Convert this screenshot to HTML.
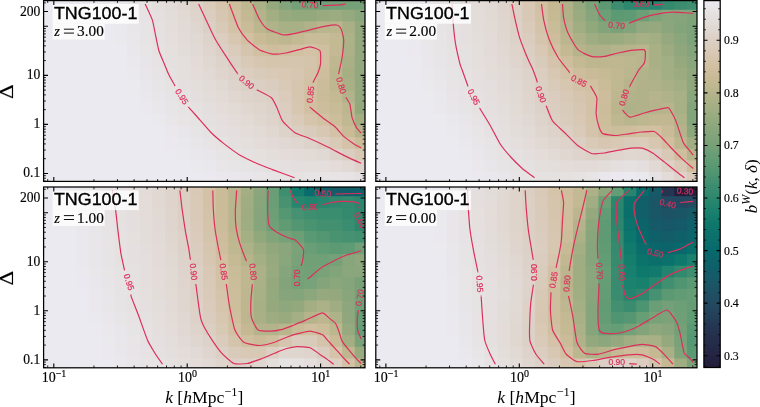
<!DOCTYPE html><html><head><meta charset="utf-8"><style>html,body{margin:0;padding:0;background:#fff;}svg{display:block;will-change:transform;}.t{font-family:"Liberation Serif",serif;fill:#000;stroke:#000;stroke-width:0.15px;}.u{font-family:"Liberation Serif",serif;fill:#000;}.s{font-family:"Liberation Sans",sans-serif;fill:#000;}</style></head><body>
<svg width="760" height="407" viewBox="0 0 760 407">
<rect width="760" height="407" fill="#fff"/>
<defs>
<clipPath id="cTL"><rect x="43.6" y="0.6" width="321.40" height="180.80"/></clipPath>
<clipPath id="cTR"><rect x="375.8" y="0.6" width="321.20" height="180.80"/></clipPath>
<clipPath id="cBL"><rect x="43.6" y="187.0" width="321.40" height="180.80"/></clipPath>
<clipPath id="cBR"><rect x="375.8" y="187.0" width="321.20" height="180.80"/></clipPath>
</defs>
<g clip-path="url(#cTL)">
<rect x="43.60" y="0.60" width="8.60" height="10.20" fill="#ebeaf0"/>
<rect x="51.20" y="0.60" width="13.65" height="10.20" fill="#ebeaf0"/>
<rect x="63.85" y="0.60" width="13.65" height="10.20" fill="#ebeaf0"/>
<rect x="76.50" y="0.60" width="13.65" height="10.20" fill="#ebeaf0"/>
<rect x="89.15" y="0.60" width="13.65" height="10.20" fill="#ebeaf0"/>
<rect x="101.80" y="0.60" width="13.65" height="10.20" fill="#ebeaef"/>
<rect x="114.45" y="0.60" width="13.65" height="10.20" fill="#e9e7eb"/>
<rect x="127.10" y="0.60" width="13.65" height="10.20" fill="#e8e4e6"/>
<rect x="139.75" y="0.60" width="13.65" height="10.20" fill="#e6e2e2"/>
<rect x="152.40" y="0.60" width="13.65" height="10.20" fill="#e4dfdd"/>
<rect x="165.05" y="0.60" width="13.65" height="10.20" fill="#e2dbd7"/>
<rect x="177.70" y="0.60" width="13.65" height="10.20" fill="#e0d7d0"/>
<rect x="190.35" y="0.60" width="13.65" height="10.20" fill="#ddd1c8"/>
<rect x="203.00" y="0.60" width="13.65" height="10.20" fill="#dacbbb"/>
<rect x="215.65" y="0.60" width="13.65" height="10.20" fill="#d5c5ac"/>
<rect x="228.30" y="0.60" width="13.65" height="10.20" fill="#cdbe9c"/>
<rect x="240.95" y="0.60" width="13.65" height="10.20" fill="#bfb790"/>
<rect x="253.60" y="0.60" width="13.65" height="10.20" fill="#abb187"/>
<rect x="266.25" y="0.60" width="13.65" height="10.20" fill="#96a97e"/>
<rect x="278.90" y="0.60" width="13.65" height="10.20" fill="#84a47b"/>
<rect x="291.55" y="0.60" width="13.65" height="10.20" fill="#76a178"/>
<rect x="304.20" y="0.60" width="13.65" height="10.20" fill="#73a077"/>
<rect x="316.85" y="0.60" width="13.65" height="10.20" fill="#70a077"/>
<rect x="329.50" y="0.60" width="13.65" height="10.20" fill="#72a077"/>
<rect x="342.15" y="0.60" width="13.65" height="10.20" fill="#76a178"/>
<rect x="354.80" y="0.60" width="11.20" height="10.20" fill="#76a178"/>
<rect x="43.60" y="9.80" width="8.60" height="12.59" fill="#ebeaf0"/>
<rect x="51.20" y="9.80" width="13.65" height="12.59" fill="#ebeaf0"/>
<rect x="63.85" y="9.80" width="13.65" height="12.59" fill="#ebeaf0"/>
<rect x="76.50" y="9.80" width="13.65" height="12.59" fill="#ebeaf0"/>
<rect x="89.15" y="9.80" width="13.65" height="12.59" fill="#ebeaf0"/>
<rect x="101.80" y="9.80" width="13.65" height="12.59" fill="#ebeaf0"/>
<rect x="114.45" y="9.80" width="13.65" height="12.59" fill="#eae8ec"/>
<rect x="127.10" y="9.80" width="13.65" height="12.59" fill="#e8e5e8"/>
<rect x="139.75" y="9.80" width="13.65" height="12.59" fill="#e7e3e4"/>
<rect x="152.40" y="9.80" width="13.65" height="12.59" fill="#e5e0df"/>
<rect x="165.05" y="9.80" width="13.65" height="12.59" fill="#e3ddda"/>
<rect x="177.70" y="9.80" width="13.65" height="12.59" fill="#e1d9d3"/>
<rect x="190.35" y="9.80" width="13.65" height="12.59" fill="#ded4cc"/>
<rect x="203.00" y="9.80" width="13.65" height="12.59" fill="#dbcec1"/>
<rect x="215.65" y="9.80" width="13.65" height="12.59" fill="#d7c7b2"/>
<rect x="228.30" y="9.80" width="13.65" height="12.59" fill="#d1c0a1"/>
<rect x="240.95" y="9.80" width="13.65" height="12.59" fill="#c4b993"/>
<rect x="253.60" y="9.80" width="13.65" height="12.59" fill="#b4b38b"/>
<rect x="266.25" y="9.80" width="13.65" height="12.59" fill="#a3ae83"/>
<rect x="278.90" y="9.80" width="13.65" height="12.59" fill="#97a97e"/>
<rect x="291.55" y="9.80" width="13.65" height="12.59" fill="#92a87d"/>
<rect x="304.20" y="9.80" width="13.65" height="12.59" fill="#94a87e"/>
<rect x="316.85" y="9.80" width="13.65" height="12.59" fill="#99aa7f"/>
<rect x="329.50" y="9.80" width="13.65" height="12.59" fill="#9cac81"/>
<rect x="342.15" y="9.80" width="13.65" height="12.59" fill="#95a97e"/>
<rect x="354.80" y="9.80" width="11.20" height="12.59" fill="#8aa67c"/>
<rect x="43.60" y="21.39" width="8.60" height="12.59" fill="#ebeaf0"/>
<rect x="51.20" y="21.39" width="13.65" height="12.59" fill="#ebeaf0"/>
<rect x="63.85" y="21.39" width="13.65" height="12.59" fill="#ebeaf0"/>
<rect x="76.50" y="21.39" width="13.65" height="12.59" fill="#ebeaf0"/>
<rect x="89.15" y="21.39" width="13.65" height="12.59" fill="#ebeaf0"/>
<rect x="101.80" y="21.39" width="13.65" height="12.59" fill="#ebeaf0"/>
<rect x="114.45" y="21.39" width="13.65" height="12.59" fill="#eae9ed"/>
<rect x="127.10" y="21.39" width="13.65" height="12.59" fill="#e9e6e9"/>
<rect x="139.75" y="21.39" width="13.65" height="12.59" fill="#e7e4e5"/>
<rect x="152.40" y="21.39" width="13.65" height="12.59" fill="#e5e1e0"/>
<rect x="165.05" y="21.39" width="13.65" height="12.59" fill="#e4dedb"/>
<rect x="177.70" y="21.39" width="13.65" height="12.59" fill="#e2dad6"/>
<rect x="190.35" y="21.39" width="13.65" height="12.59" fill="#dfd6cf"/>
<rect x="203.00" y="21.39" width="13.65" height="12.59" fill="#dcd0c6"/>
<rect x="215.65" y="21.39" width="13.65" height="12.59" fill="#d9cab8"/>
<rect x="228.30" y="21.39" width="13.65" height="12.59" fill="#d4c2a7"/>
<rect x="240.95" y="21.39" width="13.65" height="12.59" fill="#cabc98"/>
<rect x="253.60" y="21.39" width="13.65" height="12.59" fill="#bcb68f"/>
<rect x="266.25" y="21.39" width="13.65" height="12.59" fill="#b0b289"/>
<rect x="278.90" y="21.39" width="13.65" height="12.59" fill="#a8b085"/>
<rect x="291.55" y="21.39" width="13.65" height="12.59" fill="#a9b086"/>
<rect x="304.20" y="21.39" width="13.65" height="12.59" fill="#b1b289"/>
<rect x="316.85" y="21.39" width="13.65" height="12.59" fill="#b9b58d"/>
<rect x="329.50" y="21.39" width="13.65" height="12.59" fill="#bcb68f"/>
<rect x="342.15" y="21.39" width="13.65" height="12.59" fill="#aab086"/>
<rect x="354.80" y="21.39" width="11.20" height="12.59" fill="#93a87e"/>
<rect x="43.60" y="32.97" width="8.60" height="12.59" fill="#ebeaf0"/>
<rect x="51.20" y="32.97" width="13.65" height="12.59" fill="#ebeaf0"/>
<rect x="63.85" y="32.97" width="13.65" height="12.59" fill="#ebeaf0"/>
<rect x="76.50" y="32.97" width="13.65" height="12.59" fill="#ebeaf0"/>
<rect x="89.15" y="32.97" width="13.65" height="12.59" fill="#ebeaf0"/>
<rect x="101.80" y="32.97" width="13.65" height="12.59" fill="#ebeaf0"/>
<rect x="114.45" y="32.97" width="13.65" height="12.59" fill="#eae9ee"/>
<rect x="127.10" y="32.97" width="13.65" height="12.59" fill="#e9e7ea"/>
<rect x="139.75" y="32.97" width="13.65" height="12.59" fill="#e7e4e6"/>
<rect x="152.40" y="32.97" width="13.65" height="12.59" fill="#e6e1e1"/>
<rect x="165.05" y="32.97" width="13.65" height="12.59" fill="#e4dfdd"/>
<rect x="177.70" y="32.97" width="13.65" height="12.59" fill="#e2dbd8"/>
<rect x="190.35" y="32.97" width="13.65" height="12.59" fill="#e0d8d2"/>
<rect x="203.00" y="32.97" width="13.65" height="12.59" fill="#ded3ca"/>
<rect x="215.65" y="32.97" width="13.65" height="12.59" fill="#dbcdc0"/>
<rect x="228.30" y="32.97" width="13.65" height="12.59" fill="#d7c7b1"/>
<rect x="240.95" y="32.97" width="13.65" height="12.59" fill="#d1c0a1"/>
<rect x="253.60" y="32.97" width="13.65" height="12.59" fill="#c8bb96"/>
<rect x="266.25" y="32.97" width="13.65" height="12.59" fill="#c2b892"/>
<rect x="278.90" y="32.97" width="13.65" height="12.59" fill="#bdb78f"/>
<rect x="291.55" y="32.97" width="13.65" height="12.59" fill="#c3b992"/>
<rect x="304.20" y="32.97" width="13.65" height="12.59" fill="#c9bc98"/>
<rect x="316.85" y="32.97" width="13.65" height="12.59" fill="#c9bc98"/>
<rect x="329.50" y="32.97" width="13.65" height="12.59" fill="#c3b992"/>
<rect x="342.15" y="32.97" width="13.65" height="12.59" fill="#aeb288"/>
<rect x="354.80" y="32.97" width="11.20" height="12.59" fill="#93a87e"/>
<rect x="43.60" y="44.56" width="8.60" height="12.59" fill="#ebeaf0"/>
<rect x="51.20" y="44.56" width="13.65" height="12.59" fill="#ebeaf0"/>
<rect x="63.85" y="44.56" width="13.65" height="12.59" fill="#ebeaf0"/>
<rect x="76.50" y="44.56" width="13.65" height="12.59" fill="#ebeaf0"/>
<rect x="89.15" y="44.56" width="13.65" height="12.59" fill="#ebeaf0"/>
<rect x="101.80" y="44.56" width="13.65" height="12.59" fill="#ebeaf0"/>
<rect x="114.45" y="44.56" width="13.65" height="12.59" fill="#ebeaf0"/>
<rect x="127.10" y="44.56" width="13.65" height="12.59" fill="#e9e7eb"/>
<rect x="139.75" y="44.56" width="13.65" height="12.59" fill="#e8e5e7"/>
<rect x="152.40" y="44.56" width="13.65" height="12.59" fill="#e6e2e2"/>
<rect x="165.05" y="44.56" width="13.65" height="12.59" fill="#e5dfde"/>
<rect x="177.70" y="44.56" width="13.65" height="12.59" fill="#e3ddda"/>
<rect x="190.35" y="44.56" width="13.65" height="12.59" fill="#e1d9d5"/>
<rect x="203.00" y="44.56" width="13.65" height="12.59" fill="#dfd5ce"/>
<rect x="215.65" y="44.56" width="13.65" height="12.59" fill="#dcd0c6"/>
<rect x="228.30" y="44.56" width="13.65" height="12.59" fill="#dacbbb"/>
<rect x="240.95" y="44.56" width="13.65" height="12.59" fill="#d6c5ae"/>
<rect x="253.60" y="44.56" width="13.65" height="12.59" fill="#d2c0a2"/>
<rect x="266.25" y="44.56" width="13.65" height="12.59" fill="#cfbe9e"/>
<rect x="278.90" y="44.56" width="13.65" height="12.59" fill="#d0bf9f"/>
<rect x="291.55" y="44.56" width="13.65" height="12.59" fill="#d2c0a3"/>
<rect x="304.20" y="44.56" width="13.65" height="12.59" fill="#d4c2a7"/>
<rect x="316.85" y="44.56" width="13.65" height="12.59" fill="#d0bfa0"/>
<rect x="329.50" y="44.56" width="13.65" height="12.59" fill="#c3b992"/>
<rect x="342.15" y="44.56" width="13.65" height="12.59" fill="#acb187"/>
<rect x="354.80" y="44.56" width="11.20" height="12.59" fill="#93a87e"/>
<rect x="43.60" y="56.14" width="8.60" height="12.59" fill="#ebeaf0"/>
<rect x="51.20" y="56.14" width="13.65" height="12.59" fill="#ebeaf0"/>
<rect x="63.85" y="56.14" width="13.65" height="12.59" fill="#ebeaf0"/>
<rect x="76.50" y="56.14" width="13.65" height="12.59" fill="#ebeaf0"/>
<rect x="89.15" y="56.14" width="13.65" height="12.59" fill="#ebeaf0"/>
<rect x="101.80" y="56.14" width="13.65" height="12.59" fill="#ebeaf0"/>
<rect x="114.45" y="56.14" width="13.65" height="12.59" fill="#ebeaf0"/>
<rect x="127.10" y="56.14" width="13.65" height="12.59" fill="#eae8ec"/>
<rect x="139.75" y="56.14" width="13.65" height="12.59" fill="#e8e5e8"/>
<rect x="152.40" y="56.14" width="13.65" height="12.59" fill="#e7e3e4"/>
<rect x="165.05" y="56.14" width="13.65" height="12.59" fill="#e5e0e0"/>
<rect x="177.70" y="56.14" width="13.65" height="12.59" fill="#e4dedc"/>
<rect x="190.35" y="56.14" width="13.65" height="12.59" fill="#e2dbd7"/>
<rect x="203.00" y="56.14" width="13.65" height="12.59" fill="#e0d7d1"/>
<rect x="215.65" y="56.14" width="13.65" height="12.59" fill="#ded3cb"/>
<rect x="228.30" y="56.14" width="13.65" height="12.59" fill="#dbcec2"/>
<rect x="240.95" y="56.14" width="13.65" height="12.59" fill="#d9cab8"/>
<rect x="253.60" y="56.14" width="13.65" height="12.59" fill="#d7c6b0"/>
<rect x="266.25" y="56.14" width="13.65" height="12.59" fill="#d5c5ac"/>
<rect x="278.90" y="56.14" width="13.65" height="12.59" fill="#d6c5ad"/>
<rect x="291.55" y="56.14" width="13.65" height="12.59" fill="#d6c5ae"/>
<rect x="304.20" y="56.14" width="13.65" height="12.59" fill="#d5c4ac"/>
<rect x="316.85" y="56.14" width="13.65" height="12.59" fill="#d1bfa0"/>
<rect x="329.50" y="56.14" width="13.65" height="12.59" fill="#bfb790"/>
<rect x="342.15" y="56.14" width="13.65" height="12.59" fill="#a9b086"/>
<rect x="354.80" y="56.14" width="11.20" height="12.59" fill="#93a87e"/>
<rect x="43.60" y="67.73" width="8.60" height="12.59" fill="#ebeaf0"/>
<rect x="51.20" y="67.73" width="13.65" height="12.59" fill="#ebeaf0"/>
<rect x="63.85" y="67.73" width="13.65" height="12.59" fill="#ebeaf0"/>
<rect x="76.50" y="67.73" width="13.65" height="12.59" fill="#ebeaf0"/>
<rect x="89.15" y="67.73" width="13.65" height="12.59" fill="#ebeaf0"/>
<rect x="101.80" y="67.73" width="13.65" height="12.59" fill="#ebeaf0"/>
<rect x="114.45" y="67.73" width="13.65" height="12.59" fill="#ebeaf0"/>
<rect x="127.10" y="67.73" width="13.65" height="12.59" fill="#eae9ee"/>
<rect x="139.75" y="67.73" width="13.65" height="12.59" fill="#e9e6e9"/>
<rect x="152.40" y="67.73" width="13.65" height="12.59" fill="#e7e4e5"/>
<rect x="165.05" y="67.73" width="13.65" height="12.59" fill="#e6e1e1"/>
<rect x="177.70" y="67.73" width="13.65" height="12.59" fill="#e4dfdd"/>
<rect x="190.35" y="67.73" width="13.65" height="12.59" fill="#e3dcd9"/>
<rect x="203.00" y="67.73" width="13.65" height="12.59" fill="#e1d9d4"/>
<rect x="215.65" y="67.73" width="13.65" height="12.59" fill="#dfd5ce"/>
<rect x="228.30" y="67.73" width="13.65" height="12.59" fill="#ddd1c8"/>
<rect x="240.95" y="67.73" width="13.65" height="12.59" fill="#dbcdc0"/>
<rect x="253.60" y="67.73" width="13.65" height="12.59" fill="#d9cbba"/>
<rect x="266.25" y="67.73" width="13.65" height="12.59" fill="#d9c9b7"/>
<rect x="278.90" y="67.73" width="13.65" height="12.59" fill="#d8c8b4"/>
<rect x="291.55" y="67.73" width="13.65" height="12.59" fill="#d7c6b0"/>
<rect x="304.20" y="67.73" width="13.65" height="12.59" fill="#d4c3a9"/>
<rect x="316.85" y="67.73" width="13.65" height="12.59" fill="#cebe9e"/>
<rect x="329.50" y="67.73" width="13.65" height="12.59" fill="#bbb68e"/>
<rect x="342.15" y="67.73" width="13.65" height="12.59" fill="#a6af84"/>
<rect x="354.80" y="67.73" width="11.20" height="12.59" fill="#93a87e"/>
<rect x="43.60" y="79.32" width="8.60" height="12.59" fill="#ebeaf0"/>
<rect x="51.20" y="79.32" width="13.65" height="12.59" fill="#ebeaf0"/>
<rect x="63.85" y="79.32" width="13.65" height="12.59" fill="#ebeaf0"/>
<rect x="76.50" y="79.32" width="13.65" height="12.59" fill="#ebeaf0"/>
<rect x="89.15" y="79.32" width="13.65" height="12.59" fill="#ebeaf0"/>
<rect x="101.80" y="79.32" width="13.65" height="12.59" fill="#ebeaf0"/>
<rect x="114.45" y="79.32" width="13.65" height="12.59" fill="#ebeaf0"/>
<rect x="127.10" y="79.32" width="13.65" height="12.59" fill="#ebeaef"/>
<rect x="139.75" y="79.32" width="13.65" height="12.59" fill="#e9e7eb"/>
<rect x="152.40" y="79.32" width="13.65" height="12.59" fill="#e8e5e7"/>
<rect x="165.05" y="79.32" width="13.65" height="12.59" fill="#e6e3e3"/>
<rect x="177.70" y="79.32" width="13.65" height="12.59" fill="#e5e0df"/>
<rect x="190.35" y="79.32" width="13.65" height="12.59" fill="#e4dedb"/>
<rect x="203.00" y="79.32" width="13.65" height="12.59" fill="#e2dbd7"/>
<rect x="215.65" y="79.32" width="13.65" height="12.59" fill="#e0d8d2"/>
<rect x="228.30" y="79.32" width="13.65" height="12.59" fill="#ded4cc"/>
<rect x="240.95" y="79.32" width="13.65" height="12.59" fill="#dcd1c7"/>
<rect x="253.60" y="79.32" width="13.65" height="12.59" fill="#dbcec2"/>
<rect x="266.25" y="79.32" width="13.65" height="12.59" fill="#daccbe"/>
<rect x="278.90" y="79.32" width="13.65" height="12.59" fill="#d9cab8"/>
<rect x="291.55" y="79.32" width="13.65" height="12.59" fill="#d6c6af"/>
<rect x="304.20" y="79.32" width="13.65" height="12.59" fill="#d3c1a4"/>
<rect x="316.85" y="79.32" width="13.65" height="12.59" fill="#cbbc9a"/>
<rect x="329.50" y="79.32" width="13.65" height="12.59" fill="#beb790"/>
<rect x="342.15" y="79.32" width="13.65" height="12.59" fill="#aab086"/>
<rect x="354.80" y="79.32" width="11.20" height="12.59" fill="#93a87e"/>
<rect x="43.60" y="90.90" width="8.60" height="12.59" fill="#ebeaf0"/>
<rect x="51.20" y="90.90" width="13.65" height="12.59" fill="#ebeaf0"/>
<rect x="63.85" y="90.90" width="13.65" height="12.59" fill="#ebeaf0"/>
<rect x="76.50" y="90.90" width="13.65" height="12.59" fill="#ebeaf0"/>
<rect x="89.15" y="90.90" width="13.65" height="12.59" fill="#ebeaf0"/>
<rect x="101.80" y="90.90" width="13.65" height="12.59" fill="#ebeaf0"/>
<rect x="114.45" y="90.90" width="13.65" height="12.59" fill="#ebeaf0"/>
<rect x="127.10" y="90.90" width="13.65" height="12.59" fill="#ebeaf0"/>
<rect x="139.75" y="90.90" width="13.65" height="12.59" fill="#eae8ed"/>
<rect x="152.40" y="90.90" width="13.65" height="12.59" fill="#e9e6e9"/>
<rect x="165.05" y="90.90" width="13.65" height="12.59" fill="#e7e4e5"/>
<rect x="177.70" y="90.90" width="13.65" height="12.59" fill="#e6e2e1"/>
<rect x="190.35" y="90.90" width="13.65" height="12.59" fill="#e4dfde"/>
<rect x="203.00" y="90.90" width="13.65" height="12.59" fill="#e3ddda"/>
<rect x="215.65" y="90.90" width="13.65" height="12.59" fill="#e1dad5"/>
<rect x="228.30" y="90.90" width="13.65" height="12.59" fill="#e0d7d1"/>
<rect x="240.95" y="90.90" width="13.65" height="12.59" fill="#ded4cc"/>
<rect x="253.60" y="90.90" width="13.65" height="12.59" fill="#ddd2c9"/>
<rect x="266.25" y="90.90" width="13.65" height="12.59" fill="#dcd0c5"/>
<rect x="278.90" y="90.90" width="13.65" height="12.59" fill="#dacbbb"/>
<rect x="291.55" y="90.90" width="13.65" height="12.59" fill="#d6c6af"/>
<rect x="304.20" y="90.90" width="13.65" height="12.59" fill="#d1c0a1"/>
<rect x="316.85" y="90.90" width="13.65" height="12.59" fill="#cbbc99"/>
<rect x="329.50" y="90.90" width="13.65" height="12.59" fill="#c3b993"/>
<rect x="342.15" y="90.90" width="13.65" height="12.59" fill="#b2b38a"/>
<rect x="354.80" y="90.90" width="11.20" height="12.59" fill="#93a87e"/>
<rect x="43.60" y="102.49" width="8.60" height="12.59" fill="#ebeaf0"/>
<rect x="51.20" y="102.49" width="13.65" height="12.59" fill="#ebeaf0"/>
<rect x="63.85" y="102.49" width="13.65" height="12.59" fill="#ebeaf0"/>
<rect x="76.50" y="102.49" width="13.65" height="12.59" fill="#ebeaf0"/>
<rect x="89.15" y="102.49" width="13.65" height="12.59" fill="#ebeaf0"/>
<rect x="101.80" y="102.49" width="13.65" height="12.59" fill="#ebeaf0"/>
<rect x="114.45" y="102.49" width="13.65" height="12.59" fill="#ebeaf0"/>
<rect x="127.10" y="102.49" width="13.65" height="12.59" fill="#ebeaf0"/>
<rect x="139.75" y="102.49" width="13.65" height="12.59" fill="#ebe9ef"/>
<rect x="152.40" y="102.49" width="13.65" height="12.59" fill="#e9e7eb"/>
<rect x="165.05" y="102.49" width="13.65" height="12.59" fill="#e8e5e7"/>
<rect x="177.70" y="102.49" width="13.65" height="12.59" fill="#e7e3e4"/>
<rect x="190.35" y="102.49" width="13.65" height="12.59" fill="#e5e1e0"/>
<rect x="203.00" y="102.49" width="13.65" height="12.59" fill="#e4dfdd"/>
<rect x="215.65" y="102.49" width="13.65" height="12.59" fill="#e3dcd9"/>
<rect x="228.30" y="102.49" width="13.65" height="12.59" fill="#e1dad5"/>
<rect x="240.95" y="102.49" width="13.65" height="12.59" fill="#e0d7d1"/>
<rect x="253.60" y="102.49" width="13.65" height="12.59" fill="#dfd5cd"/>
<rect x="266.25" y="102.49" width="13.65" height="12.59" fill="#ddd2c9"/>
<rect x="278.90" y="102.49" width="13.65" height="12.59" fill="#dbcdc0"/>
<rect x="291.55" y="102.49" width="13.65" height="12.59" fill="#d7c7b1"/>
<rect x="304.20" y="102.49" width="13.65" height="12.59" fill="#d2c0a2"/>
<rect x="316.85" y="102.49" width="13.65" height="12.59" fill="#ccbd9c"/>
<rect x="329.50" y="102.49" width="13.65" height="12.59" fill="#c8bb97"/>
<rect x="342.15" y="102.49" width="13.65" height="12.59" fill="#bdb78f"/>
<rect x="354.80" y="102.49" width="11.20" height="12.59" fill="#94a87e"/>
<rect x="43.60" y="114.07" width="8.60" height="12.59" fill="#ebeaf0"/>
<rect x="51.20" y="114.07" width="13.65" height="12.59" fill="#ebeaf0"/>
<rect x="63.85" y="114.07" width="13.65" height="12.59" fill="#ebeaf0"/>
<rect x="76.50" y="114.07" width="13.65" height="12.59" fill="#ebeaf0"/>
<rect x="89.15" y="114.07" width="13.65" height="12.59" fill="#ebeaf0"/>
<rect x="101.80" y="114.07" width="13.65" height="12.59" fill="#ebeaf0"/>
<rect x="114.45" y="114.07" width="13.65" height="12.59" fill="#ebeaf0"/>
<rect x="127.10" y="114.07" width="13.65" height="12.59" fill="#ebeaf0"/>
<rect x="139.75" y="114.07" width="13.65" height="12.59" fill="#ebeaf0"/>
<rect x="152.40" y="114.07" width="13.65" height="12.59" fill="#eae9ed"/>
<rect x="165.05" y="114.07" width="13.65" height="12.59" fill="#e9e6ea"/>
<rect x="177.70" y="114.07" width="13.65" height="12.59" fill="#e8e4e6"/>
<rect x="190.35" y="114.07" width="13.65" height="12.59" fill="#e6e3e3"/>
<rect x="203.00" y="114.07" width="13.65" height="12.59" fill="#e5e0e0"/>
<rect x="215.65" y="114.07" width="13.65" height="12.59" fill="#e4dedc"/>
<rect x="228.30" y="114.07" width="13.65" height="12.59" fill="#e3dcd9"/>
<rect x="240.95" y="114.07" width="13.65" height="12.59" fill="#e1dad5"/>
<rect x="253.60" y="114.07" width="13.65" height="12.59" fill="#e0d7d1"/>
<rect x="266.25" y="114.07" width="13.65" height="12.59" fill="#ded4cc"/>
<rect x="278.90" y="114.07" width="13.65" height="12.59" fill="#dbcfc3"/>
<rect x="291.55" y="114.07" width="13.65" height="12.59" fill="#d9cab9"/>
<rect x="304.20" y="114.07" width="13.65" height="12.59" fill="#d6c5ad"/>
<rect x="316.85" y="114.07" width="13.65" height="12.59" fill="#d3c1a4"/>
<rect x="329.50" y="114.07" width="13.65" height="12.59" fill="#ccbd9b"/>
<rect x="342.15" y="114.07" width="13.65" height="12.59" fill="#c0b891"/>
<rect x="354.80" y="114.07" width="11.20" height="12.59" fill="#a3ae83"/>
<rect x="43.60" y="125.66" width="8.60" height="12.59" fill="#ebeaf0"/>
<rect x="51.20" y="125.66" width="13.65" height="12.59" fill="#ebeaf0"/>
<rect x="63.85" y="125.66" width="13.65" height="12.59" fill="#ebeaf0"/>
<rect x="76.50" y="125.66" width="13.65" height="12.59" fill="#ebeaf0"/>
<rect x="89.15" y="125.66" width="13.65" height="12.59" fill="#ebeaf0"/>
<rect x="101.80" y="125.66" width="13.65" height="12.59" fill="#ebeaf0"/>
<rect x="114.45" y="125.66" width="13.65" height="12.59" fill="#ebeaf0"/>
<rect x="127.10" y="125.66" width="13.65" height="12.59" fill="#ebeaf0"/>
<rect x="139.75" y="125.66" width="13.65" height="12.59" fill="#ebeaf0"/>
<rect x="152.40" y="125.66" width="13.65" height="12.59" fill="#ebeaf0"/>
<rect x="165.05" y="125.66" width="13.65" height="12.59" fill="#eae8ec"/>
<rect x="177.70" y="125.66" width="13.65" height="12.59" fill="#e8e6e9"/>
<rect x="190.35" y="125.66" width="13.65" height="12.59" fill="#e7e4e6"/>
<rect x="203.00" y="125.66" width="13.65" height="12.59" fill="#e6e2e2"/>
<rect x="215.65" y="125.66" width="13.65" height="12.59" fill="#e5e0df"/>
<rect x="228.30" y="125.66" width="13.65" height="12.59" fill="#e4dedc"/>
<rect x="240.95" y="125.66" width="13.65" height="12.59" fill="#e3dcd9"/>
<rect x="253.60" y="125.66" width="13.65" height="12.59" fill="#e1dad5"/>
<rect x="266.25" y="125.66" width="13.65" height="12.59" fill="#e0d7d0"/>
<rect x="278.90" y="125.66" width="13.65" height="12.59" fill="#ded3cb"/>
<rect x="291.55" y="125.66" width="13.65" height="12.59" fill="#dbcfc3"/>
<rect x="304.20" y="125.66" width="13.65" height="12.59" fill="#daccbc"/>
<rect x="316.85" y="125.66" width="13.65" height="12.59" fill="#d8c7b3"/>
<rect x="329.50" y="125.66" width="13.65" height="12.59" fill="#d4c2a7"/>
<rect x="342.15" y="125.66" width="13.65" height="12.59" fill="#c8bb96"/>
<rect x="354.80" y="125.66" width="11.20" height="12.59" fill="#b4b38b"/>
<rect x="43.60" y="137.25" width="8.60" height="12.59" fill="#ebeaf0"/>
<rect x="51.20" y="137.25" width="13.65" height="12.59" fill="#ebeaf0"/>
<rect x="63.85" y="137.25" width="13.65" height="12.59" fill="#ebeaf0"/>
<rect x="76.50" y="137.25" width="13.65" height="12.59" fill="#ebeaf0"/>
<rect x="89.15" y="137.25" width="13.65" height="12.59" fill="#ebeaf0"/>
<rect x="101.80" y="137.25" width="13.65" height="12.59" fill="#ebeaf0"/>
<rect x="114.45" y="137.25" width="13.65" height="12.59" fill="#ebeaf0"/>
<rect x="127.10" y="137.25" width="13.65" height="12.59" fill="#ebeaf0"/>
<rect x="139.75" y="137.25" width="13.65" height="12.59" fill="#ebeaf0"/>
<rect x="152.40" y="137.25" width="13.65" height="12.59" fill="#ebeaf0"/>
<rect x="165.05" y="137.25" width="13.65" height="12.59" fill="#ebe9ef"/>
<rect x="177.70" y="137.25" width="13.65" height="12.59" fill="#e9e8ec"/>
<rect x="190.35" y="137.25" width="13.65" height="12.59" fill="#e8e6e8"/>
<rect x="203.00" y="137.25" width="13.65" height="12.59" fill="#e7e4e5"/>
<rect x="215.65" y="137.25" width="13.65" height="12.59" fill="#e6e2e2"/>
<rect x="228.30" y="137.25" width="13.65" height="12.59" fill="#e5e0e0"/>
<rect x="240.95" y="137.25" width="13.65" height="12.59" fill="#e4dfdd"/>
<rect x="253.60" y="137.25" width="13.65" height="12.59" fill="#e3dcd9"/>
<rect x="266.25" y="137.25" width="13.65" height="12.59" fill="#e2dad6"/>
<rect x="278.90" y="137.25" width="13.65" height="12.59" fill="#e0d8d2"/>
<rect x="291.55" y="137.25" width="13.65" height="12.59" fill="#dfd6cf"/>
<rect x="304.20" y="137.25" width="13.65" height="12.59" fill="#ded3ca"/>
<rect x="316.85" y="137.25" width="13.65" height="12.59" fill="#dbcfc3"/>
<rect x="329.50" y="137.25" width="13.65" height="12.59" fill="#d9cab8"/>
<rect x="342.15" y="137.25" width="13.65" height="12.59" fill="#d4c3a8"/>
<rect x="354.80" y="137.25" width="11.20" height="12.59" fill="#cabc99"/>
<rect x="43.60" y="148.83" width="8.60" height="12.59" fill="#ebeaf0"/>
<rect x="51.20" y="148.83" width="13.65" height="12.59" fill="#ebeaf0"/>
<rect x="63.85" y="148.83" width="13.65" height="12.59" fill="#ebeaf0"/>
<rect x="76.50" y="148.83" width="13.65" height="12.59" fill="#ebeaf0"/>
<rect x="89.15" y="148.83" width="13.65" height="12.59" fill="#ebeaf0"/>
<rect x="101.80" y="148.83" width="13.65" height="12.59" fill="#ebeaf0"/>
<rect x="114.45" y="148.83" width="13.65" height="12.59" fill="#ebeaf0"/>
<rect x="127.10" y="148.83" width="13.65" height="12.59" fill="#ebeaf0"/>
<rect x="139.75" y="148.83" width="13.65" height="12.59" fill="#ebeaf0"/>
<rect x="152.40" y="148.83" width="13.65" height="12.59" fill="#ebeaf0"/>
<rect x="165.05" y="148.83" width="13.65" height="12.59" fill="#ebeaf0"/>
<rect x="177.70" y="148.83" width="13.65" height="12.59" fill="#eae9ee"/>
<rect x="190.35" y="148.83" width="13.65" height="12.59" fill="#e9e7eb"/>
<rect x="203.00" y="148.83" width="13.65" height="12.59" fill="#e8e6e8"/>
<rect x="215.65" y="148.83" width="13.65" height="12.59" fill="#e7e4e6"/>
<rect x="228.30" y="148.83" width="13.65" height="12.59" fill="#e6e3e3"/>
<rect x="240.95" y="148.83" width="13.65" height="12.59" fill="#e5e1e0"/>
<rect x="253.60" y="148.83" width="13.65" height="12.59" fill="#e5dfde"/>
<rect x="266.25" y="148.83" width="13.65" height="12.59" fill="#e4dedb"/>
<rect x="278.90" y="148.83" width="13.65" height="12.59" fill="#e3dcd9"/>
<rect x="291.55" y="148.83" width="13.65" height="12.59" fill="#e2dbd7"/>
<rect x="304.20" y="148.83" width="13.65" height="12.59" fill="#e1dad5"/>
<rect x="316.85" y="148.83" width="13.65" height="12.59" fill="#e0d8d2"/>
<rect x="329.50" y="148.83" width="13.65" height="12.59" fill="#ded3cb"/>
<rect x="342.15" y="148.83" width="13.65" height="12.59" fill="#dbcec0"/>
<rect x="354.80" y="148.83" width="11.20" height="12.59" fill="#d8c7b3"/>
<rect x="43.60" y="160.42" width="8.60" height="12.59" fill="#ebeaf0"/>
<rect x="51.20" y="160.42" width="13.65" height="12.59" fill="#ebeaf0"/>
<rect x="63.85" y="160.42" width="13.65" height="12.59" fill="#ebeaf0"/>
<rect x="76.50" y="160.42" width="13.65" height="12.59" fill="#ebeaf0"/>
<rect x="89.15" y="160.42" width="13.65" height="12.59" fill="#ebeaf0"/>
<rect x="101.80" y="160.42" width="13.65" height="12.59" fill="#ebeaf0"/>
<rect x="114.45" y="160.42" width="13.65" height="12.59" fill="#ebeaf0"/>
<rect x="127.10" y="160.42" width="13.65" height="12.59" fill="#ebeaf0"/>
<rect x="139.75" y="160.42" width="13.65" height="12.59" fill="#ebeaf0"/>
<rect x="152.40" y="160.42" width="13.65" height="12.59" fill="#ebeaf0"/>
<rect x="165.05" y="160.42" width="13.65" height="12.59" fill="#ebeaf0"/>
<rect x="177.70" y="160.42" width="13.65" height="12.59" fill="#ebeaf0"/>
<rect x="190.35" y="160.42" width="13.65" height="12.59" fill="#eae9ee"/>
<rect x="203.00" y="160.42" width="13.65" height="12.59" fill="#e9e8ec"/>
<rect x="215.65" y="160.42" width="13.65" height="12.59" fill="#e9e6e9"/>
<rect x="228.30" y="160.42" width="13.65" height="12.59" fill="#e8e5e7"/>
<rect x="240.95" y="160.42" width="13.65" height="12.59" fill="#e7e4e5"/>
<rect x="253.60" y="160.42" width="13.65" height="12.59" fill="#e6e2e3"/>
<rect x="266.25" y="160.42" width="13.65" height="12.59" fill="#e6e1e1"/>
<rect x="278.90" y="160.42" width="13.65" height="12.59" fill="#e5e0df"/>
<rect x="291.55" y="160.42" width="13.65" height="12.59" fill="#e4dfdd"/>
<rect x="304.20" y="160.42" width="13.65" height="12.59" fill="#e4dfdd"/>
<rect x="316.85" y="160.42" width="13.65" height="12.59" fill="#e4dedc"/>
<rect x="329.50" y="160.42" width="13.65" height="12.59" fill="#e3dcd9"/>
<rect x="342.15" y="160.42" width="13.65" height="12.59" fill="#e1d9d4"/>
<rect x="354.80" y="160.42" width="11.20" height="12.59" fill="#ded3cb"/>
<rect x="43.60" y="172.00" width="8.60" height="10.40" fill="#ebeaf0"/>
<rect x="51.20" y="172.00" width="13.65" height="10.40" fill="#ebeaf0"/>
<rect x="63.85" y="172.00" width="13.65" height="10.40" fill="#ebeaf0"/>
<rect x="76.50" y="172.00" width="13.65" height="10.40" fill="#ebeaf0"/>
<rect x="89.15" y="172.00" width="13.65" height="10.40" fill="#ebeaf0"/>
<rect x="101.80" y="172.00" width="13.65" height="10.40" fill="#ebeaf0"/>
<rect x="114.45" y="172.00" width="13.65" height="10.40" fill="#ebeaf0"/>
<rect x="127.10" y="172.00" width="13.65" height="10.40" fill="#ebeaf0"/>
<rect x="139.75" y="172.00" width="13.65" height="10.40" fill="#ebeaf0"/>
<rect x="152.40" y="172.00" width="13.65" height="10.40" fill="#ebeaf0"/>
<rect x="165.05" y="172.00" width="13.65" height="10.40" fill="#ebeaf0"/>
<rect x="177.70" y="172.00" width="13.65" height="10.40" fill="#ebeaf0"/>
<rect x="190.35" y="172.00" width="13.65" height="10.40" fill="#ebeaf0"/>
<rect x="203.00" y="172.00" width="13.65" height="10.40" fill="#ebe9ef"/>
<rect x="215.65" y="172.00" width="13.65" height="10.40" fill="#eae8ed"/>
<rect x="228.30" y="172.00" width="13.65" height="10.40" fill="#e9e7eb"/>
<rect x="240.95" y="172.00" width="13.65" height="10.40" fill="#e9e6e9"/>
<rect x="253.60" y="172.00" width="13.65" height="10.40" fill="#e8e5e7"/>
<rect x="266.25" y="172.00" width="13.65" height="10.40" fill="#e7e4e5"/>
<rect x="278.90" y="172.00" width="13.65" height="10.40" fill="#e6e3e3"/>
<rect x="291.55" y="172.00" width="13.65" height="10.40" fill="#e6e2e2"/>
<rect x="304.20" y="172.00" width="13.65" height="10.40" fill="#e7e3e4"/>
<rect x="316.85" y="172.00" width="13.65" height="10.40" fill="#e8e4e6"/>
<rect x="329.50" y="172.00" width="13.65" height="10.40" fill="#e8e4e6"/>
<rect x="342.15" y="172.00" width="13.65" height="10.40" fill="#e7e3e4"/>
<rect x="354.80" y="172.00" width="11.20" height="10.40" fill="#e5e0df"/>
</g>
<g clip-path="url(#cTL)"><g fill="none" stroke="#dd2f5c" stroke-width="1.2" stroke-linejoin="round" stroke-linecap="butt">
<path d="M145.2,4.0 C146.5,6.9 151.3,17.0 152.3,19.9 C153.3,22.8 155.0,32.6 155.6,35.4 C156.2,38.2 158.1,48.2 158.9,50.8 C159.7,53.4 163.5,61.9 164.4,64.1 C165.3,66.3 168.0,73.0 169.0,75.0 C170.0,77.0 174.0,84.0 175.1,86.1"/>
<path d="M188.7,107.1 C188.7,107.2 188.0,106.4 189.0,107.6 C190.0,108.8 197.7,117.4 199.7,119.7 C201.7,122.0 208.8,130.3 211.0,132.5 C213.2,134.7 221.2,141.5 223.9,143.6 C226.6,145.7 237.5,153.7 240.5,155.5 C243.5,157.3 254.1,162.2 257.0,163.5 C259.9,164.8 269.1,168.3 272.5,169.6 C275.9,170.9 290.5,176.3 294.6,177.8"/>
<path d="M198.7,4.0 C199.7,6.1 202.5,12.3 204.0,15.5 C205.5,18.7 213.0,35.0 215.0,38.7 C217.0,42.4 224.1,53.3 226.1,56.4 C228.1,59.5 236.0,71.3 237.1,72.9 C238.2,74.5 237.6,73.4 237.7,73.5"/>
<path d="M256.7,89.7 C259.4,91.2 269.5,96.1 271.4,97.7 C273.3,99.3 275.9,105.5 276.9,107.6 C277.9,109.7 280.9,118.6 282.5,120.9 C284.1,123.2 292.2,130.8 294.6,132.4 C297.0,134.0 306.0,137.0 309.0,138.3 C312.0,139.6 324.5,145.4 327.8,147.0 C331.1,148.6 342.3,154.6 345.4,156.1 C348.5,157.6 358.2,162.0 361.1,163.3"/>
<path d="M229.4,4.0 C231.0,8.3 236.7,24.3 238.3,27.6 C239.9,30.9 245.2,37.8 247.1,39.8 C249.0,41.8 256.9,48.4 259.2,49.7 C261.5,51.0 270.1,53.8 272.5,54.1 C274.9,54.4 283.4,53.4 285.8,53.0 C288.2,52.6 296.8,50.3 299.0,49.7 C301.2,49.1 308.2,46.8 310.1,46.9 C312.0,47.0 319.0,49.2 320.0,50.8 C321.0,52.4 320.7,62.1 320.5,64.1 C320.3,66.1 318.5,71.3 317.8,72.9 C317.1,74.5 313.8,80.9 313.4,81.8 C313.0,82.7 313.2,82.5 313.1,82.7"/>
<path d="M310.5,107.1 C310.5,107.2 309.3,106.6 310.5,107.6 C311.7,108.6 321.0,116.4 323.3,118.2 C325.6,120.0 333.7,125.6 335.5,127.2 C337.3,128.8 341.5,134.3 343.2,135.9 C344.9,137.5 352.7,143.1 354.3,144.2 C355.9,145.3 359.9,147.2 361.1,147.9"/>
<path d="M252.6,4.0 C253.8,6.7 257.9,16.5 259.2,18.8 C260.5,21.1 264.8,27.2 267.0,28.7 C269.2,30.2 280.9,34.5 283.6,34.9 C286.3,35.3 294.4,33.6 296.8,33.1 C299.2,32.6 307.5,30.4 310.1,29.8 C312.7,29.2 323.1,26.5 325.5,26.1 C327.9,25.7 335.2,24.8 336.6,25.0 C338.0,25.2 340.3,27.3 341.0,28.7 C341.7,30.1 343.6,37.2 343.7,39.8 C343.8,42.4 342.5,54.5 342.1,57.5 C341.7,60.5 339.1,71.4 338.8,72.9 C338.5,74.4 338.9,73.3 338.9,73.3"/>
<path d="M345.7,97.2 C346.5,98.5 349.3,102.4 349.9,104.3 C350.5,106.2 351.5,115.5 352.1,117.6 C352.7,119.7 355.7,126.2 356.5,127.6 C357.3,129.0 360.3,132.1 361.1,133.1"/>
<path d="M322.6,5.6 C325.8,5.5 337.9,5.0 340.0,4.9 C342.1,4.8 344.5,4.2 345.5,4.0"/>
</g>
<text class="s" x="182.0" y="99.6" font-size="8.6" style="fill:#dd2f5c;stroke:#dd2f5c;stroke-width:0.2px" text-anchor="middle" transform="rotate(57 182.0 96.5)">0.95</text>
<text class="s" x="246.7" y="85.3" font-size="8.6" style="fill:#dd2f5c;stroke:#dd2f5c;stroke-width:0.2px" text-anchor="middle" transform="rotate(40 246.7 82.2)">0.90</text>
<text class="s" x="310.2" y="97.7" font-size="8.6" style="fill:#dd2f5c;stroke:#dd2f5c;stroke-width:0.2px" text-anchor="middle" transform="rotate(-84 310.2 94.6)">0.85</text>
<text class="s" x="341.2" y="88.6" font-size="8.6" style="fill:#dd2f5c;stroke:#dd2f5c;stroke-width:0.2px" text-anchor="middle" transform="rotate(74 341.2 85.5)">0.80</text>
<text class="s" x="310.1" y="7.7" font-size="8.6" style="fill:#dd2f5c;stroke:#dd2f5c;stroke-width:0.2px" text-anchor="middle" transform="rotate(3 310.1 4.6)">0.70</text>
</g>
<rect x="52.6" y="4.0" width="86.1" height="19.7" fill="#fff" fill-opacity="0.8"/>
<rect x="52.6" y="23.7" width="52.1" height="15.8" fill="#fff" fill-opacity="0.8"/>
<text class="s" x="0" y="0" font-size="16.6" style="stroke:#000;stroke-width:0.35px" transform="translate(53.90,18.90) scale(1.077,1)">TNG100-1</text>
<text class="t" x="54.2" y="36.1" font-size="14.6" font-style="italic">z</text>
<path d="M63.9,29.2H74.0M63.9,33.1H74.0" stroke="#000" stroke-width="0.95" fill="none"/>
<text class="t" x="77.1" y="36.1" font-size="15.3">3.00</text>
<rect x="43.6" y="0.6" width="321.40" height="180.80" fill="none" stroke="#000" stroke-width="1.25"/>
<path d="M53.80,181.40v-4.4M53.80,0.60v4.4M187.20,181.40v-4.4M187.20,0.60v4.4M320.60,181.40v-4.4M320.60,0.60v4.4M43.60,173.45h4.4M365.00,173.45h-4.4M43.60,124.40h4.4M365.00,124.40h-4.4M43.60,75.35h4.4M365.00,75.35h-4.4M43.60,26.30h4.4M365.00,26.30h-4.4M43.60,11.53h4.4M365.00,11.53h-4.4" stroke="#000" stroke-width="1.1" fill="none"/>
<path d="M47.70,181.40v-2.3M47.70,0.60v2.3M93.96,181.40v-2.3M93.96,0.60v2.3M117.45,181.40v-2.3M117.45,0.60v2.3M134.11,181.40v-2.3M134.11,0.60v2.3M147.04,181.40v-2.3M147.04,0.60v2.3M157.61,181.40v-2.3M157.61,0.60v2.3M166.54,181.40v-2.3M166.54,0.60v2.3M174.27,181.40v-2.3M174.27,0.60v2.3M181.10,181.40v-2.3M181.10,0.60v2.3M227.36,181.40v-2.3M227.36,0.60v2.3M250.85,181.40v-2.3M250.85,0.60v2.3M267.51,181.40v-2.3M267.51,0.60v2.3M280.44,181.40v-2.3M280.44,0.60v2.3M291.01,181.40v-2.3M291.01,0.60v2.3M299.94,181.40v-2.3M299.94,0.60v2.3M307.67,181.40v-2.3M307.67,0.60v2.3M314.50,181.40v-2.3M314.50,0.60v2.3M360.76,181.40v-2.3M360.76,0.60v2.3M43.60,181.05h2.3M365.00,181.05h-2.3M43.60,178.20h2.3M365.00,178.20h-2.3M43.60,175.69h2.3M365.00,175.69h-2.3M43.60,158.68h2.3M365.00,158.68h-2.3M43.60,150.05h2.3M365.00,150.05h-2.3M43.60,143.92h2.3M365.00,143.92h-2.3M43.60,139.17h2.3M365.00,139.17h-2.3M43.60,135.28h2.3M365.00,135.28h-2.3M43.60,132.00h2.3M365.00,132.00h-2.3M43.60,129.15h2.3M365.00,129.15h-2.3M43.60,126.64h2.3M365.00,126.64h-2.3M43.60,109.63h2.3M365.00,109.63h-2.3M43.60,101.00h2.3M365.00,101.00h-2.3M43.60,94.87h2.3M365.00,94.87h-2.3M43.60,90.12h2.3M365.00,90.12h-2.3M43.60,86.23h2.3M365.00,86.23h-2.3M43.60,82.95h2.3M365.00,82.95h-2.3M43.60,80.10h2.3M365.00,80.10h-2.3M43.60,77.59h2.3M365.00,77.59h-2.3M43.60,60.58h2.3M365.00,60.58h-2.3M43.60,51.95h2.3M365.00,51.95h-2.3M43.60,45.82h2.3M365.00,45.82h-2.3M43.60,41.07h2.3M365.00,41.07h-2.3M43.60,37.18h2.3M365.00,37.18h-2.3M43.60,33.90h2.3M365.00,33.90h-2.3M43.60,31.05h2.3M365.00,31.05h-2.3M43.60,28.54h2.3M365.00,28.54h-2.3M43.60,2.90h2.3M365.00,2.90h-2.3" stroke="#000" stroke-width="0.85" fill="none"/>
<text class="t" x="40.3" y="15.5" font-size="13.6" text-anchor="end">200</text>
<text class="t" x="40.3" y="79.4" font-size="13.6" text-anchor="end">10</text>
<text class="t" x="40.3" y="128.4" font-size="13.6" text-anchor="end">1</text>
<text class="t" x="40.3" y="177.4" font-size="13.6" text-anchor="end">0.1</text>
<g clip-path="url(#cTR)">
<rect x="375.80" y="0.60" width="8.50" height="10.20" fill="#ebeaf0"/>
<rect x="383.30" y="0.60" width="13.65" height="10.20" fill="#ebeaf0"/>
<rect x="395.95" y="0.60" width="13.65" height="10.20" fill="#ebeaf0"/>
<rect x="408.60" y="0.60" width="13.65" height="10.20" fill="#eae8ed"/>
<rect x="421.25" y="0.60" width="13.65" height="10.20" fill="#e9e6e9"/>
<rect x="433.90" y="0.60" width="13.65" height="10.20" fill="#e7e4e6"/>
<rect x="446.55" y="0.60" width="13.65" height="10.20" fill="#e6e2e2"/>
<rect x="459.20" y="0.60" width="13.65" height="10.20" fill="#e4dfde"/>
<rect x="471.85" y="0.60" width="13.65" height="10.20" fill="#e3dcd9"/>
<rect x="484.50" y="0.60" width="13.65" height="10.20" fill="#e1d9d3"/>
<rect x="497.15" y="0.60" width="13.65" height="10.20" fill="#ded4cc"/>
<rect x="509.80" y="0.60" width="13.65" height="10.20" fill="#dbcec2"/>
<rect x="522.45" y="0.60" width="13.65" height="10.20" fill="#d8c8b4"/>
<rect x="535.10" y="0.60" width="13.65" height="10.20" fill="#d2c0a2"/>
<rect x="547.75" y="0.60" width="13.65" height="10.20" fill="#c4b993"/>
<rect x="560.40" y="0.60" width="13.65" height="10.20" fill="#afb288"/>
<rect x="573.05" y="0.60" width="13.65" height="10.20" fill="#96a97e"/>
<rect x="585.70" y="0.60" width="13.65" height="10.20" fill="#7ca37a"/>
<rect x="598.35" y="0.60" width="13.65" height="10.20" fill="#5d9a74"/>
<rect x="611.00" y="0.60" width="13.65" height="10.20" fill="#3d8e70"/>
<rect x="623.65" y="0.60" width="13.65" height="10.20" fill="#2d876e"/>
<rect x="636.30" y="0.60" width="13.65" height="10.20" fill="#2c876e"/>
<rect x="648.95" y="0.60" width="13.65" height="10.20" fill="#25856e"/>
<rect x="661.60" y="0.60" width="13.65" height="10.20" fill="#348a6f"/>
<rect x="674.25" y="0.60" width="13.65" height="10.20" fill="#3c8d70"/>
<rect x="686.90" y="0.60" width="11.10" height="10.20" fill="#408f70"/>
<rect x="375.80" y="9.80" width="8.50" height="12.59" fill="#ebeaf0"/>
<rect x="383.30" y="9.80" width="13.65" height="12.59" fill="#ebeaf0"/>
<rect x="395.95" y="9.80" width="13.65" height="12.59" fill="#ebeaf0"/>
<rect x="408.60" y="9.80" width="13.65" height="12.59" fill="#eae8ed"/>
<rect x="421.25" y="9.80" width="13.65" height="12.59" fill="#e9e6ea"/>
<rect x="433.90" y="9.80" width="13.65" height="12.59" fill="#e7e4e6"/>
<rect x="446.55" y="9.80" width="13.65" height="12.59" fill="#e6e2e2"/>
<rect x="459.20" y="9.80" width="13.65" height="12.59" fill="#e5e0de"/>
<rect x="471.85" y="9.80" width="13.65" height="12.59" fill="#e3ddda"/>
<rect x="484.50" y="9.80" width="13.65" height="12.59" fill="#e1d9d4"/>
<rect x="497.15" y="9.80" width="13.65" height="12.59" fill="#dfd5ce"/>
<rect x="509.80" y="9.80" width="13.65" height="12.59" fill="#dccfc4"/>
<rect x="522.45" y="9.80" width="13.65" height="12.59" fill="#d8c9b6"/>
<rect x="535.10" y="9.80" width="13.65" height="12.59" fill="#d3c1a5"/>
<rect x="547.75" y="9.80" width="13.65" height="12.59" fill="#c6ba94"/>
<rect x="560.40" y="9.80" width="13.65" height="12.59" fill="#b1b289"/>
<rect x="573.05" y="9.80" width="13.65" height="12.59" fill="#9bab80"/>
<rect x="585.70" y="9.80" width="13.65" height="12.59" fill="#86a57c"/>
<rect x="598.35" y="9.80" width="13.65" height="12.59" fill="#6d9f77"/>
<rect x="611.00" y="9.80" width="13.65" height="12.59" fill="#5c9a74"/>
<rect x="623.65" y="9.80" width="13.65" height="12.59" fill="#5e9b74"/>
<rect x="636.30" y="9.80" width="13.65" height="12.59" fill="#6d9f77"/>
<rect x="648.95" y="9.80" width="13.65" height="12.59" fill="#7da37a"/>
<rect x="661.60" y="9.80" width="13.65" height="12.59" fill="#88a57c"/>
<rect x="674.25" y="9.80" width="13.65" height="12.59" fill="#87a57c"/>
<rect x="686.90" y="9.80" width="11.10" height="12.59" fill="#80a37a"/>
<rect x="375.80" y="21.39" width="8.50" height="12.59" fill="#ebeaf0"/>
<rect x="383.30" y="21.39" width="13.65" height="12.59" fill="#ebeaf0"/>
<rect x="395.95" y="21.39" width="13.65" height="12.59" fill="#ebeaf0"/>
<rect x="408.60" y="21.39" width="13.65" height="12.59" fill="#eae9ee"/>
<rect x="421.25" y="21.39" width="13.65" height="12.59" fill="#e9e6ea"/>
<rect x="433.90" y="21.39" width="13.65" height="12.59" fill="#e7e4e6"/>
<rect x="446.55" y="21.39" width="13.65" height="12.59" fill="#e6e2e2"/>
<rect x="459.20" y="21.39" width="13.65" height="12.59" fill="#e5e0df"/>
<rect x="471.85" y="21.39" width="13.65" height="12.59" fill="#e3ddda"/>
<rect x="484.50" y="21.39" width="13.65" height="12.59" fill="#e2dad5"/>
<rect x="497.15" y="21.39" width="13.65" height="12.59" fill="#dfd6cf"/>
<rect x="509.80" y="21.39" width="13.65" height="12.59" fill="#dcd0c7"/>
<rect x="522.45" y="21.39" width="13.65" height="12.59" fill="#d9caba"/>
<rect x="535.10" y="21.39" width="13.65" height="12.59" fill="#d4c3a9"/>
<rect x="547.75" y="21.39" width="13.65" height="12.59" fill="#c9bc98"/>
<rect x="560.40" y="21.39" width="13.65" height="12.59" fill="#b6b48c"/>
<rect x="573.05" y="21.39" width="13.65" height="12.59" fill="#a1ad82"/>
<rect x="585.70" y="21.39" width="13.65" height="12.59" fill="#91a87d"/>
<rect x="598.35" y="21.39" width="13.65" height="12.59" fill="#82a47b"/>
<rect x="611.00" y="21.39" width="13.65" height="12.59" fill="#7aa279"/>
<rect x="623.65" y="21.39" width="13.65" height="12.59" fill="#83a47b"/>
<rect x="636.30" y="21.39" width="13.65" height="12.59" fill="#93a87e"/>
<rect x="648.95" y="21.39" width="13.65" height="12.59" fill="#96a97e"/>
<rect x="661.60" y="21.39" width="13.65" height="12.59" fill="#8ba67d"/>
<rect x="674.25" y="21.39" width="13.65" height="12.59" fill="#84a47b"/>
<rect x="686.90" y="21.39" width="11.10" height="12.59" fill="#7da37a"/>
<rect x="375.80" y="32.97" width="8.50" height="12.59" fill="#ebeaf0"/>
<rect x="383.30" y="32.97" width="13.65" height="12.59" fill="#ebeaf0"/>
<rect x="395.95" y="32.97" width="13.65" height="12.59" fill="#ebeaf0"/>
<rect x="408.60" y="32.97" width="13.65" height="12.59" fill="#eae9ee"/>
<rect x="421.25" y="32.97" width="13.65" height="12.59" fill="#e9e7ea"/>
<rect x="433.90" y="32.97" width="13.65" height="12.59" fill="#e8e5e6"/>
<rect x="446.55" y="32.97" width="13.65" height="12.59" fill="#e6e2e3"/>
<rect x="459.20" y="32.97" width="13.65" height="12.59" fill="#e5e0df"/>
<rect x="471.85" y="32.97" width="13.65" height="12.59" fill="#e4dedb"/>
<rect x="484.50" y="32.97" width="13.65" height="12.59" fill="#e2dbd7"/>
<rect x="497.15" y="32.97" width="13.65" height="12.59" fill="#e0d7d1"/>
<rect x="509.80" y="32.97" width="13.65" height="12.59" fill="#ddd2c9"/>
<rect x="522.45" y="32.97" width="13.65" height="12.59" fill="#daccbe"/>
<rect x="535.10" y="32.97" width="13.65" height="12.59" fill="#d6c5ae"/>
<rect x="547.75" y="32.97" width="13.65" height="12.59" fill="#cdbd9c"/>
<rect x="560.40" y="32.97" width="13.65" height="12.59" fill="#bcb68f"/>
<rect x="573.05" y="32.97" width="13.65" height="12.59" fill="#acb187"/>
<rect x="585.70" y="32.97" width="13.65" height="12.59" fill="#9fad82"/>
<rect x="598.35" y="32.97" width="13.65" height="12.59" fill="#9aaa7f"/>
<rect x="611.00" y="32.97" width="13.65" height="12.59" fill="#9aab80"/>
<rect x="623.65" y="32.97" width="13.65" height="12.59" fill="#a0ad82"/>
<rect x="636.30" y="32.97" width="13.65" height="12.59" fill="#a7b085"/>
<rect x="648.95" y="32.97" width="13.65" height="12.59" fill="#a2ae83"/>
<rect x="661.60" y="32.97" width="13.65" height="12.59" fill="#96a97e"/>
<rect x="674.25" y="32.97" width="13.65" height="12.59" fill="#8aa67c"/>
<rect x="686.90" y="32.97" width="11.10" height="12.59" fill="#7da37a"/>
<rect x="375.80" y="44.56" width="8.50" height="12.59" fill="#ebeaf0"/>
<rect x="383.30" y="44.56" width="13.65" height="12.59" fill="#ebeaf0"/>
<rect x="395.95" y="44.56" width="13.65" height="12.59" fill="#ebeaf0"/>
<rect x="408.60" y="44.56" width="13.65" height="12.59" fill="#ebe9ef"/>
<rect x="421.25" y="44.56" width="13.65" height="12.59" fill="#e9e7eb"/>
<rect x="433.90" y="44.56" width="13.65" height="12.59" fill="#e8e5e7"/>
<rect x="446.55" y="44.56" width="13.65" height="12.59" fill="#e6e3e3"/>
<rect x="459.20" y="44.56" width="13.65" height="12.59" fill="#e5e1e0"/>
<rect x="471.85" y="44.56" width="13.65" height="12.59" fill="#e4dedc"/>
<rect x="484.50" y="44.56" width="13.65" height="12.59" fill="#e2dbd8"/>
<rect x="497.15" y="44.56" width="13.65" height="12.59" fill="#e0d8d3"/>
<rect x="509.80" y="44.56" width="13.65" height="12.59" fill="#ded4cc"/>
<rect x="522.45" y="44.56" width="13.65" height="12.59" fill="#dbcec2"/>
<rect x="535.10" y="44.56" width="13.65" height="12.59" fill="#d8c8b4"/>
<rect x="547.75" y="44.56" width="13.65" height="12.59" fill="#d2c0a3"/>
<rect x="560.40" y="44.56" width="13.65" height="12.59" fill="#c4b993"/>
<rect x="573.05" y="44.56" width="13.65" height="12.59" fill="#b7b48c"/>
<rect x="585.70" y="44.56" width="13.65" height="12.59" fill="#afb288"/>
<rect x="598.35" y="44.56" width="13.65" height="12.59" fill="#afb289"/>
<rect x="611.00" y="44.56" width="13.65" height="12.59" fill="#b4b38b"/>
<rect x="623.65" y="44.56" width="13.65" height="12.59" fill="#b7b48c"/>
<rect x="636.30" y="44.56" width="13.65" height="12.59" fill="#b9b58d"/>
<rect x="648.95" y="44.56" width="13.65" height="12.59" fill="#a9b086"/>
<rect x="661.60" y="44.56" width="13.65" height="12.59" fill="#9cab80"/>
<rect x="674.25" y="44.56" width="13.65" height="12.59" fill="#90a77d"/>
<rect x="686.90" y="44.56" width="11.10" height="12.59" fill="#84a47b"/>
<rect x="375.80" y="56.14" width="8.50" height="12.59" fill="#ebeaf0"/>
<rect x="383.30" y="56.14" width="13.65" height="12.59" fill="#ebeaf0"/>
<rect x="395.95" y="56.14" width="13.65" height="12.59" fill="#ebeaf0"/>
<rect x="408.60" y="56.14" width="13.65" height="12.59" fill="#ebeaef"/>
<rect x="421.25" y="56.14" width="13.65" height="12.59" fill="#e9e7ec"/>
<rect x="433.90" y="56.14" width="13.65" height="12.59" fill="#e8e5e8"/>
<rect x="446.55" y="56.14" width="13.65" height="12.59" fill="#e7e3e4"/>
<rect x="459.20" y="56.14" width="13.65" height="12.59" fill="#e5e1e0"/>
<rect x="471.85" y="56.14" width="13.65" height="12.59" fill="#e4dfdd"/>
<rect x="484.50" y="56.14" width="13.65" height="12.59" fill="#e3dcd9"/>
<rect x="497.15" y="56.14" width="13.65" height="12.59" fill="#e1d9d4"/>
<rect x="509.80" y="56.14" width="13.65" height="12.59" fill="#dfd5ce"/>
<rect x="522.45" y="56.14" width="13.65" height="12.59" fill="#dcd0c6"/>
<rect x="535.10" y="56.14" width="13.65" height="12.59" fill="#d9cbba"/>
<rect x="547.75" y="56.14" width="13.65" height="12.59" fill="#d5c4ab"/>
<rect x="560.40" y="56.14" width="13.65" height="12.59" fill="#cebe9d"/>
<rect x="573.05" y="56.14" width="13.65" height="12.59" fill="#c3b993"/>
<rect x="585.70" y="56.14" width="13.65" height="12.59" fill="#bdb68f"/>
<rect x="598.35" y="56.14" width="13.65" height="12.59" fill="#bdb68f"/>
<rect x="611.00" y="56.14" width="13.65" height="12.59" fill="#bfb790"/>
<rect x="623.65" y="56.14" width="13.65" height="12.59" fill="#bdb78f"/>
<rect x="636.30" y="56.14" width="13.65" height="12.59" fill="#b9b58d"/>
<rect x="648.95" y="56.14" width="13.65" height="12.59" fill="#a9b086"/>
<rect x="661.60" y="56.14" width="13.65" height="12.59" fill="#a2ae83"/>
<rect x="674.25" y="56.14" width="13.65" height="12.59" fill="#96a97e"/>
<rect x="686.90" y="56.14" width="11.10" height="12.59" fill="#8aa67c"/>
<rect x="375.80" y="67.73" width="8.50" height="12.59" fill="#ebeaf0"/>
<rect x="383.30" y="67.73" width="13.65" height="12.59" fill="#ebeaf0"/>
<rect x="395.95" y="67.73" width="13.65" height="12.59" fill="#ebeaf0"/>
<rect x="408.60" y="67.73" width="13.65" height="12.59" fill="#ebeaf0"/>
<rect x="421.25" y="67.73" width="13.65" height="12.59" fill="#eae8ed"/>
<rect x="433.90" y="67.73" width="13.65" height="12.59" fill="#e8e6e9"/>
<rect x="446.55" y="67.73" width="13.65" height="12.59" fill="#e7e4e5"/>
<rect x="459.20" y="67.73" width="13.65" height="12.59" fill="#e6e2e1"/>
<rect x="471.85" y="67.73" width="13.65" height="12.59" fill="#e5dfde"/>
<rect x="484.50" y="67.73" width="13.65" height="12.59" fill="#e3ddda"/>
<rect x="497.15" y="67.73" width="13.65" height="12.59" fill="#e2dad6"/>
<rect x="509.80" y="67.73" width="13.65" height="12.59" fill="#e0d7d1"/>
<rect x="522.45" y="67.73" width="13.65" height="12.59" fill="#ddd3ca"/>
<rect x="535.10" y="67.73" width="13.65" height="12.59" fill="#dbcdc0"/>
<rect x="547.75" y="67.73" width="13.65" height="12.59" fill="#d8c8b3"/>
<rect x="560.40" y="67.73" width="13.65" height="12.59" fill="#d3c2a6"/>
<rect x="573.05" y="67.73" width="13.65" height="12.59" fill="#cdbd9c"/>
<rect x="585.70" y="67.73" width="13.65" height="12.59" fill="#c9bb97"/>
<rect x="598.35" y="67.73" width="13.65" height="12.59" fill="#c6ba94"/>
<rect x="611.00" y="67.73" width="13.65" height="12.59" fill="#c1b891"/>
<rect x="623.65" y="67.73" width="13.65" height="12.59" fill="#bbb68e"/>
<rect x="636.30" y="67.73" width="13.65" height="12.59" fill="#b3b38a"/>
<rect x="648.95" y="67.73" width="13.65" height="12.59" fill="#acb187"/>
<rect x="661.60" y="67.73" width="13.65" height="12.59" fill="#a2ae83"/>
<rect x="674.25" y="67.73" width="13.65" height="12.59" fill="#9cab80"/>
<rect x="686.90" y="67.73" width="11.10" height="12.59" fill="#90a77d"/>
<rect x="375.80" y="79.32" width="8.50" height="12.59" fill="#ebeaf0"/>
<rect x="383.30" y="79.32" width="13.65" height="12.59" fill="#ebeaf0"/>
<rect x="395.95" y="79.32" width="13.65" height="12.59" fill="#ebeaf0"/>
<rect x="408.60" y="79.32" width="13.65" height="12.59" fill="#ebeaf0"/>
<rect x="421.25" y="79.32" width="13.65" height="12.59" fill="#eae9ee"/>
<rect x="433.90" y="79.32" width="13.65" height="12.59" fill="#e9e7ea"/>
<rect x="446.55" y="79.32" width="13.65" height="12.59" fill="#e8e4e6"/>
<rect x="459.20" y="79.32" width="13.65" height="12.59" fill="#e6e2e3"/>
<rect x="471.85" y="79.32" width="13.65" height="12.59" fill="#e5e0df"/>
<rect x="484.50" y="79.32" width="13.65" height="12.59" fill="#e4dedc"/>
<rect x="497.15" y="79.32" width="13.65" height="12.59" fill="#e2dbd7"/>
<rect x="509.80" y="79.32" width="13.65" height="12.59" fill="#e0d8d2"/>
<rect x="522.45" y="79.32" width="13.65" height="12.59" fill="#ded4cc"/>
<rect x="535.10" y="79.32" width="13.65" height="12.59" fill="#dbcfc3"/>
<rect x="547.75" y="79.32" width="13.65" height="12.59" fill="#d9cab9"/>
<rect x="560.40" y="79.32" width="13.65" height="12.59" fill="#d7c6b0"/>
<rect x="573.05" y="79.32" width="13.65" height="12.59" fill="#d4c2a7"/>
<rect x="585.70" y="79.32" width="13.65" height="12.59" fill="#d1c0a1"/>
<rect x="598.35" y="79.32" width="13.65" height="12.59" fill="#cabc99"/>
<rect x="611.00" y="79.32" width="13.65" height="12.59" fill="#c0b891"/>
<rect x="623.65" y="79.32" width="13.65" height="12.59" fill="#b7b48c"/>
<rect x="636.30" y="79.32" width="13.65" height="12.59" fill="#b1b289"/>
<rect x="648.95" y="79.32" width="13.65" height="12.59" fill="#b0b289"/>
<rect x="661.60" y="79.32" width="13.65" height="12.59" fill="#a9b086"/>
<rect x="674.25" y="79.32" width="13.65" height="12.59" fill="#a2ae83"/>
<rect x="686.90" y="79.32" width="11.10" height="12.59" fill="#90a77d"/>
<rect x="375.80" y="90.90" width="8.50" height="12.59" fill="#ebeaf0"/>
<rect x="383.30" y="90.90" width="13.65" height="12.59" fill="#ebeaf0"/>
<rect x="395.95" y="90.90" width="13.65" height="12.59" fill="#ebeaf0"/>
<rect x="408.60" y="90.90" width="13.65" height="12.59" fill="#ebeaf0"/>
<rect x="421.25" y="90.90" width="13.65" height="12.59" fill="#ebeaef"/>
<rect x="433.90" y="90.90" width="13.65" height="12.59" fill="#e9e8ec"/>
<rect x="446.55" y="90.90" width="13.65" height="12.59" fill="#e8e5e8"/>
<rect x="459.20" y="90.90" width="13.65" height="12.59" fill="#e7e3e4"/>
<rect x="471.85" y="90.90" width="13.65" height="12.59" fill="#e6e1e1"/>
<rect x="484.50" y="90.90" width="13.65" height="12.59" fill="#e4dfdd"/>
<rect x="497.15" y="90.90" width="13.65" height="12.59" fill="#e3dcd9"/>
<rect x="509.80" y="90.90" width="13.65" height="12.59" fill="#e1d9d4"/>
<rect x="522.45" y="90.90" width="13.65" height="12.59" fill="#dfd5cd"/>
<rect x="535.10" y="90.90" width="13.65" height="12.59" fill="#dcd0c6"/>
<rect x="547.75" y="90.90" width="13.65" height="12.59" fill="#daccbe"/>
<rect x="560.40" y="90.90" width="13.65" height="12.59" fill="#d8c9b6"/>
<rect x="573.05" y="90.90" width="13.65" height="12.59" fill="#d6c5ae"/>
<rect x="585.70" y="90.90" width="13.65" height="12.59" fill="#d3c2a6"/>
<rect x="598.35" y="90.90" width="13.65" height="12.59" fill="#cdbd9c"/>
<rect x="611.00" y="90.90" width="13.65" height="12.59" fill="#bdb68f"/>
<rect x="623.65" y="90.90" width="13.65" height="12.59" fill="#b2b38a"/>
<rect x="636.30" y="90.90" width="13.65" height="12.59" fill="#b1b289"/>
<rect x="648.95" y="90.90" width="13.65" height="12.59" fill="#b6b48c"/>
<rect x="661.60" y="90.90" width="13.65" height="12.59" fill="#b0b289"/>
<rect x="674.25" y="90.90" width="13.65" height="12.59" fill="#a8b085"/>
<rect x="686.90" y="90.90" width="11.10" height="12.59" fill="#8aa67c"/>
<rect x="375.80" y="102.49" width="8.50" height="12.59" fill="#ebeaf0"/>
<rect x="383.30" y="102.49" width="13.65" height="12.59" fill="#ebeaf0"/>
<rect x="395.95" y="102.49" width="13.65" height="12.59" fill="#ebeaf0"/>
<rect x="408.60" y="102.49" width="13.65" height="12.59" fill="#ebeaf0"/>
<rect x="421.25" y="102.49" width="13.65" height="12.59" fill="#ebeaf0"/>
<rect x="433.90" y="102.49" width="13.65" height="12.59" fill="#eae8ed"/>
<rect x="446.55" y="102.49" width="13.65" height="12.59" fill="#e9e6ea"/>
<rect x="459.20" y="102.49" width="13.65" height="12.59" fill="#e7e4e6"/>
<rect x="471.85" y="102.49" width="13.65" height="12.59" fill="#e6e2e2"/>
<rect x="484.50" y="102.49" width="13.65" height="12.59" fill="#e5e0df"/>
<rect x="497.15" y="102.49" width="13.65" height="12.59" fill="#e3dddb"/>
<rect x="509.80" y="102.49" width="13.65" height="12.59" fill="#e2dad5"/>
<rect x="522.45" y="102.49" width="13.65" height="12.59" fill="#dfd6cf"/>
<rect x="535.10" y="102.49" width="13.65" height="12.59" fill="#ddd2c9"/>
<rect x="547.75" y="102.49" width="13.65" height="12.59" fill="#dbcec1"/>
<rect x="560.40" y="102.49" width="13.65" height="12.59" fill="#d9cbba"/>
<rect x="573.05" y="102.49" width="13.65" height="12.59" fill="#d7c7b2"/>
<rect x="585.70" y="102.49" width="13.65" height="12.59" fill="#d4c2a7"/>
<rect x="598.35" y="102.49" width="13.65" height="12.59" fill="#cbbd9a"/>
<rect x="611.00" y="102.49" width="13.65" height="12.59" fill="#bbb58e"/>
<rect x="623.65" y="102.49" width="13.65" height="12.59" fill="#afb289"/>
<rect x="636.30" y="102.49" width="13.65" height="12.59" fill="#b1b289"/>
<rect x="648.95" y="102.49" width="13.65" height="12.59" fill="#b5b38b"/>
<rect x="661.60" y="102.49" width="13.65" height="12.59" fill="#b8b48c"/>
<rect x="674.25" y="102.49" width="13.65" height="12.59" fill="#a8b085"/>
<rect x="686.90" y="102.49" width="11.10" height="12.59" fill="#84a47b"/>
<rect x="375.80" y="114.07" width="8.50" height="12.59" fill="#ebeaf0"/>
<rect x="383.30" y="114.07" width="13.65" height="12.59" fill="#ebeaf0"/>
<rect x="395.95" y="114.07" width="13.65" height="12.59" fill="#ebeaf0"/>
<rect x="408.60" y="114.07" width="13.65" height="12.59" fill="#ebeaf0"/>
<rect x="421.25" y="114.07" width="13.65" height="12.59" fill="#ebeaf0"/>
<rect x="433.90" y="114.07" width="13.65" height="12.59" fill="#ebeaef"/>
<rect x="446.55" y="114.07" width="13.65" height="12.59" fill="#e9e8ec"/>
<rect x="459.20" y="114.07" width="13.65" height="12.59" fill="#e8e6e8"/>
<rect x="471.85" y="114.07" width="13.65" height="12.59" fill="#e7e3e5"/>
<rect x="484.50" y="114.07" width="13.65" height="12.59" fill="#e6e1e1"/>
<rect x="497.15" y="114.07" width="13.65" height="12.59" fill="#e4dfdd"/>
<rect x="509.80" y="114.07" width="13.65" height="12.59" fill="#e2dbd8"/>
<rect x="522.45" y="114.07" width="13.65" height="12.59" fill="#e0d8d2"/>
<rect x="535.10" y="114.07" width="13.65" height="12.59" fill="#ded4cc"/>
<rect x="547.75" y="114.07" width="13.65" height="12.59" fill="#dccfc4"/>
<rect x="560.40" y="114.07" width="13.65" height="12.59" fill="#daccbd"/>
<rect x="573.05" y="114.07" width="13.65" height="12.59" fill="#d8c8b4"/>
<rect x="585.70" y="114.07" width="13.65" height="12.59" fill="#d4c3a8"/>
<rect x="598.35" y="114.07" width="13.65" height="12.59" fill="#ccbd9b"/>
<rect x="611.00" y="114.07" width="13.65" height="12.59" fill="#bfb790"/>
<rect x="623.65" y="114.07" width="13.65" height="12.59" fill="#b9b58d"/>
<rect x="636.30" y="114.07" width="13.65" height="12.59" fill="#bdb68f"/>
<rect x="648.95" y="114.07" width="13.65" height="12.59" fill="#c1b892"/>
<rect x="661.60" y="114.07" width="13.65" height="12.59" fill="#c1b891"/>
<rect x="674.25" y="114.07" width="13.65" height="12.59" fill="#aeb288"/>
<rect x="686.90" y="114.07" width="11.10" height="12.59" fill="#84a47b"/>
<rect x="375.80" y="125.66" width="8.50" height="12.59" fill="#ebeaf0"/>
<rect x="383.30" y="125.66" width="13.65" height="12.59" fill="#ebeaf0"/>
<rect x="395.95" y="125.66" width="13.65" height="12.59" fill="#ebeaf0"/>
<rect x="408.60" y="125.66" width="13.65" height="12.59" fill="#ebeaf0"/>
<rect x="421.25" y="125.66" width="13.65" height="12.59" fill="#ebeaf0"/>
<rect x="433.90" y="125.66" width="13.65" height="12.59" fill="#ebeaf0"/>
<rect x="446.55" y="125.66" width="13.65" height="12.59" fill="#eae9ee"/>
<rect x="459.20" y="125.66" width="13.65" height="12.59" fill="#e9e7ea"/>
<rect x="471.85" y="125.66" width="13.65" height="12.59" fill="#e8e5e7"/>
<rect x="484.50" y="125.66" width="13.65" height="12.59" fill="#e6e2e3"/>
<rect x="497.15" y="125.66" width="13.65" height="12.59" fill="#e5e0df"/>
<rect x="509.80" y="125.66" width="13.65" height="12.59" fill="#e3ddda"/>
<rect x="522.45" y="125.66" width="13.65" height="12.59" fill="#e1dad5"/>
<rect x="535.10" y="125.66" width="13.65" height="12.59" fill="#e0d6d0"/>
<rect x="547.75" y="125.66" width="13.65" height="12.59" fill="#ded3ca"/>
<rect x="560.40" y="125.66" width="13.65" height="12.59" fill="#dccfc4"/>
<rect x="573.05" y="125.66" width="13.65" height="12.59" fill="#d9caba"/>
<rect x="585.70" y="125.66" width="13.65" height="12.59" fill="#d5c4ac"/>
<rect x="598.35" y="125.66" width="13.65" height="12.59" fill="#cfbf9f"/>
<rect x="611.00" y="125.66" width="13.65" height="12.59" fill="#ccbd9b"/>
<rect x="623.65" y="125.66" width="13.65" height="12.59" fill="#cebe9e"/>
<rect x="636.30" y="125.66" width="13.65" height="12.59" fill="#d1c0a1"/>
<rect x="648.95" y="125.66" width="13.65" height="12.59" fill="#d2c0a1"/>
<rect x="661.60" y="125.66" width="13.65" height="12.59" fill="#c9bb97"/>
<rect x="674.25" y="125.66" width="13.65" height="12.59" fill="#b5b38b"/>
<rect x="686.90" y="125.66" width="11.10" height="12.59" fill="#8da77d"/>
<rect x="375.80" y="137.25" width="8.50" height="12.59" fill="#ebeaf0"/>
<rect x="383.30" y="137.25" width="13.65" height="12.59" fill="#ebeaf0"/>
<rect x="395.95" y="137.25" width="13.65" height="12.59" fill="#ebeaf0"/>
<rect x="408.60" y="137.25" width="13.65" height="12.59" fill="#ebeaf0"/>
<rect x="421.25" y="137.25" width="13.65" height="12.59" fill="#ebeaf0"/>
<rect x="433.90" y="137.25" width="13.65" height="12.59" fill="#ebeaf0"/>
<rect x="446.55" y="137.25" width="13.65" height="12.59" fill="#ebeaf0"/>
<rect x="459.20" y="137.25" width="13.65" height="12.59" fill="#eae8ec"/>
<rect x="471.85" y="137.25" width="13.65" height="12.59" fill="#e8e6e9"/>
<rect x="484.50" y="137.25" width="13.65" height="12.59" fill="#e7e4e5"/>
<rect x="497.15" y="137.25" width="13.65" height="12.59" fill="#e6e1e1"/>
<rect x="509.80" y="137.25" width="13.65" height="12.59" fill="#e4dfdd"/>
<rect x="522.45" y="137.25" width="13.65" height="12.59" fill="#e3dcd9"/>
<rect x="535.10" y="137.25" width="13.65" height="12.59" fill="#e1d9d4"/>
<rect x="547.75" y="137.25" width="13.65" height="12.59" fill="#e0d6d0"/>
<rect x="560.40" y="137.25" width="13.65" height="12.59" fill="#ded3cb"/>
<rect x="573.05" y="137.25" width="13.65" height="12.59" fill="#dbcec3"/>
<rect x="585.70" y="137.25" width="13.65" height="12.59" fill="#d9cab8"/>
<rect x="598.35" y="137.25" width="13.65" height="12.59" fill="#d7c6b1"/>
<rect x="611.00" y="137.25" width="13.65" height="12.59" fill="#d8c8b4"/>
<rect x="623.65" y="137.25" width="13.65" height="12.59" fill="#d9cbba"/>
<rect x="636.30" y="137.25" width="13.65" height="12.59" fill="#dacbbb"/>
<rect x="648.95" y="137.25" width="13.65" height="12.59" fill="#d7c7b1"/>
<rect x="661.60" y="137.25" width="13.65" height="12.59" fill="#d1bfa0"/>
<rect x="674.25" y="137.25" width="13.65" height="12.59" fill="#bdb68f"/>
<rect x="686.90" y="137.25" width="11.10" height="12.59" fill="#a1ae83"/>
<rect x="375.80" y="148.83" width="8.50" height="12.59" fill="#ebeaf0"/>
<rect x="383.30" y="148.83" width="13.65" height="12.59" fill="#ebeaf0"/>
<rect x="395.95" y="148.83" width="13.65" height="12.59" fill="#ebeaf0"/>
<rect x="408.60" y="148.83" width="13.65" height="12.59" fill="#ebeaf0"/>
<rect x="421.25" y="148.83" width="13.65" height="12.59" fill="#ebeaf0"/>
<rect x="433.90" y="148.83" width="13.65" height="12.59" fill="#ebeaf0"/>
<rect x="446.55" y="148.83" width="13.65" height="12.59" fill="#ebeaf0"/>
<rect x="459.20" y="148.83" width="13.65" height="12.59" fill="#eae9ee"/>
<rect x="471.85" y="148.83" width="13.65" height="12.59" fill="#e9e7eb"/>
<rect x="484.50" y="148.83" width="13.65" height="12.59" fill="#e8e5e7"/>
<rect x="497.15" y="148.83" width="13.65" height="12.59" fill="#e7e3e4"/>
<rect x="509.80" y="148.83" width="13.65" height="12.59" fill="#e5e1e0"/>
<rect x="522.45" y="148.83" width="13.65" height="12.59" fill="#e4dedc"/>
<rect x="535.10" y="148.83" width="13.65" height="12.59" fill="#e3dcd9"/>
<rect x="547.75" y="148.83" width="13.65" height="12.59" fill="#e1dad5"/>
<rect x="560.40" y="148.83" width="13.65" height="12.59" fill="#e0d7d1"/>
<rect x="573.05" y="148.83" width="13.65" height="12.59" fill="#ded4cd"/>
<rect x="585.70" y="148.83" width="13.65" height="12.59" fill="#dcd1c7"/>
<rect x="598.35" y="148.83" width="13.65" height="12.59" fill="#ddd2c9"/>
<rect x="611.00" y="148.83" width="13.65" height="12.59" fill="#dfd5ce"/>
<rect x="623.65" y="148.83" width="13.65" height="12.59" fill="#e0d7d1"/>
<rect x="636.30" y="148.83" width="13.65" height="12.59" fill="#e0d6d0"/>
<rect x="648.95" y="148.83" width="13.65" height="12.59" fill="#dcd0c6"/>
<rect x="661.60" y="148.83" width="13.65" height="12.59" fill="#d8c8b5"/>
<rect x="674.25" y="148.83" width="13.65" height="12.59" fill="#cebe9e"/>
<rect x="686.90" y="148.83" width="11.10" height="12.59" fill="#b6b48b"/>
<rect x="375.80" y="160.42" width="8.50" height="12.59" fill="#ebeaf0"/>
<rect x="383.30" y="160.42" width="13.65" height="12.59" fill="#ebeaf0"/>
<rect x="395.95" y="160.42" width="13.65" height="12.59" fill="#ebeaf0"/>
<rect x="408.60" y="160.42" width="13.65" height="12.59" fill="#ebeaf0"/>
<rect x="421.25" y="160.42" width="13.65" height="12.59" fill="#ebeaf0"/>
<rect x="433.90" y="160.42" width="13.65" height="12.59" fill="#ebeaf0"/>
<rect x="446.55" y="160.42" width="13.65" height="12.59" fill="#ebeaf0"/>
<rect x="459.20" y="160.42" width="13.65" height="12.59" fill="#ebeaf0"/>
<rect x="471.85" y="160.42" width="13.65" height="12.59" fill="#eae8ed"/>
<rect x="484.50" y="160.42" width="13.65" height="12.59" fill="#e9e6e9"/>
<rect x="497.15" y="160.42" width="13.65" height="12.59" fill="#e7e4e6"/>
<rect x="509.80" y="160.42" width="13.65" height="12.59" fill="#e6e3e3"/>
<rect x="522.45" y="160.42" width="13.65" height="12.59" fill="#e5e1e0"/>
<rect x="535.10" y="160.42" width="13.65" height="12.59" fill="#e4dfdd"/>
<rect x="547.75" y="160.42" width="13.65" height="12.59" fill="#e3dddb"/>
<rect x="560.40" y="160.42" width="13.65" height="12.59" fill="#e3dcd9"/>
<rect x="573.05" y="160.42" width="13.65" height="12.59" fill="#e2dbd7"/>
<rect x="585.70" y="160.42" width="13.65" height="12.59" fill="#e2dbd7"/>
<rect x="598.35" y="160.42" width="13.65" height="12.59" fill="#e3ddda"/>
<rect x="611.00" y="160.42" width="13.65" height="12.59" fill="#e5e0df"/>
<rect x="623.65" y="160.42" width="13.65" height="12.59" fill="#e6e1e1"/>
<rect x="636.30" y="160.42" width="13.65" height="12.59" fill="#e4dfde"/>
<rect x="648.95" y="160.42" width="13.65" height="12.59" fill="#e1d9d4"/>
<rect x="661.60" y="160.42" width="13.65" height="12.59" fill="#ddd1c8"/>
<rect x="674.25" y="160.42" width="13.65" height="12.59" fill="#d9c9b7"/>
<rect x="686.90" y="160.42" width="11.10" height="12.59" fill="#cfbe9e"/>
<rect x="375.80" y="172.00" width="8.50" height="10.40" fill="#ebeaf0"/>
<rect x="383.30" y="172.00" width="13.65" height="10.40" fill="#ebeaf0"/>
<rect x="395.95" y="172.00" width="13.65" height="10.40" fill="#ebeaf0"/>
<rect x="408.60" y="172.00" width="13.65" height="10.40" fill="#ebeaf0"/>
<rect x="421.25" y="172.00" width="13.65" height="10.40" fill="#ebeaf0"/>
<rect x="433.90" y="172.00" width="13.65" height="10.40" fill="#ebeaf0"/>
<rect x="446.55" y="172.00" width="13.65" height="10.40" fill="#ebeaf0"/>
<rect x="459.20" y="172.00" width="13.65" height="10.40" fill="#ebeaf0"/>
<rect x="471.85" y="172.00" width="13.65" height="10.40" fill="#ebe9ef"/>
<rect x="484.50" y="172.00" width="13.65" height="10.40" fill="#e9e8ec"/>
<rect x="497.15" y="172.00" width="13.65" height="10.40" fill="#e8e6e9"/>
<rect x="509.80" y="172.00" width="13.65" height="10.40" fill="#e7e4e6"/>
<rect x="522.45" y="172.00" width="13.65" height="10.40" fill="#e6e3e3"/>
<rect x="535.10" y="172.00" width="13.65" height="10.40" fill="#e6e1e1"/>
<rect x="547.75" y="172.00" width="13.65" height="10.40" fill="#e5e1e0"/>
<rect x="560.40" y="172.00" width="13.65" height="10.40" fill="#e5e1e1"/>
<rect x="573.05" y="172.00" width="13.65" height="10.40" fill="#e6e2e2"/>
<rect x="585.70" y="172.00" width="13.65" height="10.40" fill="#e7e4e6"/>
<rect x="598.35" y="172.00" width="13.65" height="10.40" fill="#e9e7eb"/>
<rect x="611.00" y="172.00" width="13.65" height="10.40" fill="#ebe9ef"/>
<rect x="623.65" y="172.00" width="13.65" height="10.40" fill="#ebeaf0"/>
<rect x="636.30" y="172.00" width="13.65" height="10.40" fill="#e9e8ec"/>
<rect x="648.95" y="172.00" width="13.65" height="10.40" fill="#e6e2e3"/>
<rect x="661.60" y="172.00" width="13.65" height="10.40" fill="#e2dbd7"/>
<rect x="674.25" y="172.00" width="13.65" height="10.40" fill="#ded3ca"/>
<rect x="686.90" y="172.00" width="11.10" height="10.40" fill="#d9cab9"/>
</g>
<g clip-path="url(#cTR)"><g fill="none" stroke="#dd2f5c" stroke-width="1.2" stroke-linejoin="round" stroke-linecap="butt">
<path d="M452.2,4.0 C452.4,7.7 453.0,20.6 453.3,24.3 C453.6,28.0 455.0,40.6 455.6,44.2 C456.2,47.8 459.4,61.7 460.0,64.1 C460.6,66.5 461.5,68.0 462.2,70.0 C462.9,72.0 467.2,84.0 467.7,85.5 C468.2,87.0 467.9,85.9 468.0,86.0"/>
<path d="M479.6,108.1 C479.7,108.2 479.1,107.3 480.0,108.8 C480.9,110.3 487.6,121.0 489.5,124.2 C491.4,127.4 498.2,140.9 500.2,144.0 C502.2,147.1 509.2,155.3 511.2,157.5 C513.2,159.7 520.2,166.6 522.3,168.5 C524.4,170.4 532.3,176.1 534.5,177.8"/>
<path d="M511.9,4.0 C512.5,6.9 514.5,16.8 515.2,19.9 C515.9,23.0 518.6,34.4 519.6,37.6 C520.6,40.8 525.1,52.2 526.3,55.2 C527.5,58.2 532.1,67.9 533.0,70.0 C533.9,72.1 535.6,76.9 536.0,78.0 C536.4,79.1 537.1,81.5 537.3,82.3"/>
<path d="M546.1,105.7 C547.3,108.5 550.9,118.5 552.6,121.0 C554.3,123.5 562.2,130.2 564.5,132.5 C566.8,134.8 575.5,143.9 578.0,145.8 C580.5,147.7 589.1,152.8 591.5,153.5 C593.9,154.2 602.1,153.3 604.5,153.0 C606.9,152.7 615.4,150.8 617.8,150.4 C620.2,150.0 628.8,148.4 631.0,148.2 C633.2,148.0 640.1,147.7 642.1,148.2 C644.1,148.7 651.1,151.9 653.1,153.2 C655.1,154.5 662.2,160.3 664.2,161.9 C666.2,163.5 673.3,169.2 675.2,170.7 C677.1,172.2 682.8,176.5 684.5,177.8"/>
<path d="M541.5,4.0 C541.9,6.9 543.0,16.6 543.7,19.9 C544.4,23.2 548.0,36.4 549.3,39.8 C550.6,43.2 556.3,54.6 558.1,57.5 C559.9,60.4 568.0,70.4 569.1,71.8 C570.2,73.2 569.7,72.4 569.9,72.5"/>
<path d="M590.4,85.9 C591.6,88.0 596.3,95.1 596.8,97.6 C597.3,100.1 595.9,110.8 596.1,113.5 C596.3,116.2 598.4,125.2 599.0,127.0 C599.6,128.8 601.3,132.8 602.8,133.6 C604.3,134.4 613.2,135.5 615.6,135.5 C618.0,135.5 626.4,134.1 628.8,133.8 C631.2,133.5 639.8,132.2 642.1,132.0 C644.4,131.8 652.4,130.9 654.2,131.5 C656.0,132.1 660.5,136.5 662.0,138.0 C663.5,139.5 669.0,145.6 670.8,147.5 C672.6,149.4 679.8,156.7 681.9,158.6 C684.0,160.5 691.1,166.7 693.2,168.5"/>
<path d="M562.5,4.0 C562.7,6.5 563.1,15.0 563.6,17.7 C564.1,20.4 566.7,30.2 568.0,33.1 C569.3,36.0 575.9,47.6 578.0,49.7 C580.1,51.8 588.8,55.8 591.2,56.4 C593.6,57.0 602.1,56.7 604.5,56.4 C606.9,56.1 615.4,53.5 617.8,53.0 C620.2,52.5 628.6,50.7 631.0,50.4 C633.4,50.1 642.5,49.5 643.8,49.7 C645.1,49.9 645.4,51.8 645.4,53.0 C645.4,54.2 644.9,61.4 644.3,63.0 C643.7,64.6 640.1,67.9 638.8,70.0 C637.5,72.1 630.7,84.5 629.9,86.0 C629.1,87.5 629.7,86.4 629.7,86.5"/>
<path d="M622.3,109.9 C623.7,111.3 627.9,116.8 629.9,117.1 C631.9,117.4 641.9,113.7 644.3,113.0 C646.7,112.3 654.2,110.4 656.4,109.9 C658.6,109.4 666.7,107.5 668.0,107.6 C669.3,107.7 670.0,109.7 670.8,111.0 C671.6,112.3 675.2,119.2 676.3,122.0 C677.4,124.8 681.8,139.3 683.0,141.9 C684.2,144.5 688.7,149.5 689.6,150.7 C690.5,151.9 692.5,154.3 693.2,155.1"/>
<path d="M594.6,4.0 C595.6,6.1 599.1,14.0 600.1,15.5 C601.1,17.0 604.2,19.6 605.2,20.6"/>
<path d="M628.9,23.2 C632.1,22.0 643.7,17.5 646.5,16.6 C649.3,15.7 657.4,14.1 659.8,13.7 C662.2,13.3 669.9,12.2 673.0,12.2 C676.1,12.2 689.5,13.1 693.2,13.3"/>
<path d="M653.5,4.9 C653.6,4.9 653.4,4.9 654.2,4.9 C655.0,4.9 661.1,4.5 662.0,4.4 C662.9,4.3 663.6,4.1 664.0,4.0"/>
</g>
<text class="s" x="473.9" y="100.1" font-size="8.6" style="fill:#dd2f5c;stroke:#dd2f5c;stroke-width:0.2px" text-anchor="middle" transform="rotate(62 473.9 97.0)">0.95</text>
<text class="s" x="540.9" y="97.4" font-size="8.6" style="fill:#dd2f5c;stroke:#dd2f5c;stroke-width:0.2px" text-anchor="middle" transform="rotate(70 540.9 94.3)">0.90</text>
<text class="s" x="579.1" y="84.0" font-size="8.6" style="fill:#dd2f5c;stroke:#dd2f5c;stroke-width:0.2px" text-anchor="middle" transform="rotate(27 579.1 80.9)">0.85</text>
<text class="s" x="624.0" y="100.7" font-size="8.6" style="fill:#dd2f5c;stroke:#dd2f5c;stroke-width:0.2px" text-anchor="middle" transform="rotate(-73 624.0 97.6)">0.80</text>
<text class="s" x="616.7" y="28.3" font-size="8.6" style="fill:#dd2f5c;stroke:#dd2f5c;stroke-width:0.2px" text-anchor="middle" transform="rotate(5 616.7 25.2)">0.70</text>
<text class="s" x="641.0" y="7.4" font-size="8.6" style="fill:#dd2f5c;stroke:#dd2f5c;stroke-width:0.2px" text-anchor="middle" transform="rotate(0 641.0 4.3)">0.60</text>
</g>
<rect x="384.8" y="4.0" width="86.1" height="19.7" fill="#fff" fill-opacity="0.8"/>
<rect x="384.8" y="23.7" width="52.1" height="15.8" fill="#fff" fill-opacity="0.8"/>
<text class="s" x="0" y="0" font-size="16.6" style="stroke:#000;stroke-width:0.35px" transform="translate(386.10,18.90) scale(1.077,1)">TNG100-1</text>
<text class="t" x="386.4" y="36.1" font-size="14.6" font-style="italic">z</text>
<path d="M396.1,29.2H406.2M396.1,33.1H406.2" stroke="#000" stroke-width="0.95" fill="none"/>
<text class="t" x="409.3" y="36.1" font-size="15.3">2.00</text>
<rect x="375.8" y="0.6" width="321.20" height="180.80" fill="none" stroke="#000" stroke-width="1.25"/>
<path d="M385.90,181.40v-4.4M385.90,0.60v4.4M519.30,181.40v-4.4M519.30,0.60v4.4M652.70,181.40v-4.4M652.70,0.60v4.4M375.80,173.45h4.4M697.00,173.45h-4.4M375.80,124.40h4.4M697.00,124.40h-4.4M375.80,75.35h4.4M697.00,75.35h-4.4M375.80,26.30h4.4M697.00,26.30h-4.4M375.80,11.53h4.4M697.00,11.53h-4.4" stroke="#000" stroke-width="1.1" fill="none"/>
<path d="M379.80,181.40v-2.3M379.80,0.60v2.3M426.06,181.40v-2.3M426.06,0.60v2.3M449.55,181.40v-2.3M449.55,0.60v2.3M466.21,181.40v-2.3M466.21,0.60v2.3M479.14,181.40v-2.3M479.14,0.60v2.3M489.71,181.40v-2.3M489.71,0.60v2.3M498.64,181.40v-2.3M498.64,0.60v2.3M506.37,181.40v-2.3M506.37,0.60v2.3M513.20,181.40v-2.3M513.20,0.60v2.3M559.46,181.40v-2.3M559.46,0.60v2.3M582.95,181.40v-2.3M582.95,0.60v2.3M599.61,181.40v-2.3M599.61,0.60v2.3M612.54,181.40v-2.3M612.54,0.60v2.3M623.11,181.40v-2.3M623.11,0.60v2.3M632.04,181.40v-2.3M632.04,0.60v2.3M639.77,181.40v-2.3M639.77,0.60v2.3M646.60,181.40v-2.3M646.60,0.60v2.3M692.86,181.40v-2.3M692.86,0.60v2.3M375.80,181.05h2.3M697.00,181.05h-2.3M375.80,178.20h2.3M697.00,178.20h-2.3M375.80,175.69h2.3M697.00,175.69h-2.3M375.80,158.68h2.3M697.00,158.68h-2.3M375.80,150.05h2.3M697.00,150.05h-2.3M375.80,143.92h2.3M697.00,143.92h-2.3M375.80,139.17h2.3M697.00,139.17h-2.3M375.80,135.28h2.3M697.00,135.28h-2.3M375.80,132.00h2.3M697.00,132.00h-2.3M375.80,129.15h2.3M697.00,129.15h-2.3M375.80,126.64h2.3M697.00,126.64h-2.3M375.80,109.63h2.3M697.00,109.63h-2.3M375.80,101.00h2.3M697.00,101.00h-2.3M375.80,94.87h2.3M697.00,94.87h-2.3M375.80,90.12h2.3M697.00,90.12h-2.3M375.80,86.23h2.3M697.00,86.23h-2.3M375.80,82.95h2.3M697.00,82.95h-2.3M375.80,80.10h2.3M697.00,80.10h-2.3M375.80,77.59h2.3M697.00,77.59h-2.3M375.80,60.58h2.3M697.00,60.58h-2.3M375.80,51.95h2.3M697.00,51.95h-2.3M375.80,45.82h2.3M697.00,45.82h-2.3M375.80,41.07h2.3M697.00,41.07h-2.3M375.80,37.18h2.3M697.00,37.18h-2.3M375.80,33.90h2.3M697.00,33.90h-2.3M375.80,31.05h2.3M697.00,31.05h-2.3M375.80,28.54h2.3M697.00,28.54h-2.3M375.80,2.90h2.3M697.00,2.90h-2.3" stroke="#000" stroke-width="0.85" fill="none"/>
<g clip-path="url(#cBL)">
<rect x="43.60" y="187.00" width="8.60" height="10.20" fill="#ebeaf0"/>
<rect x="51.20" y="187.00" width="13.65" height="10.20" fill="#ebeaf0"/>
<rect x="63.85" y="187.00" width="13.65" height="10.20" fill="#eae9ee"/>
<rect x="76.50" y="187.00" width="13.65" height="10.20" fill="#e9e7ea"/>
<rect x="89.15" y="187.00" width="13.65" height="10.20" fill="#e8e5e7"/>
<rect x="101.80" y="187.00" width="13.65" height="10.20" fill="#e6e3e3"/>
<rect x="114.45" y="187.00" width="13.65" height="10.20" fill="#e5e1e0"/>
<rect x="127.10" y="187.00" width="13.65" height="10.20" fill="#e4dedc"/>
<rect x="139.75" y="187.00" width="13.65" height="10.20" fill="#e2dbd8"/>
<rect x="152.40" y="187.00" width="13.65" height="10.20" fill="#e0d8d2"/>
<rect x="165.05" y="187.00" width="13.65" height="10.20" fill="#ded4cc"/>
<rect x="177.70" y="187.00" width="13.65" height="10.20" fill="#dbcec3"/>
<rect x="190.35" y="187.00" width="13.65" height="10.20" fill="#d8c9b6"/>
<rect x="203.00" y="187.00" width="13.65" height="10.20" fill="#d4c2a7"/>
<rect x="215.65" y="187.00" width="13.65" height="10.20" fill="#cabc99"/>
<rect x="228.30" y="187.00" width="13.65" height="10.20" fill="#bab58e"/>
<rect x="240.95" y="187.00" width="13.65" height="10.20" fill="#a3ae83"/>
<rect x="253.60" y="187.00" width="13.65" height="10.20" fill="#8ba67d"/>
<rect x="266.25" y="187.00" width="13.65" height="10.20" fill="#6a9e76"/>
<rect x="278.90" y="187.00" width="13.65" height="10.20" fill="#3e8e70"/>
<rect x="291.55" y="187.00" width="13.65" height="10.20" fill="#147d6d"/>
<rect x="304.20" y="187.00" width="13.65" height="10.20" fill="#096b6b"/>
<rect x="316.85" y="187.00" width="13.65" height="10.20" fill="#0e616a"/>
<rect x="329.50" y="187.00" width="13.65" height="10.20" fill="#155b68"/>
<rect x="342.15" y="187.00" width="13.65" height="10.20" fill="#135d69"/>
<rect x="354.80" y="187.00" width="11.20" height="10.20" fill="#105f69"/>
<rect x="43.60" y="196.20" width="8.60" height="12.59" fill="#ebeaf0"/>
<rect x="51.20" y="196.20" width="13.65" height="12.59" fill="#ebeaf0"/>
<rect x="63.85" y="196.20" width="13.65" height="12.59" fill="#eae9ee"/>
<rect x="76.50" y="196.20" width="13.65" height="12.59" fill="#e9e7eb"/>
<rect x="89.15" y="196.20" width="13.65" height="12.59" fill="#e8e5e7"/>
<rect x="101.80" y="196.20" width="13.65" height="12.59" fill="#e7e3e4"/>
<rect x="114.45" y="196.20" width="13.65" height="12.59" fill="#e5e1e0"/>
<rect x="127.10" y="196.20" width="13.65" height="12.59" fill="#e4dedd"/>
<rect x="139.75" y="196.20" width="13.65" height="12.59" fill="#e3dcd8"/>
<rect x="152.40" y="196.20" width="13.65" height="12.59" fill="#e1d8d3"/>
<rect x="165.05" y="196.20" width="13.65" height="12.59" fill="#ded4cc"/>
<rect x="177.70" y="196.20" width="13.65" height="12.59" fill="#dbcfc4"/>
<rect x="190.35" y="196.20" width="13.65" height="12.59" fill="#d9c9b7"/>
<rect x="203.00" y="196.20" width="13.65" height="12.59" fill="#d4c2a7"/>
<rect x="215.65" y="196.20" width="13.65" height="12.59" fill="#cabc98"/>
<rect x="228.30" y="196.20" width="13.65" height="12.59" fill="#b9b58d"/>
<rect x="240.95" y="196.20" width="13.65" height="12.59" fill="#a0ad82"/>
<rect x="253.60" y="196.20" width="13.65" height="12.59" fill="#88a57c"/>
<rect x="266.25" y="196.20" width="13.65" height="12.59" fill="#6a9e76"/>
<rect x="278.90" y="196.20" width="13.65" height="12.59" fill="#489271"/>
<rect x="291.55" y="196.20" width="13.65" height="12.59" fill="#29866e"/>
<rect x="304.20" y="196.20" width="13.65" height="12.59" fill="#20846e"/>
<rect x="316.85" y="196.20" width="13.65" height="12.59" fill="#28866e"/>
<rect x="329.50" y="196.20" width="13.65" height="12.59" fill="#2f886e"/>
<rect x="342.15" y="196.20" width="13.65" height="12.59" fill="#31896e"/>
<rect x="354.80" y="196.20" width="11.20" height="12.59" fill="#2a866e"/>
<rect x="43.60" y="207.79" width="8.60" height="12.59" fill="#ebeaf0"/>
<rect x="51.20" y="207.79" width="13.65" height="12.59" fill="#ebeaf0"/>
<rect x="63.85" y="207.79" width="13.65" height="12.59" fill="#ebe9ef"/>
<rect x="76.50" y="207.79" width="13.65" height="12.59" fill="#e9e7eb"/>
<rect x="89.15" y="207.79" width="13.65" height="12.59" fill="#e8e5e8"/>
<rect x="101.80" y="207.79" width="13.65" height="12.59" fill="#e7e3e4"/>
<rect x="114.45" y="207.79" width="13.65" height="12.59" fill="#e6e1e1"/>
<rect x="127.10" y="207.79" width="13.65" height="12.59" fill="#e4dfdd"/>
<rect x="139.75" y="207.79" width="13.65" height="12.59" fill="#e3dcd9"/>
<rect x="152.40" y="207.79" width="13.65" height="12.59" fill="#e1d9d4"/>
<rect x="165.05" y="207.79" width="13.65" height="12.59" fill="#dfd5cd"/>
<rect x="177.70" y="207.79" width="13.65" height="12.59" fill="#dcd0c5"/>
<rect x="190.35" y="207.79" width="13.65" height="12.59" fill="#d9cab8"/>
<rect x="203.00" y="207.79" width="13.65" height="12.59" fill="#d4c3a8"/>
<rect x="215.65" y="207.79" width="13.65" height="12.59" fill="#cabc99"/>
<rect x="228.30" y="207.79" width="13.65" height="12.59" fill="#b9b58d"/>
<rect x="240.95" y="207.79" width="13.65" height="12.59" fill="#9fac81"/>
<rect x="253.60" y="207.79" width="13.65" height="12.59" fill="#86a57c"/>
<rect x="266.25" y="207.79" width="13.65" height="12.59" fill="#6c9f76"/>
<rect x="278.90" y="207.79" width="13.65" height="12.59" fill="#559773"/>
<rect x="291.55" y="207.79" width="13.65" height="12.59" fill="#459171"/>
<rect x="304.20" y="207.79" width="13.65" height="12.59" fill="#3e8e70"/>
<rect x="316.85" y="207.79" width="13.65" height="12.59" fill="#3b8d70"/>
<rect x="329.50" y="207.79" width="13.65" height="12.59" fill="#3b8d70"/>
<rect x="342.15" y="207.79" width="13.65" height="12.59" fill="#348a6f"/>
<rect x="354.80" y="207.79" width="11.20" height="12.59" fill="#2c876e"/>
<rect x="43.60" y="219.37" width="8.60" height="12.59" fill="#ebeaf0"/>
<rect x="51.20" y="219.37" width="13.65" height="12.59" fill="#ebeaf0"/>
<rect x="63.85" y="219.37" width="13.65" height="12.59" fill="#ebeaef"/>
<rect x="76.50" y="219.37" width="13.65" height="12.59" fill="#e9e8ec"/>
<rect x="89.15" y="219.37" width="13.65" height="12.59" fill="#e8e6e8"/>
<rect x="101.80" y="219.37" width="13.65" height="12.59" fill="#e7e3e5"/>
<rect x="114.45" y="219.37" width="13.65" height="12.59" fill="#e6e1e1"/>
<rect x="127.10" y="219.37" width="13.65" height="12.59" fill="#e4dfde"/>
<rect x="139.75" y="219.37" width="13.65" height="12.59" fill="#e3ddda"/>
<rect x="152.40" y="219.37" width="13.65" height="12.59" fill="#e1d9d5"/>
<rect x="165.05" y="219.37" width="13.65" height="12.59" fill="#dfd5ce"/>
<rect x="177.70" y="219.37" width="13.65" height="12.59" fill="#dcd0c6"/>
<rect x="190.35" y="219.37" width="13.65" height="12.59" fill="#d9cab9"/>
<rect x="203.00" y="219.37" width="13.65" height="12.59" fill="#d5c3aa"/>
<rect x="215.65" y="219.37" width="13.65" height="12.59" fill="#cbbc9a"/>
<rect x="228.30" y="219.37" width="13.65" height="12.59" fill="#b9b58d"/>
<rect x="240.95" y="219.37" width="13.65" height="12.59" fill="#9fad82"/>
<rect x="253.60" y="219.37" width="13.65" height="12.59" fill="#86a57c"/>
<rect x="266.25" y="219.37" width="13.65" height="12.59" fill="#70a077"/>
<rect x="278.90" y="219.37" width="13.65" height="12.59" fill="#609b74"/>
<rect x="291.55" y="219.37" width="13.65" height="12.59" fill="#529672"/>
<rect x="304.20" y="219.37" width="13.65" height="12.59" fill="#4a9371"/>
<rect x="316.85" y="219.37" width="13.65" height="12.59" fill="#429070"/>
<rect x="329.50" y="219.37" width="13.65" height="12.59" fill="#429070"/>
<rect x="342.15" y="219.37" width="13.65" height="12.59" fill="#3a8d70"/>
<rect x="354.80" y="219.37" width="11.20" height="12.59" fill="#2c876e"/>
<rect x="43.60" y="230.96" width="8.60" height="12.59" fill="#ebeaf0"/>
<rect x="51.20" y="230.96" width="13.65" height="12.59" fill="#ebeaf0"/>
<rect x="63.85" y="230.96" width="13.65" height="12.59" fill="#ebeaf0"/>
<rect x="76.50" y="230.96" width="13.65" height="12.59" fill="#eae8ec"/>
<rect x="89.15" y="230.96" width="13.65" height="12.59" fill="#e8e6e9"/>
<rect x="101.80" y="230.96" width="13.65" height="12.59" fill="#e7e4e5"/>
<rect x="114.45" y="230.96" width="13.65" height="12.59" fill="#e6e2e1"/>
<rect x="127.10" y="230.96" width="13.65" height="12.59" fill="#e5dfde"/>
<rect x="139.75" y="230.96" width="13.65" height="12.59" fill="#e3ddda"/>
<rect x="152.40" y="230.96" width="13.65" height="12.59" fill="#e2dad6"/>
<rect x="165.05" y="230.96" width="13.65" height="12.59" fill="#dfd6d0"/>
<rect x="177.70" y="230.96" width="13.65" height="12.59" fill="#ddd1c8"/>
<rect x="190.35" y="230.96" width="13.65" height="12.59" fill="#dacbbc"/>
<rect x="203.00" y="230.96" width="13.65" height="12.59" fill="#d5c4ac"/>
<rect x="215.65" y="230.96" width="13.65" height="12.59" fill="#cdbd9c"/>
<rect x="228.30" y="230.96" width="13.65" height="12.59" fill="#bdb68f"/>
<rect x="240.95" y="230.96" width="13.65" height="12.59" fill="#a5af84"/>
<rect x="253.60" y="230.96" width="13.65" height="12.59" fill="#91a87d"/>
<rect x="266.25" y="230.96" width="13.65" height="12.59" fill="#81a47b"/>
<rect x="278.90" y="230.96" width="13.65" height="12.59" fill="#77a178"/>
<rect x="291.55" y="230.96" width="13.65" height="12.59" fill="#6d9f76"/>
<rect x="304.20" y="230.96" width="13.65" height="12.59" fill="#599973"/>
<rect x="316.85" y="230.96" width="13.65" height="12.59" fill="#529672"/>
<rect x="329.50" y="230.96" width="13.65" height="12.59" fill="#4a9371"/>
<rect x="342.15" y="230.96" width="13.65" height="12.59" fill="#469171"/>
<rect x="354.80" y="230.96" width="11.20" height="12.59" fill="#439070"/>
<rect x="43.60" y="242.54" width="8.60" height="12.59" fill="#ebeaf0"/>
<rect x="51.20" y="242.54" width="13.65" height="12.59" fill="#ebeaf0"/>
<rect x="63.85" y="242.54" width="13.65" height="12.59" fill="#ebeaf0"/>
<rect x="76.50" y="242.54" width="13.65" height="12.59" fill="#eae8ed"/>
<rect x="89.15" y="242.54" width="13.65" height="12.59" fill="#e9e6e9"/>
<rect x="101.80" y="242.54" width="13.65" height="12.59" fill="#e7e4e5"/>
<rect x="114.45" y="242.54" width="13.65" height="12.59" fill="#e6e2e2"/>
<rect x="127.10" y="242.54" width="13.65" height="12.59" fill="#e5e0df"/>
<rect x="139.75" y="242.54" width="13.65" height="12.59" fill="#e3dddb"/>
<rect x="152.40" y="242.54" width="13.65" height="12.59" fill="#e2dbd7"/>
<rect x="165.05" y="242.54" width="13.65" height="12.59" fill="#e0d7d1"/>
<rect x="177.70" y="242.54" width="13.65" height="12.59" fill="#ddd2ca"/>
<rect x="190.35" y="242.54" width="13.65" height="12.59" fill="#daccbe"/>
<rect x="203.00" y="242.54" width="13.65" height="12.59" fill="#d6c6af"/>
<rect x="215.65" y="242.54" width="13.65" height="12.59" fill="#cfbe9e"/>
<rect x="228.30" y="242.54" width="13.65" height="12.59" fill="#c0b891"/>
<rect x="240.95" y="242.54" width="13.65" height="12.59" fill="#aeb288"/>
<rect x="253.60" y="242.54" width="13.65" height="12.59" fill="#9dac81"/>
<rect x="266.25" y="242.54" width="13.65" height="12.59" fill="#91a87d"/>
<rect x="278.90" y="242.54" width="13.65" height="12.59" fill="#8ba67d"/>
<rect x="291.55" y="242.54" width="13.65" height="12.59" fill="#7ca279"/>
<rect x="304.20" y="242.54" width="13.65" height="12.59" fill="#6a9e76"/>
<rect x="316.85" y="242.54" width="13.65" height="12.59" fill="#609c74"/>
<rect x="329.50" y="242.54" width="13.65" height="12.59" fill="#5c9a74"/>
<rect x="342.15" y="242.54" width="13.65" height="12.59" fill="#5f9b74"/>
<rect x="354.80" y="242.54" width="11.20" height="12.59" fill="#70a077"/>
<rect x="43.60" y="254.13" width="8.60" height="12.59" fill="#ebeaf0"/>
<rect x="51.20" y="254.13" width="13.65" height="12.59" fill="#ebeaf0"/>
<rect x="63.85" y="254.13" width="13.65" height="12.59" fill="#ebeaf0"/>
<rect x="76.50" y="254.13" width="13.65" height="12.59" fill="#eae8ed"/>
<rect x="89.15" y="254.13" width="13.65" height="12.59" fill="#e9e6ea"/>
<rect x="101.80" y="254.13" width="13.65" height="12.59" fill="#e7e4e6"/>
<rect x="114.45" y="254.13" width="13.65" height="12.59" fill="#e6e2e2"/>
<rect x="127.10" y="254.13" width="13.65" height="12.59" fill="#e5e0df"/>
<rect x="139.75" y="254.13" width="13.65" height="12.59" fill="#e4dedc"/>
<rect x="152.40" y="254.13" width="13.65" height="12.59" fill="#e2dbd8"/>
<rect x="165.05" y="254.13" width="13.65" height="12.59" fill="#e0d8d2"/>
<rect x="177.70" y="254.13" width="13.65" height="12.59" fill="#ded3cb"/>
<rect x="190.35" y="254.13" width="13.65" height="12.59" fill="#dbcec0"/>
<rect x="203.00" y="254.13" width="13.65" height="12.59" fill="#d7c7b2"/>
<rect x="215.65" y="254.13" width="13.65" height="12.59" fill="#d1c0a1"/>
<rect x="228.30" y="254.13" width="13.65" height="12.59" fill="#c5ba93"/>
<rect x="240.95" y="254.13" width="13.65" height="12.59" fill="#b5b48b"/>
<rect x="253.60" y="254.13" width="13.65" height="12.59" fill="#a5af84"/>
<rect x="266.25" y="254.13" width="13.65" height="12.59" fill="#97aa7f"/>
<rect x="278.90" y="254.13" width="13.65" height="12.59" fill="#8aa67c"/>
<rect x="291.55" y="254.13" width="13.65" height="12.59" fill="#79a279"/>
<rect x="304.20" y="254.13" width="13.65" height="12.59" fill="#71a077"/>
<rect x="316.85" y="254.13" width="13.65" height="12.59" fill="#70a077"/>
<rect x="329.50" y="254.13" width="13.65" height="12.59" fill="#75a178"/>
<rect x="342.15" y="254.13" width="13.65" height="12.59" fill="#88a57c"/>
<rect x="354.80" y="254.13" width="11.20" height="12.59" fill="#8fa77d"/>
<rect x="43.60" y="265.72" width="8.60" height="12.59" fill="#ebeaf0"/>
<rect x="51.20" y="265.72" width="13.65" height="12.59" fill="#ebeaf0"/>
<rect x="63.85" y="265.72" width="13.65" height="12.59" fill="#ebeaf0"/>
<rect x="76.50" y="265.72" width="13.65" height="12.59" fill="#eae9ee"/>
<rect x="89.15" y="265.72" width="13.65" height="12.59" fill="#e9e7ea"/>
<rect x="101.80" y="265.72" width="13.65" height="12.59" fill="#e8e5e7"/>
<rect x="114.45" y="265.72" width="13.65" height="12.59" fill="#e6e3e3"/>
<rect x="127.10" y="265.72" width="13.65" height="12.59" fill="#e5e1e0"/>
<rect x="139.75" y="265.72" width="13.65" height="12.59" fill="#e4dfdd"/>
<rect x="152.40" y="265.72" width="13.65" height="12.59" fill="#e3dcd9"/>
<rect x="165.05" y="265.72" width="13.65" height="12.59" fill="#e1d9d3"/>
<rect x="177.70" y="265.72" width="13.65" height="12.59" fill="#ded4cd"/>
<rect x="190.35" y="265.72" width="13.65" height="12.59" fill="#dccfc4"/>
<rect x="203.00" y="265.72" width="13.65" height="12.59" fill="#d8c8b5"/>
<rect x="215.65" y="265.72" width="13.65" height="12.59" fill="#d3c1a5"/>
<rect x="228.30" y="265.72" width="13.65" height="12.59" fill="#c9bc98"/>
<rect x="240.95" y="265.72" width="13.65" height="12.59" fill="#beb790"/>
<rect x="253.60" y="265.72" width="13.65" height="12.59" fill="#adb188"/>
<rect x="266.25" y="265.72" width="13.65" height="12.59" fill="#98aa7f"/>
<rect x="278.90" y="265.72" width="13.65" height="12.59" fill="#85a57c"/>
<rect x="291.55" y="265.72" width="13.65" height="12.59" fill="#76a178"/>
<rect x="304.20" y="265.72" width="13.65" height="12.59" fill="#73a077"/>
<rect x="316.85" y="265.72" width="13.65" height="12.59" fill="#79a279"/>
<rect x="329.50" y="265.72" width="13.65" height="12.59" fill="#82a47b"/>
<rect x="342.15" y="265.72" width="13.65" height="12.59" fill="#8aa67c"/>
<rect x="354.80" y="265.72" width="11.20" height="12.59" fill="#8aa67c"/>
<rect x="43.60" y="277.30" width="8.60" height="12.59" fill="#ebeaf0"/>
<rect x="51.20" y="277.30" width="13.65" height="12.59" fill="#ebeaf0"/>
<rect x="63.85" y="277.30" width="13.65" height="12.59" fill="#ebeaf0"/>
<rect x="76.50" y="277.30" width="13.65" height="12.59" fill="#ebe9ef"/>
<rect x="89.15" y="277.30" width="13.65" height="12.59" fill="#e9e7eb"/>
<rect x="101.80" y="277.30" width="13.65" height="12.59" fill="#e8e5e8"/>
<rect x="114.45" y="277.30" width="13.65" height="12.59" fill="#e7e3e4"/>
<rect x="127.10" y="277.30" width="13.65" height="12.59" fill="#e6e1e1"/>
<rect x="139.75" y="277.30" width="13.65" height="12.59" fill="#e4dfdd"/>
<rect x="152.40" y="277.30" width="13.65" height="12.59" fill="#e3dcd9"/>
<rect x="165.05" y="277.30" width="13.65" height="12.59" fill="#e1d9d4"/>
<rect x="177.70" y="277.30" width="13.65" height="12.59" fill="#dfd5ce"/>
<rect x="190.35" y="277.30" width="13.65" height="12.59" fill="#dcd0c5"/>
<rect x="203.00" y="277.30" width="13.65" height="12.59" fill="#d9c9b7"/>
<rect x="215.65" y="277.30" width="13.65" height="12.59" fill="#d4c2a7"/>
<rect x="228.30" y="277.30" width="13.65" height="12.59" fill="#cbbc9a"/>
<rect x="240.95" y="277.30" width="13.65" height="12.59" fill="#beb790"/>
<rect x="253.60" y="277.30" width="13.65" height="12.59" fill="#abb187"/>
<rect x="266.25" y="277.30" width="13.65" height="12.59" fill="#96a97e"/>
<rect x="278.90" y="277.30" width="13.65" height="12.59" fill="#83a47b"/>
<rect x="291.55" y="277.30" width="13.65" height="12.59" fill="#75a178"/>
<rect x="304.20" y="277.30" width="13.65" height="12.59" fill="#78a279"/>
<rect x="316.85" y="277.30" width="13.65" height="12.59" fill="#84a47b"/>
<rect x="329.50" y="277.30" width="13.65" height="12.59" fill="#89a67c"/>
<rect x="342.15" y="277.30" width="13.65" height="12.59" fill="#86a57c"/>
<rect x="354.80" y="277.30" width="11.20" height="12.59" fill="#78a178"/>
<rect x="43.60" y="288.89" width="8.60" height="12.59" fill="#ebeaf0"/>
<rect x="51.20" y="288.89" width="13.65" height="12.59" fill="#ebeaf0"/>
<rect x="63.85" y="288.89" width="13.65" height="12.59" fill="#ebeaf0"/>
<rect x="76.50" y="288.89" width="13.65" height="12.59" fill="#ebeaf0"/>
<rect x="89.15" y="288.89" width="13.65" height="12.59" fill="#eae8ec"/>
<rect x="101.80" y="288.89" width="13.65" height="12.59" fill="#e8e6e9"/>
<rect x="114.45" y="288.89" width="13.65" height="12.59" fill="#e7e4e5"/>
<rect x="127.10" y="288.89" width="13.65" height="12.59" fill="#e6e2e1"/>
<rect x="139.75" y="288.89" width="13.65" height="12.59" fill="#e5dfde"/>
<rect x="152.40" y="288.89" width="13.65" height="12.59" fill="#e3ddda"/>
<rect x="165.05" y="288.89" width="13.65" height="12.59" fill="#e1dad5"/>
<rect x="177.70" y="288.89" width="13.65" height="12.59" fill="#dfd6cf"/>
<rect x="190.35" y="288.89" width="13.65" height="12.59" fill="#dcd0c6"/>
<rect x="203.00" y="288.89" width="13.65" height="12.59" fill="#d9cab9"/>
<rect x="215.65" y="288.89" width="13.65" height="12.59" fill="#d5c4aa"/>
<rect x="228.30" y="288.89" width="13.65" height="12.59" fill="#ccbd9b"/>
<rect x="240.95" y="288.89" width="13.65" height="12.59" fill="#bdb68f"/>
<rect x="253.60" y="288.89" width="13.65" height="12.59" fill="#a8b085"/>
<rect x="266.25" y="288.89" width="13.65" height="12.59" fill="#95a97e"/>
<rect x="278.90" y="288.89" width="13.65" height="12.59" fill="#87a57c"/>
<rect x="291.55" y="288.89" width="13.65" height="12.59" fill="#84a47b"/>
<rect x="304.20" y="288.89" width="13.65" height="12.59" fill="#8da77d"/>
<rect x="316.85" y="288.89" width="13.65" height="12.59" fill="#96a97e"/>
<rect x="329.50" y="288.89" width="13.65" height="12.59" fill="#94a87e"/>
<rect x="342.15" y="288.89" width="13.65" height="12.59" fill="#88a57c"/>
<rect x="354.80" y="288.89" width="11.20" height="12.59" fill="#74a178"/>
<rect x="43.60" y="300.47" width="8.60" height="12.59" fill="#ebeaf0"/>
<rect x="51.20" y="300.47" width="13.65" height="12.59" fill="#ebeaf0"/>
<rect x="63.85" y="300.47" width="13.65" height="12.59" fill="#ebeaf0"/>
<rect x="76.50" y="300.47" width="13.65" height="12.59" fill="#ebeaf0"/>
<rect x="89.15" y="300.47" width="13.65" height="12.59" fill="#eae8ed"/>
<rect x="101.80" y="300.47" width="13.65" height="12.59" fill="#e9e6ea"/>
<rect x="114.45" y="300.47" width="13.65" height="12.59" fill="#e7e4e6"/>
<rect x="127.10" y="300.47" width="13.65" height="12.59" fill="#e6e2e2"/>
<rect x="139.75" y="300.47" width="13.65" height="12.59" fill="#e5e0df"/>
<rect x="152.40" y="300.47" width="13.65" height="12.59" fill="#e3dddb"/>
<rect x="165.05" y="300.47" width="13.65" height="12.59" fill="#e2dad6"/>
<rect x="177.70" y="300.47" width="13.65" height="12.59" fill="#dfd6d0"/>
<rect x="190.35" y="300.47" width="13.65" height="12.59" fill="#ddd1c8"/>
<rect x="203.00" y="300.47" width="13.65" height="12.59" fill="#dacbbc"/>
<rect x="215.65" y="300.47" width="13.65" height="12.59" fill="#d6c5ad"/>
<rect x="228.30" y="300.47" width="13.65" height="12.59" fill="#cdbe9c"/>
<rect x="240.95" y="300.47" width="13.65" height="12.59" fill="#bdb68f"/>
<rect x="253.60" y="300.47" width="13.65" height="12.59" fill="#a7af85"/>
<rect x="266.25" y="300.47" width="13.65" height="12.59" fill="#96a97e"/>
<rect x="278.90" y="300.47" width="13.65" height="12.59" fill="#8ea77d"/>
<rect x="291.55" y="300.47" width="13.65" height="12.59" fill="#94a87e"/>
<rect x="304.20" y="300.47" width="13.65" height="12.59" fill="#a4ae83"/>
<rect x="316.85" y="300.47" width="13.65" height="12.59" fill="#adb188"/>
<rect x="329.50" y="300.47" width="13.65" height="12.59" fill="#a0ad82"/>
<rect x="342.15" y="300.47" width="13.65" height="12.59" fill="#8da67d"/>
<rect x="354.80" y="300.47" width="11.20" height="12.59" fill="#71a077"/>
<rect x="43.60" y="312.06" width="8.60" height="12.59" fill="#ebeaf0"/>
<rect x="51.20" y="312.06" width="13.65" height="12.59" fill="#ebeaf0"/>
<rect x="63.85" y="312.06" width="13.65" height="12.59" fill="#ebeaf0"/>
<rect x="76.50" y="312.06" width="13.65" height="12.59" fill="#ebeaf0"/>
<rect x="89.15" y="312.06" width="13.65" height="12.59" fill="#eae9ef"/>
<rect x="101.80" y="312.06" width="13.65" height="12.59" fill="#e9e7eb"/>
<rect x="114.45" y="312.06" width="13.65" height="12.59" fill="#e8e5e7"/>
<rect x="127.10" y="312.06" width="13.65" height="12.59" fill="#e7e3e4"/>
<rect x="139.75" y="312.06" width="13.65" height="12.59" fill="#e5e1e0"/>
<rect x="152.40" y="312.06" width="13.65" height="12.59" fill="#e4dedc"/>
<rect x="165.05" y="312.06" width="13.65" height="12.59" fill="#e2dbd7"/>
<rect x="177.70" y="312.06" width="13.65" height="12.59" fill="#e0d7d1"/>
<rect x="190.35" y="312.06" width="13.65" height="12.59" fill="#ddd2c9"/>
<rect x="203.00" y="312.06" width="13.65" height="12.59" fill="#daccbe"/>
<rect x="215.65" y="312.06" width="13.65" height="12.59" fill="#d7c7b1"/>
<rect x="228.30" y="312.06" width="13.65" height="12.59" fill="#d0bf9f"/>
<rect x="240.95" y="312.06" width="13.65" height="12.59" fill="#bdb68f"/>
<rect x="253.60" y="312.06" width="13.65" height="12.59" fill="#a9b086"/>
<rect x="266.25" y="312.06" width="13.65" height="12.59" fill="#9dac81"/>
<rect x="278.90" y="312.06" width="13.65" height="12.59" fill="#9aaa7f"/>
<rect x="291.55" y="312.06" width="13.65" height="12.59" fill="#a4af84"/>
<rect x="304.20" y="312.06" width="13.65" height="12.59" fill="#b7b48c"/>
<rect x="316.85" y="312.06" width="13.65" height="12.59" fill="#bdb68f"/>
<rect x="329.50" y="312.06" width="13.65" height="12.59" fill="#aeb288"/>
<rect x="342.15" y="312.06" width="13.65" height="12.59" fill="#90a77d"/>
<rect x="354.80" y="312.06" width="11.20" height="12.59" fill="#6a9e76"/>
<rect x="43.60" y="323.65" width="8.60" height="12.59" fill="#ebeaf0"/>
<rect x="51.20" y="323.65" width="13.65" height="12.59" fill="#ebeaf0"/>
<rect x="63.85" y="323.65" width="13.65" height="12.59" fill="#ebeaf0"/>
<rect x="76.50" y="323.65" width="13.65" height="12.59" fill="#ebeaf0"/>
<rect x="89.15" y="323.65" width="13.65" height="12.59" fill="#ebeaf0"/>
<rect x="101.80" y="323.65" width="13.65" height="12.59" fill="#eae8ec"/>
<rect x="114.45" y="323.65" width="13.65" height="12.59" fill="#e8e6e9"/>
<rect x="127.10" y="323.65" width="13.65" height="12.59" fill="#e7e4e5"/>
<rect x="139.75" y="323.65" width="13.65" height="12.59" fill="#e6e2e1"/>
<rect x="152.40" y="323.65" width="13.65" height="12.59" fill="#e4dfdd"/>
<rect x="165.05" y="323.65" width="13.65" height="12.59" fill="#e3dcd9"/>
<rect x="177.70" y="323.65" width="13.65" height="12.59" fill="#e1d8d3"/>
<rect x="190.35" y="323.65" width="13.65" height="12.59" fill="#ded4cc"/>
<rect x="203.00" y="323.65" width="13.65" height="12.59" fill="#dbcfc3"/>
<rect x="215.65" y="323.65" width="13.65" height="12.59" fill="#d8c9b5"/>
<rect x="228.30" y="323.65" width="13.65" height="12.59" fill="#d2c0a2"/>
<rect x="240.95" y="323.65" width="13.65" height="12.59" fill="#c4b993"/>
<rect x="253.60" y="323.65" width="13.65" height="12.59" fill="#b5b38b"/>
<rect x="266.25" y="323.65" width="13.65" height="12.59" fill="#b2b38a"/>
<rect x="278.90" y="323.65" width="13.65" height="12.59" fill="#b9b58d"/>
<rect x="291.55" y="323.65" width="13.65" height="12.59" fill="#c8bb97"/>
<rect x="304.20" y="323.65" width="13.65" height="12.59" fill="#cfbf9f"/>
<rect x="316.85" y="323.65" width="13.65" height="12.59" fill="#cbbd9a"/>
<rect x="329.50" y="323.65" width="13.65" height="12.59" fill="#bdb78f"/>
<rect x="342.15" y="323.65" width="13.65" height="12.59" fill="#97aa7f"/>
<rect x="354.80" y="323.65" width="11.20" height="12.59" fill="#679e76"/>
<rect x="43.60" y="335.23" width="8.60" height="12.59" fill="#ebeaf0"/>
<rect x="51.20" y="335.23" width="13.65" height="12.59" fill="#ebeaf0"/>
<rect x="63.85" y="335.23" width="13.65" height="12.59" fill="#ebeaf0"/>
<rect x="76.50" y="335.23" width="13.65" height="12.59" fill="#ebeaf0"/>
<rect x="89.15" y="335.23" width="13.65" height="12.59" fill="#ebeaf0"/>
<rect x="101.80" y="335.23" width="13.65" height="12.59" fill="#eae9ee"/>
<rect x="114.45" y="335.23" width="13.65" height="12.59" fill="#e9e7ea"/>
<rect x="127.10" y="335.23" width="13.65" height="12.59" fill="#e8e5e6"/>
<rect x="139.75" y="335.23" width="13.65" height="12.59" fill="#e6e2e3"/>
<rect x="152.40" y="335.23" width="13.65" height="12.59" fill="#e5e0df"/>
<rect x="165.05" y="335.23" width="13.65" height="12.59" fill="#e3dddb"/>
<rect x="177.70" y="335.23" width="13.65" height="12.59" fill="#e2dad6"/>
<rect x="190.35" y="335.23" width="13.65" height="12.59" fill="#e0d6d0"/>
<rect x="203.00" y="335.23" width="13.65" height="12.59" fill="#ddd2c9"/>
<rect x="215.65" y="335.23" width="13.65" height="12.59" fill="#daccbd"/>
<rect x="228.30" y="335.23" width="13.65" height="12.59" fill="#d5c4ac"/>
<rect x="240.95" y="335.23" width="13.65" height="12.59" fill="#cfbf9f"/>
<rect x="253.60" y="335.23" width="13.65" height="12.59" fill="#cabc99"/>
<rect x="266.25" y="335.23" width="13.65" height="12.59" fill="#cebe9d"/>
<rect x="278.90" y="335.23" width="13.65" height="12.59" fill="#d6c5ae"/>
<rect x="291.55" y="335.23" width="13.65" height="12.59" fill="#daccbc"/>
<rect x="304.20" y="335.23" width="13.65" height="12.59" fill="#d9cbba"/>
<rect x="316.85" y="335.23" width="13.65" height="12.59" fill="#d5c4ac"/>
<rect x="329.50" y="335.23" width="13.65" height="12.59" fill="#c8bb96"/>
<rect x="342.15" y="335.23" width="13.65" height="12.59" fill="#a3ae83"/>
<rect x="354.80" y="335.23" width="11.20" height="12.59" fill="#79a279"/>
<rect x="43.60" y="346.82" width="8.60" height="12.59" fill="#ebeaf0"/>
<rect x="51.20" y="346.82" width="13.65" height="12.59" fill="#ebeaf0"/>
<rect x="63.85" y="346.82" width="13.65" height="12.59" fill="#ebeaf0"/>
<rect x="76.50" y="346.82" width="13.65" height="12.59" fill="#ebeaf0"/>
<rect x="89.15" y="346.82" width="13.65" height="12.59" fill="#ebeaf0"/>
<rect x="101.80" y="346.82" width="13.65" height="12.59" fill="#ebe9ef"/>
<rect x="114.45" y="346.82" width="13.65" height="12.59" fill="#e9e7eb"/>
<rect x="127.10" y="346.82" width="13.65" height="12.59" fill="#e8e5e8"/>
<rect x="139.75" y="346.82" width="13.65" height="12.59" fill="#e7e3e4"/>
<rect x="152.40" y="346.82" width="13.65" height="12.59" fill="#e6e1e1"/>
<rect x="165.05" y="346.82" width="13.65" height="12.59" fill="#e4dfdd"/>
<rect x="177.70" y="346.82" width="13.65" height="12.59" fill="#e3dcd9"/>
<rect x="190.35" y="346.82" width="13.65" height="12.59" fill="#e1d9d5"/>
<rect x="203.00" y="346.82" width="13.65" height="12.59" fill="#dfd5ce"/>
<rect x="215.65" y="346.82" width="13.65" height="12.59" fill="#dcd0c5"/>
<rect x="228.30" y="346.82" width="13.65" height="12.59" fill="#d9cbba"/>
<rect x="240.95" y="346.82" width="13.65" height="12.59" fill="#d8c8b4"/>
<rect x="253.60" y="346.82" width="13.65" height="12.59" fill="#d8c9b5"/>
<rect x="266.25" y="346.82" width="13.65" height="12.59" fill="#dbcec2"/>
<rect x="278.90" y="346.82" width="13.65" height="12.59" fill="#dfd6cf"/>
<rect x="291.55" y="346.82" width="13.65" height="12.59" fill="#dfd6cf"/>
<rect x="304.20" y="346.82" width="13.65" height="12.59" fill="#ded4cc"/>
<rect x="316.85" y="346.82" width="13.65" height="12.59" fill="#dacdbf"/>
<rect x="329.50" y="346.82" width="13.65" height="12.59" fill="#d5c3aa"/>
<rect x="342.15" y="346.82" width="13.65" height="12.59" fill="#beb790"/>
<rect x="354.80" y="346.82" width="11.20" height="12.59" fill="#98aa7f"/>
<rect x="43.60" y="358.40" width="8.60" height="10.40" fill="#ebeaf0"/>
<rect x="51.20" y="358.40" width="13.65" height="10.40" fill="#ebeaf0"/>
<rect x="63.85" y="358.40" width="13.65" height="10.40" fill="#ebeaf0"/>
<rect x="76.50" y="358.40" width="13.65" height="10.40" fill="#ebeaf0"/>
<rect x="89.15" y="358.40" width="13.65" height="10.40" fill="#ebeaf0"/>
<rect x="101.80" y="358.40" width="13.65" height="10.40" fill="#ebeaf0"/>
<rect x="114.45" y="358.40" width="13.65" height="10.40" fill="#eae8ed"/>
<rect x="127.10" y="358.40" width="13.65" height="10.40" fill="#e9e6ea"/>
<rect x="139.75" y="358.40" width="13.65" height="10.40" fill="#e8e4e6"/>
<rect x="152.40" y="358.40" width="13.65" height="10.40" fill="#e6e3e3"/>
<rect x="165.05" y="358.40" width="13.65" height="10.40" fill="#e5e1e0"/>
<rect x="177.70" y="358.40" width="13.65" height="10.40" fill="#e4dfdd"/>
<rect x="190.35" y="358.40" width="13.65" height="10.40" fill="#e3dcd9"/>
<rect x="203.00" y="358.40" width="13.65" height="10.40" fill="#e1d9d4"/>
<rect x="215.65" y="358.40" width="13.65" height="10.40" fill="#dfd5cd"/>
<rect x="228.30" y="358.40" width="13.65" height="10.40" fill="#dcd0c7"/>
<rect x="240.95" y="358.40" width="13.65" height="10.40" fill="#dcd1c7"/>
<rect x="253.60" y="358.40" width="13.65" height="10.40" fill="#dfd6cf"/>
<rect x="266.25" y="358.40" width="13.65" height="10.40" fill="#e3dddb"/>
<rect x="278.90" y="358.40" width="13.65" height="10.40" fill="#e6e3e3"/>
<rect x="291.55" y="358.40" width="13.65" height="10.40" fill="#e6e2e2"/>
<rect x="304.20" y="358.40" width="13.65" height="10.40" fill="#e4dedd"/>
<rect x="316.85" y="358.40" width="13.65" height="10.40" fill="#e0d8d2"/>
<rect x="329.50" y="358.40" width="13.65" height="10.40" fill="#dccfc4"/>
<rect x="342.15" y="358.40" width="13.65" height="10.40" fill="#d3c2a6"/>
<rect x="354.80" y="358.40" width="11.20" height="10.40" fill="#b9b58d"/>
</g>
<g clip-path="url(#cBL)"><g fill="none" stroke="#dd2f5c" stroke-width="1.2" stroke-linejoin="round" stroke-linecap="butt">
<path d="M112.3,190.4 C112.9,194.2 115.3,207.6 115.8,211.3 C116.3,215.0 117.5,227.3 118.0,231.2 C118.5,235.0 120.3,249.7 120.9,253.3 C121.5,256.9 123.9,267.3 124.6,270.4"/>
<path d="M130.9,294.5 C131.0,294.9 130.6,294.9 131.3,296.9 C132.0,298.9 137.5,312.7 139.0,316.8 C140.5,320.9 146.4,337.7 147.9,341.1 C149.4,344.5 154.3,352.2 155.6,354.3 C156.9,356.4 161.2,362.4 162.5,364.2"/>
<path d="M179.9,190.4 C180.3,193.8 181.6,205.4 182.1,209.1 C182.6,212.8 184.8,227.6 185.4,231.2 C186.0,234.8 188.4,246.4 188.8,248.9 C189.2,251.4 190.1,257.8 190.3,258.8 C190.5,259.8 190.5,259.5 190.6,259.7"/>
<path d="M195.8,284.0 C195.9,284.3 195.7,283.4 196.0,285.4 C196.3,287.4 198.3,302.6 198.7,305.7 C199.1,308.8 200.4,317.1 200.9,319.0 C201.4,320.9 202.9,324.7 204.0,326.7 C205.1,328.7 211.2,338.7 212.8,341.1 C214.4,343.5 219.8,351.1 221.7,353.2 C223.6,355.3 231.5,362.6 233.8,363.5 C236.1,364.4 244.6,363.9 247.1,363.5 C249.6,363.1 259.0,359.7 261.5,358.8 C264.0,357.9 272.5,354.1 274.7,353.2 C276.9,352.3 283.8,349.4 285.8,348.8 C287.8,348.2 294.6,346.7 296.8,346.6 C299.0,346.5 308.0,347.0 310.1,347.7 C312.2,348.4 318.1,353.2 319.6,354.2 C321.1,355.2 325.3,358.0 326.6,358.9 C327.9,359.8 332.4,363.2 333.7,364.2"/>
<path d="M212.8,190.4 C212.9,193.8 213.1,205.6 213.3,209.1 C213.5,212.6 214.6,225.8 215.0,229.0 C215.4,232.2 217.2,241.8 217.7,244.5 C218.2,247.2 220.3,257.4 220.6,258.8 C220.9,260.2 220.8,259.5 220.8,259.7"/>
<path d="M226.3,284.0 C226.3,284.3 226.2,283.4 226.5,285.4 C226.8,287.4 228.6,301.6 229.4,305.7 C230.2,309.8 233.6,326.7 234.9,330.0 C236.2,333.3 241.6,340.8 243.8,342.2 C246.0,343.6 256.4,345.5 259.2,345.5 C262.0,345.5 272.1,343.0 274.7,342.2 C277.3,341.4 285.8,337.5 288.0,336.7 C290.2,335.9 297.0,333.9 299.0,333.4 C301.0,332.9 307.9,331.0 310.1,331.1 C312.3,331.2 320.8,333.8 322.5,334.7 C324.2,335.6 327.3,340.0 328.4,341.2 C329.5,342.4 333.8,347.1 334.9,348.3 C336.0,349.5 339.2,353.1 340.2,354.2 C341.2,355.3 344.6,359.1 345.5,360.0 C346.4,360.9 348.8,363.4 349.6,364.2"/>
<path d="M236.7,190.4 C236.5,193.8 235.5,205.8 235.4,209.1 C235.3,212.4 235.6,223.8 236.0,226.8 C236.4,229.8 238.5,239.2 239.4,242.2 C240.3,245.2 245.3,258.2 246.0,259.9 C246.7,261.6 246.6,260.9 246.7,261.1"/>
<path d="M252.3,284.3 C252.3,284.5 252.3,284.2 252.2,285.8 C252.1,287.4 251.0,298.4 250.9,301.3 C250.8,304.2 250.8,315.3 251.5,317.9 C252.2,320.5 256.4,328.8 258.1,330.0 C259.8,331.2 268.2,331.1 270.3,331.1 C272.4,331.1 279.3,330.1 281.3,329.6 C283.3,329.1 290.2,326.5 292.4,325.6 C294.6,324.7 303.0,321.3 305.7,320.1 C308.4,318.9 320.1,313.0 322.2,312.8 C324.3,312.6 327.7,316.9 328.9,317.9 C330.1,318.9 334.6,322.2 335.5,323.4 C336.4,324.6 338.2,329.5 338.8,331.1 C339.4,332.7 341.2,339.4 342.1,341.1 C343.0,342.8 347.5,348.3 348.8,349.9 C350.1,351.5 355.4,357.6 356.5,358.8 C357.6,360.0 360.3,362.6 361.1,363.5"/>
<path d="M268.1,190.4 C268.0,193.8 267.5,205.9 267.6,209.1 C267.7,212.3 268.3,223.6 269.2,225.7 C270.1,227.8 275.2,231.2 276.9,232.3 C278.6,233.4 286.3,237.1 288.0,237.8 C289.7,238.5 293.9,238.9 295.3,240.0 C296.7,241.1 302.7,247.6 303.4,249.5 C304.1,251.4 302.9,258.9 302.7,260.3 C302.5,261.7 301.6,264.5 301.4,265.0 C301.2,265.5 301.1,265.8 301.1,266.0"/>
<path d="M307.3,279.0 C307.8,278.6 309.4,277.8 310.1,277.2 C310.8,276.6 314.4,273.3 315.5,272.4 C316.6,271.5 320.5,268.1 322.3,267.0 C324.1,265.9 332.9,261.4 335.0,260.3 C337.1,259.2 343.0,256.4 345.4,255.5 C347.8,254.6 358.2,251.7 361.1,250.8"/>
<path d="M358.4,310.1 C358.2,311.6 357.4,316.5 357.3,318.3 C357.2,320.1 357.4,328.2 357.7,330.1 C358.0,332.0 360.5,337.4 361.1,339.0"/>
<path d="M290.2,190.4 C290.8,191.8 292.8,196.8 293.5,198.0 C294.2,199.2 297.1,202.6 297.9,203.6"/>
<path d="M322.4,204.8 C324.0,204.4 329.4,202.8 331.0,202.5 C332.6,202.2 338.4,201.5 340.3,201.4 C342.2,201.3 349.5,201.5 351.2,201.7 C352.9,201.9 358.1,202.9 358.9,203.3 C359.7,203.7 359.7,205.2 359.7,205.6 C359.7,206.0 358.9,207.7 358.7,208.1"/>
<path d="M335.4,194.0 C340.0,193.9 358.1,193.6 360.5,193.5 C362.9,193.4 361.0,193.4 361.1,193.4"/>
</g>
<text class="s" x="129.0" y="285.2" font-size="8.6" style="fill:#dd2f5c;stroke:#dd2f5c;stroke-width:0.2px" text-anchor="middle" transform="rotate(72 129.0 282.1)">0.95</text>
<text class="s" x="193.8" y="274.9" font-size="8.6" style="fill:#dd2f5c;stroke:#dd2f5c;stroke-width:0.2px" text-anchor="middle" transform="rotate(84 193.8 271.8)">0.90</text>
<text class="s" x="223.7" y="274.9" font-size="8.6" style="fill:#dd2f5c;stroke:#dd2f5c;stroke-width:0.2px" text-anchor="middle" transform="rotate(82 223.7 271.8)">0.85</text>
<text class="s" x="253.2" y="274.9" font-size="8.6" style="fill:#dd2f5c;stroke:#dd2f5c;stroke-width:0.2px" text-anchor="middle" transform="rotate(84 253.2 271.8)">0.80</text>
<text class="s" x="297.0" y="280.9" font-size="8.6" style="fill:#dd2f5c;stroke:#dd2f5c;stroke-width:0.2px" text-anchor="middle" transform="rotate(-90 297.0 277.8)">0.70</text>
<text class="s" x="359.6" y="300.8" font-size="8.6" style="fill:#dd2f5c;stroke:#dd2f5c;stroke-width:0.2px" text-anchor="middle" transform="rotate(-80 359.6 297.7)">0.70</text>
<text class="s" x="310.1" y="209.9" font-size="8.6" style="fill:#dd2f5c;stroke:#dd2f5c;stroke-width:0.2px" text-anchor="middle" transform="rotate(-3 310.1 206.8)">0.60</text>
<text class="s" x="360.3" y="223.4" font-size="8.6" style="fill:#dd2f5c;stroke:#dd2f5c;stroke-width:0.2px" text-anchor="middle" transform="rotate(63 360.3 220.3)">0.60</text>
<text class="s" x="322.9" y="196.3" font-size="8.6" style="fill:#dd2f5c;stroke:#dd2f5c;stroke-width:0.2px" text-anchor="middle" transform="rotate(5 322.9 193.2)">0.50</text>
</g>
<rect x="52.6" y="190.4" width="86.1" height="19.7" fill="#fff" fill-opacity="0.8"/>
<rect x="52.6" y="210.1" width="52.1" height="15.8" fill="#fff" fill-opacity="0.8"/>
<text class="s" x="0" y="0" font-size="16.6" style="stroke:#000;stroke-width:0.35px" transform="translate(53.90,205.30) scale(1.077,1)">TNG100-1</text>
<text class="t" x="54.2" y="222.5" font-size="14.6" font-style="italic">z</text>
<path d="M63.9,215.6H74.0M63.9,219.5H74.0" stroke="#000" stroke-width="0.95" fill="none"/>
<text class="t" x="77.1" y="222.5" font-size="15.3">1.00</text>
<rect x="43.6" y="187.0" width="321.40" height="180.80" fill="none" stroke="#000" stroke-width="1.25"/>
<path d="M53.80,367.80v-4.4M53.80,187.00v4.4M187.20,367.80v-4.4M187.20,187.00v4.4M320.60,367.80v-4.4M320.60,187.00v4.4M43.60,359.85h4.4M365.00,359.85h-4.4M43.60,310.80h4.4M365.00,310.80h-4.4M43.60,261.75h4.4M365.00,261.75h-4.4M43.60,212.70h4.4M365.00,212.70h-4.4M43.60,197.93h4.4M365.00,197.93h-4.4" stroke="#000" stroke-width="1.1" fill="none"/>
<path d="M47.70,367.80v-2.3M47.70,187.00v2.3M93.96,367.80v-2.3M93.96,187.00v2.3M117.45,367.80v-2.3M117.45,187.00v2.3M134.11,367.80v-2.3M134.11,187.00v2.3M147.04,367.80v-2.3M147.04,187.00v2.3M157.61,367.80v-2.3M157.61,187.00v2.3M166.54,367.80v-2.3M166.54,187.00v2.3M174.27,367.80v-2.3M174.27,187.00v2.3M181.10,367.80v-2.3M181.10,187.00v2.3M227.36,367.80v-2.3M227.36,187.00v2.3M250.85,367.80v-2.3M250.85,187.00v2.3M267.51,367.80v-2.3M267.51,187.00v2.3M280.44,367.80v-2.3M280.44,187.00v2.3M291.01,367.80v-2.3M291.01,187.00v2.3M299.94,367.80v-2.3M299.94,187.00v2.3M307.67,367.80v-2.3M307.67,187.00v2.3M314.50,367.80v-2.3M314.50,187.00v2.3M360.76,367.80v-2.3M360.76,187.00v2.3M43.60,367.45h2.3M365.00,367.45h-2.3M43.60,364.60h2.3M365.00,364.60h-2.3M43.60,362.09h2.3M365.00,362.09h-2.3M43.60,345.08h2.3M365.00,345.08h-2.3M43.60,336.45h2.3M365.00,336.45h-2.3M43.60,330.32h2.3M365.00,330.32h-2.3M43.60,325.57h2.3M365.00,325.57h-2.3M43.60,321.68h2.3M365.00,321.68h-2.3M43.60,318.40h2.3M365.00,318.40h-2.3M43.60,315.55h2.3M365.00,315.55h-2.3M43.60,313.04h2.3M365.00,313.04h-2.3M43.60,296.03h2.3M365.00,296.03h-2.3M43.60,287.40h2.3M365.00,287.40h-2.3M43.60,281.27h2.3M365.00,281.27h-2.3M43.60,276.52h2.3M365.00,276.52h-2.3M43.60,272.63h2.3M365.00,272.63h-2.3M43.60,269.35h2.3M365.00,269.35h-2.3M43.60,266.50h2.3M365.00,266.50h-2.3M43.60,263.99h2.3M365.00,263.99h-2.3M43.60,246.98h2.3M365.00,246.98h-2.3M43.60,238.35h2.3M365.00,238.35h-2.3M43.60,232.22h2.3M365.00,232.22h-2.3M43.60,227.47h2.3M365.00,227.47h-2.3M43.60,223.58h2.3M365.00,223.58h-2.3M43.60,220.30h2.3M365.00,220.30h-2.3M43.60,217.45h2.3M365.00,217.45h-2.3M43.60,214.94h2.3M365.00,214.94h-2.3M43.60,189.30h2.3M365.00,189.30h-2.3" stroke="#000" stroke-width="0.85" fill="none"/>
<text class="t" x="40.3" y="201.9" font-size="13.6" text-anchor="end">200</text>
<text class="t" x="40.3" y="265.8" font-size="13.6" text-anchor="end">10</text>
<text class="t" x="40.3" y="314.8" font-size="13.6" text-anchor="end">1</text>
<text class="t" x="40.3" y="363.9" font-size="13.6" text-anchor="end">0.1</text>
<text class="t" x="54.0" y="382.0" font-size="14" text-anchor="middle">10<tspan font-size="10" dy="-5.2">−1</tspan></text>
<text class="t" x="187.4" y="382.0" font-size="14" text-anchor="middle">10<tspan font-size="10" dy="-5.2">0</tspan></text>
<text class="t" x="320.8" y="382.0" font-size="14" text-anchor="middle">10<tspan font-size="10" dy="-5.2">1</tspan></text>
<text class="u" x="204.3" y="402.7" font-size="17.6" text-anchor="middle"><tspan font-style="italic">k</tspan> [<tspan font-style="italic">h</tspan>Mpc<tspan font-size="12.5" dy="-6.5">−1</tspan><tspan dy="6.5">]</tspan></text>
<g clip-path="url(#cBR)">
<rect x="375.80" y="187.00" width="8.50" height="10.20" fill="#ebeaf0"/>
<rect x="383.30" y="187.00" width="13.65" height="10.20" fill="#ebeaf0"/>
<rect x="395.95" y="187.00" width="13.65" height="10.20" fill="#ebeaf0"/>
<rect x="408.60" y="187.00" width="13.65" height="10.20" fill="#ebeaf0"/>
<rect x="421.25" y="187.00" width="13.65" height="10.20" fill="#ebeaf0"/>
<rect x="433.90" y="187.00" width="13.65" height="10.20" fill="#eae9ee"/>
<rect x="446.55" y="187.00" width="13.65" height="10.20" fill="#e8e6e8"/>
<rect x="459.20" y="187.00" width="13.65" height="10.20" fill="#e6e2e3"/>
<rect x="471.85" y="187.00" width="13.65" height="10.20" fill="#e4dfde"/>
<rect x="484.50" y="187.00" width="13.65" height="10.20" fill="#e2dcd8"/>
<rect x="497.15" y="187.00" width="13.65" height="10.20" fill="#e0d8d2"/>
<rect x="509.80" y="187.00" width="13.65" height="10.20" fill="#ded4cc"/>
<rect x="522.45" y="187.00" width="13.65" height="10.20" fill="#dbcfc3"/>
<rect x="535.10" y="187.00" width="13.65" height="10.20" fill="#d9c9b7"/>
<rect x="547.75" y="187.00" width="13.65" height="10.20" fill="#d5c3aa"/>
<rect x="560.40" y="187.00" width="13.65" height="10.20" fill="#cebe9e"/>
<rect x="573.05" y="187.00" width="13.65" height="10.20" fill="#c4b993"/>
<rect x="585.70" y="187.00" width="13.65" height="10.20" fill="#adb188"/>
<rect x="598.35" y="187.00" width="13.65" height="10.20" fill="#90a77d"/>
<rect x="611.00" y="187.00" width="13.65" height="10.20" fill="#639d75"/>
<rect x="623.65" y="187.00" width="13.65" height="10.20" fill="#27856e"/>
<rect x="636.30" y="187.00" width="13.65" height="10.20" fill="#096b6b"/>
<rect x="648.95" y="187.00" width="13.65" height="10.20" fill="#165a68"/>
<rect x="661.60" y="187.00" width="13.65" height="10.20" fill="#253550"/>
<rect x="674.25" y="187.00" width="13.65" height="10.20" fill="#23203f"/>
<rect x="686.90" y="187.00" width="11.10" height="10.20" fill="#242140"/>
<rect x="375.80" y="196.20" width="8.50" height="12.59" fill="#ebeaf0"/>
<rect x="383.30" y="196.20" width="13.65" height="12.59" fill="#ebeaf0"/>
<rect x="395.95" y="196.20" width="13.65" height="12.59" fill="#ebeaf0"/>
<rect x="408.60" y="196.20" width="13.65" height="12.59" fill="#ebeaf0"/>
<rect x="421.25" y="196.20" width="13.65" height="12.59" fill="#ebeaf0"/>
<rect x="433.90" y="196.20" width="13.65" height="12.59" fill="#eae9ee"/>
<rect x="446.55" y="196.20" width="13.65" height="12.59" fill="#e8e6e9"/>
<rect x="459.20" y="196.20" width="13.65" height="12.59" fill="#e6e3e3"/>
<rect x="471.85" y="196.20" width="13.65" height="12.59" fill="#e4dfde"/>
<rect x="484.50" y="196.20" width="13.65" height="12.59" fill="#e3dcd8"/>
<rect x="497.15" y="196.20" width="13.65" height="12.59" fill="#e0d8d2"/>
<rect x="509.80" y="196.20" width="13.65" height="12.59" fill="#ded4cc"/>
<rect x="522.45" y="196.20" width="13.65" height="12.59" fill="#dccfc4"/>
<rect x="535.10" y="196.20" width="13.65" height="12.59" fill="#d9cab9"/>
<rect x="547.75" y="196.20" width="13.65" height="12.59" fill="#d5c5ac"/>
<rect x="560.40" y="196.20" width="13.65" height="12.59" fill="#d0bf9f"/>
<rect x="573.05" y="196.20" width="13.65" height="12.59" fill="#c3b992"/>
<rect x="585.70" y="196.20" width="13.65" height="12.59" fill="#a1ad82"/>
<rect x="598.35" y="196.20" width="13.65" height="12.59" fill="#6d9f77"/>
<rect x="611.00" y="196.20" width="13.65" height="12.59" fill="#2b876e"/>
<rect x="623.65" y="196.20" width="13.65" height="12.59" fill="#0b706b"/>
<rect x="636.30" y="196.20" width="13.65" height="12.59" fill="#115f69"/>
<rect x="648.95" y="196.20" width="13.65" height="12.59" fill="#195666"/>
<rect x="661.60" y="196.20" width="13.65" height="12.59" fill="#234960"/>
<rect x="674.25" y="196.20" width="13.65" height="12.59" fill="#234960"/>
<rect x="686.90" y="196.20" width="11.10" height="12.59" fill="#224b62"/>
<rect x="375.80" y="207.79" width="8.50" height="12.59" fill="#ebeaf0"/>
<rect x="383.30" y="207.79" width="13.65" height="12.59" fill="#ebeaf0"/>
<rect x="395.95" y="207.79" width="13.65" height="12.59" fill="#ebeaf0"/>
<rect x="408.60" y="207.79" width="13.65" height="12.59" fill="#ebeaf0"/>
<rect x="421.25" y="207.79" width="13.65" height="12.59" fill="#ebeaf0"/>
<rect x="433.90" y="207.79" width="13.65" height="12.59" fill="#eae9ee"/>
<rect x="446.55" y="207.79" width="13.65" height="12.59" fill="#e8e6e9"/>
<rect x="459.20" y="207.79" width="13.65" height="12.59" fill="#e6e3e3"/>
<rect x="471.85" y="207.79" width="13.65" height="12.59" fill="#e5dfde"/>
<rect x="484.50" y="207.79" width="13.65" height="12.59" fill="#e3dcd8"/>
<rect x="497.15" y="207.79" width="13.65" height="12.59" fill="#e0d8d2"/>
<rect x="509.80" y="207.79" width="13.65" height="12.59" fill="#ded4cc"/>
<rect x="522.45" y="207.79" width="13.65" height="12.59" fill="#dccfc5"/>
<rect x="535.10" y="207.79" width="13.65" height="12.59" fill="#d9cbba"/>
<rect x="547.75" y="207.79" width="13.65" height="12.59" fill="#d6c5ae"/>
<rect x="560.40" y="207.79" width="13.65" height="12.59" fill="#cfbe9e"/>
<rect x="573.05" y="207.79" width="13.65" height="12.59" fill="#bcb68f"/>
<rect x="585.70" y="207.79" width="13.65" height="12.59" fill="#96a97e"/>
<rect x="598.35" y="207.79" width="13.65" height="12.59" fill="#629c75"/>
<rect x="611.00" y="207.79" width="13.65" height="12.59" fill="#29866e"/>
<rect x="623.65" y="207.79" width="13.65" height="12.59" fill="#0a6f6b"/>
<rect x="636.30" y="207.79" width="13.65" height="12.59" fill="#105f69"/>
<rect x="648.95" y="207.79" width="13.65" height="12.59" fill="#195666"/>
<rect x="661.60" y="207.79" width="13.65" height="12.59" fill="#1d5164"/>
<rect x="674.25" y="207.79" width="13.65" height="12.59" fill="#1a5566"/>
<rect x="686.90" y="207.79" width="11.10" height="12.59" fill="#165a68"/>
<rect x="375.80" y="219.37" width="8.50" height="12.59" fill="#ebeaf0"/>
<rect x="383.30" y="219.37" width="13.65" height="12.59" fill="#ebeaf0"/>
<rect x="395.95" y="219.37" width="13.65" height="12.59" fill="#ebeaf0"/>
<rect x="408.60" y="219.37" width="13.65" height="12.59" fill="#ebeaf0"/>
<rect x="421.25" y="219.37" width="13.65" height="12.59" fill="#ebeaf0"/>
<rect x="433.90" y="219.37" width="13.65" height="12.59" fill="#eae9ee"/>
<rect x="446.55" y="219.37" width="13.65" height="12.59" fill="#e9e6e9"/>
<rect x="459.20" y="219.37" width="13.65" height="12.59" fill="#e7e3e4"/>
<rect x="471.85" y="219.37" width="13.65" height="12.59" fill="#e5e0de"/>
<rect x="484.50" y="219.37" width="13.65" height="12.59" fill="#e3dcd9"/>
<rect x="497.15" y="219.37" width="13.65" height="12.59" fill="#e1d8d3"/>
<rect x="509.80" y="219.37" width="13.65" height="12.59" fill="#ded4cc"/>
<rect x="522.45" y="219.37" width="13.65" height="12.59" fill="#dcd0c5"/>
<rect x="535.10" y="219.37" width="13.65" height="12.59" fill="#daccbc"/>
<rect x="547.75" y="219.37" width="13.65" height="12.59" fill="#d6c6af"/>
<rect x="560.40" y="219.37" width="13.65" height="12.59" fill="#cdbe9c"/>
<rect x="573.05" y="219.37" width="13.65" height="12.59" fill="#b4b38b"/>
<rect x="585.70" y="219.37" width="13.65" height="12.59" fill="#8da77d"/>
<rect x="598.35" y="219.37" width="13.65" height="12.59" fill="#5e9b74"/>
<rect x="611.00" y="219.37" width="13.65" height="12.59" fill="#2c876e"/>
<rect x="623.65" y="219.37" width="13.65" height="12.59" fill="#0c726c"/>
<rect x="636.30" y="219.37" width="13.65" height="12.59" fill="#0c646a"/>
<rect x="648.95" y="219.37" width="13.65" height="12.59" fill="#165a68"/>
<rect x="661.60" y="219.37" width="13.65" height="12.59" fill="#185767"/>
<rect x="674.25" y="219.37" width="13.65" height="12.59" fill="#155a68"/>
<rect x="686.90" y="219.37" width="11.10" height="12.59" fill="#106069"/>
<rect x="375.80" y="230.96" width="8.50" height="12.59" fill="#ebeaf0"/>
<rect x="383.30" y="230.96" width="13.65" height="12.59" fill="#ebeaf0"/>
<rect x="395.95" y="230.96" width="13.65" height="12.59" fill="#ebeaf0"/>
<rect x="408.60" y="230.96" width="13.65" height="12.59" fill="#ebeaf0"/>
<rect x="421.25" y="230.96" width="13.65" height="12.59" fill="#ebeaf0"/>
<rect x="433.90" y="230.96" width="13.65" height="12.59" fill="#ebe9ef"/>
<rect x="446.55" y="230.96" width="13.65" height="12.59" fill="#e9e6ea"/>
<rect x="459.20" y="230.96" width="13.65" height="12.59" fill="#e7e3e4"/>
<rect x="471.85" y="230.96" width="13.65" height="12.59" fill="#e5e0df"/>
<rect x="484.50" y="230.96" width="13.65" height="12.59" fill="#e3ddda"/>
<rect x="497.15" y="230.96" width="13.65" height="12.59" fill="#e1d9d4"/>
<rect x="509.80" y="230.96" width="13.65" height="12.59" fill="#dfd5cd"/>
<rect x="522.45" y="230.96" width="13.65" height="12.59" fill="#dcd0c6"/>
<rect x="535.10" y="230.96" width="13.65" height="12.59" fill="#dacdbf"/>
<rect x="547.75" y="230.96" width="13.65" height="12.59" fill="#d7c7b2"/>
<rect x="560.40" y="230.96" width="13.65" height="12.59" fill="#cbbd9a"/>
<rect x="573.05" y="230.96" width="13.65" height="12.59" fill="#adb187"/>
<rect x="585.70" y="230.96" width="13.65" height="12.59" fill="#88a57c"/>
<rect x="598.35" y="230.96" width="13.65" height="12.59" fill="#5e9a74"/>
<rect x="611.00" y="230.96" width="13.65" height="12.59" fill="#31896e"/>
<rect x="623.65" y="230.96" width="13.65" height="12.59" fill="#0d766c"/>
<rect x="636.30" y="230.96" width="13.65" height="12.59" fill="#08696b"/>
<rect x="648.95" y="230.96" width="13.65" height="12.59" fill="#106069"/>
<rect x="661.60" y="230.96" width="13.65" height="12.59" fill="#135d69"/>
<rect x="674.25" y="230.96" width="13.65" height="12.59" fill="#106069"/>
<rect x="686.90" y="230.96" width="11.10" height="12.59" fill="#0b656a"/>
<rect x="375.80" y="242.54" width="8.50" height="12.59" fill="#ebeaf0"/>
<rect x="383.30" y="242.54" width="13.65" height="12.59" fill="#ebeaf0"/>
<rect x="395.95" y="242.54" width="13.65" height="12.59" fill="#ebeaf0"/>
<rect x="408.60" y="242.54" width="13.65" height="12.59" fill="#ebeaf0"/>
<rect x="421.25" y="242.54" width="13.65" height="12.59" fill="#ebeaf0"/>
<rect x="433.90" y="242.54" width="13.65" height="12.59" fill="#ebeaef"/>
<rect x="446.55" y="242.54" width="13.65" height="12.59" fill="#e9e7ea"/>
<rect x="459.20" y="242.54" width="13.65" height="12.59" fill="#e7e4e5"/>
<rect x="471.85" y="242.54" width="13.65" height="12.59" fill="#e5e1e0"/>
<rect x="484.50" y="242.54" width="13.65" height="12.59" fill="#e3dddb"/>
<rect x="497.15" y="242.54" width="13.65" height="12.59" fill="#e1dad5"/>
<rect x="509.80" y="242.54" width="13.65" height="12.59" fill="#dfd5ce"/>
<rect x="522.45" y="242.54" width="13.65" height="12.59" fill="#dcd1c7"/>
<rect x="535.10" y="242.54" width="13.65" height="12.59" fill="#dbcdbf"/>
<rect x="547.75" y="242.54" width="13.65" height="12.59" fill="#d7c7b1"/>
<rect x="560.40" y="242.54" width="13.65" height="12.59" fill="#c7ba95"/>
<rect x="573.05" y="242.54" width="13.65" height="12.59" fill="#a4af84"/>
<rect x="585.70" y="242.54" width="13.65" height="12.59" fill="#86a57c"/>
<rect x="598.35" y="242.54" width="13.65" height="12.59" fill="#609b74"/>
<rect x="611.00" y="242.54" width="13.65" height="12.59" fill="#358a6f"/>
<rect x="623.65" y="242.54" width="13.65" height="12.59" fill="#117a6c"/>
<rect x="636.30" y="242.54" width="13.65" height="12.59" fill="#0a6d6b"/>
<rect x="648.95" y="242.54" width="13.65" height="12.59" fill="#0a666b"/>
<rect x="661.60" y="242.54" width="13.65" height="12.59" fill="#0b646a"/>
<rect x="674.25" y="242.54" width="13.65" height="12.59" fill="#08686b"/>
<rect x="686.90" y="242.54" width="11.10" height="12.59" fill="#0a6f6b"/>
<rect x="375.80" y="254.13" width="8.50" height="12.59" fill="#ebeaf0"/>
<rect x="383.30" y="254.13" width="13.65" height="12.59" fill="#ebeaf0"/>
<rect x="395.95" y="254.13" width="13.65" height="12.59" fill="#ebeaf0"/>
<rect x="408.60" y="254.13" width="13.65" height="12.59" fill="#ebeaf0"/>
<rect x="421.25" y="254.13" width="13.65" height="12.59" fill="#ebeaf0"/>
<rect x="433.90" y="254.13" width="13.65" height="12.59" fill="#ebeaf0"/>
<rect x="446.55" y="254.13" width="13.65" height="12.59" fill="#e9e7eb"/>
<rect x="459.20" y="254.13" width="13.65" height="12.59" fill="#e7e4e6"/>
<rect x="471.85" y="254.13" width="13.65" height="12.59" fill="#e6e1e1"/>
<rect x="484.50" y="254.13" width="13.65" height="12.59" fill="#e4dedc"/>
<rect x="497.15" y="254.13" width="13.65" height="12.59" fill="#e2dbd7"/>
<rect x="509.80" y="254.13" width="13.65" height="12.59" fill="#e0d7d1"/>
<rect x="522.45" y="254.13" width="13.65" height="12.59" fill="#ddd2c9"/>
<rect x="535.10" y="254.13" width="13.65" height="12.59" fill="#dacdbf"/>
<rect x="547.75" y="254.13" width="13.65" height="12.59" fill="#d5c5ac"/>
<rect x="560.40" y="254.13" width="13.65" height="12.59" fill="#c1b891"/>
<rect x="573.05" y="254.13" width="13.65" height="12.59" fill="#a0ad82"/>
<rect x="585.70" y="254.13" width="13.65" height="12.59" fill="#86a57c"/>
<rect x="598.35" y="254.13" width="13.65" height="12.59" fill="#639d75"/>
<rect x="611.00" y="254.13" width="13.65" height="12.59" fill="#388b6f"/>
<rect x="623.65" y="254.13" width="13.65" height="12.59" fill="#157e6d"/>
<rect x="636.30" y="254.13" width="13.65" height="12.59" fill="#0c726c"/>
<rect x="648.95" y="254.13" width="13.65" height="12.59" fill="#0a6e6b"/>
<rect x="661.60" y="254.13" width="13.65" height="12.59" fill="#0b716c"/>
<rect x="674.25" y="254.13" width="13.65" height="12.59" fill="#0e786c"/>
<rect x="686.90" y="254.13" width="11.10" height="12.59" fill="#19816e"/>
<rect x="375.80" y="265.72" width="8.50" height="12.59" fill="#ebeaf0"/>
<rect x="383.30" y="265.72" width="13.65" height="12.59" fill="#ebeaf0"/>
<rect x="395.95" y="265.72" width="13.65" height="12.59" fill="#ebeaf0"/>
<rect x="408.60" y="265.72" width="13.65" height="12.59" fill="#ebeaf0"/>
<rect x="421.25" y="265.72" width="13.65" height="12.59" fill="#ebeaf0"/>
<rect x="433.90" y="265.72" width="13.65" height="12.59" fill="#ebeaf0"/>
<rect x="446.55" y="265.72" width="13.65" height="12.59" fill="#e9e7eb"/>
<rect x="459.20" y="265.72" width="13.65" height="12.59" fill="#e8e5e6"/>
<rect x="471.85" y="265.72" width="13.65" height="12.59" fill="#e6e2e2"/>
<rect x="484.50" y="265.72" width="13.65" height="12.59" fill="#e4dfde"/>
<rect x="497.15" y="265.72" width="13.65" height="12.59" fill="#e3dcd9"/>
<rect x="509.80" y="265.72" width="13.65" height="12.59" fill="#e1d8d3"/>
<rect x="522.45" y="265.72" width="13.65" height="12.59" fill="#ded3cb"/>
<rect x="535.10" y="265.72" width="13.65" height="12.59" fill="#daccbc"/>
<rect x="547.75" y="265.72" width="13.65" height="12.59" fill="#d3c1a5"/>
<rect x="560.40" y="265.72" width="13.65" height="12.59" fill="#bbb68e"/>
<rect x="573.05" y="265.72" width="13.65" height="12.59" fill="#a0ad82"/>
<rect x="585.70" y="265.72" width="13.65" height="12.59" fill="#8aa67c"/>
<rect x="598.35" y="265.72" width="13.65" height="12.59" fill="#679e76"/>
<rect x="611.00" y="265.72" width="13.65" height="12.59" fill="#388c6f"/>
<rect x="623.65" y="265.72" width="13.65" height="12.59" fill="#18806e"/>
<rect x="636.30" y="265.72" width="13.65" height="12.59" fill="#0e786c"/>
<rect x="648.95" y="265.72" width="13.65" height="12.59" fill="#117a6c"/>
<rect x="661.60" y="265.72" width="13.65" height="12.59" fill="#21846e"/>
<rect x="674.25" y="265.72" width="13.65" height="12.59" fill="#31896e"/>
<rect x="686.90" y="265.72" width="11.10" height="12.59" fill="#3f8e70"/>
<rect x="375.80" y="277.30" width="8.50" height="12.59" fill="#ebeaf0"/>
<rect x="383.30" y="277.30" width="13.65" height="12.59" fill="#ebeaf0"/>
<rect x="395.95" y="277.30" width="13.65" height="12.59" fill="#ebeaf0"/>
<rect x="408.60" y="277.30" width="13.65" height="12.59" fill="#ebeaf0"/>
<rect x="421.25" y="277.30" width="13.65" height="12.59" fill="#ebeaf0"/>
<rect x="433.90" y="277.30" width="13.65" height="12.59" fill="#ebeaf0"/>
<rect x="446.55" y="277.30" width="13.65" height="12.59" fill="#eae8ec"/>
<rect x="459.20" y="277.30" width="13.65" height="12.59" fill="#e8e5e7"/>
<rect x="471.85" y="277.30" width="13.65" height="12.59" fill="#e6e2e2"/>
<rect x="484.50" y="277.30" width="13.65" height="12.59" fill="#e5e0df"/>
<rect x="497.15" y="277.30" width="13.65" height="12.59" fill="#e3ddda"/>
<rect x="509.80" y="277.30" width="13.65" height="12.59" fill="#e1d9d5"/>
<rect x="522.45" y="277.30" width="13.65" height="12.59" fill="#ded4cc"/>
<rect x="535.10" y="277.30" width="13.65" height="12.59" fill="#d9cbba"/>
<rect x="547.75" y="277.30" width="13.65" height="12.59" fill="#d0bfa0"/>
<rect x="560.40" y="277.30" width="13.65" height="12.59" fill="#b7b48c"/>
<rect x="573.05" y="277.30" width="13.65" height="12.59" fill="#a0ad82"/>
<rect x="585.70" y="277.30" width="13.65" height="12.59" fill="#8aa67c"/>
<rect x="598.35" y="277.30" width="13.65" height="12.59" fill="#659d75"/>
<rect x="611.00" y="277.30" width="13.65" height="12.59" fill="#388b6f"/>
<rect x="623.65" y="277.30" width="13.65" height="12.59" fill="#1b826e"/>
<rect x="636.30" y="277.30" width="13.65" height="12.59" fill="#18816e"/>
<rect x="648.95" y="277.30" width="13.65" height="12.59" fill="#29866e"/>
<rect x="661.60" y="277.30" width="13.65" height="12.59" fill="#3f8f70"/>
<rect x="674.25" y="277.30" width="13.65" height="12.59" fill="#4f9572"/>
<rect x="686.90" y="277.30" width="11.10" height="12.59" fill="#599973"/>
<rect x="375.80" y="288.89" width="8.50" height="12.59" fill="#ebeaf0"/>
<rect x="383.30" y="288.89" width="13.65" height="12.59" fill="#ebeaf0"/>
<rect x="395.95" y="288.89" width="13.65" height="12.59" fill="#ebeaf0"/>
<rect x="408.60" y="288.89" width="13.65" height="12.59" fill="#ebeaf0"/>
<rect x="421.25" y="288.89" width="13.65" height="12.59" fill="#ebeaf0"/>
<rect x="433.90" y="288.89" width="13.65" height="12.59" fill="#ebeaf0"/>
<rect x="446.55" y="288.89" width="13.65" height="12.59" fill="#eae8ec"/>
<rect x="459.20" y="288.89" width="13.65" height="12.59" fill="#e8e5e7"/>
<rect x="471.85" y="288.89" width="13.65" height="12.59" fill="#e6e3e3"/>
<rect x="484.50" y="288.89" width="13.65" height="12.59" fill="#e5e0df"/>
<rect x="497.15" y="288.89" width="13.65" height="12.59" fill="#e3dddb"/>
<rect x="509.80" y="288.89" width="13.65" height="12.59" fill="#e1d9d4"/>
<rect x="522.45" y="288.89" width="13.65" height="12.59" fill="#ded3ca"/>
<rect x="535.10" y="288.89" width="13.65" height="12.59" fill="#d8c9b6"/>
<rect x="547.75" y="288.89" width="13.65" height="12.59" fill="#cdbe9d"/>
<rect x="560.40" y="288.89" width="13.65" height="12.59" fill="#bab58d"/>
<rect x="573.05" y="288.89" width="13.65" height="12.59" fill="#a1ae83"/>
<rect x="585.70" y="288.89" width="13.65" height="12.59" fill="#89a57c"/>
<rect x="598.35" y="288.89" width="13.65" height="12.59" fill="#639d75"/>
<rect x="611.00" y="288.89" width="13.65" height="12.59" fill="#398c6f"/>
<rect x="623.65" y="288.89" width="13.65" height="12.59" fill="#24856e"/>
<rect x="636.30" y="288.89" width="13.65" height="12.59" fill="#2f886e"/>
<rect x="648.95" y="288.89" width="13.65" height="12.59" fill="#459171"/>
<rect x="661.60" y="288.89" width="13.65" height="12.59" fill="#5b9973"/>
<rect x="674.25" y="288.89" width="13.65" height="12.59" fill="#629c75"/>
<rect x="686.90" y="288.89" width="11.10" height="12.59" fill="#659d75"/>
<rect x="375.80" y="300.47" width="8.50" height="12.59" fill="#ebeaf0"/>
<rect x="383.30" y="300.47" width="13.65" height="12.59" fill="#ebeaf0"/>
<rect x="395.95" y="300.47" width="13.65" height="12.59" fill="#ebeaf0"/>
<rect x="408.60" y="300.47" width="13.65" height="12.59" fill="#ebeaf0"/>
<rect x="421.25" y="300.47" width="13.65" height="12.59" fill="#ebeaf0"/>
<rect x="433.90" y="300.47" width="13.65" height="12.59" fill="#ebeaf0"/>
<rect x="446.55" y="300.47" width="13.65" height="12.59" fill="#eae8ed"/>
<rect x="459.20" y="300.47" width="13.65" height="12.59" fill="#e8e5e8"/>
<rect x="471.85" y="300.47" width="13.65" height="12.59" fill="#e6e3e3"/>
<rect x="484.50" y="300.47" width="13.65" height="12.59" fill="#e5e0df"/>
<rect x="497.15" y="300.47" width="13.65" height="12.59" fill="#e3ddda"/>
<rect x="509.80" y="300.47" width="13.65" height="12.59" fill="#e1d9d3"/>
<rect x="522.45" y="300.47" width="13.65" height="12.59" fill="#ddd1c8"/>
<rect x="535.10" y="300.47" width="13.65" height="12.59" fill="#d8c7b3"/>
<rect x="547.75" y="300.47" width="13.65" height="12.59" fill="#cdbe9d"/>
<rect x="560.40" y="300.47" width="13.65" height="12.59" fill="#beb790"/>
<rect x="573.05" y="300.47" width="13.65" height="12.59" fill="#a5af84"/>
<rect x="585.70" y="300.47" width="13.65" height="12.59" fill="#87a57c"/>
<rect x="598.35" y="300.47" width="13.65" height="12.59" fill="#629c75"/>
<rect x="611.00" y="300.47" width="13.65" height="12.59" fill="#429070"/>
<rect x="623.65" y="300.47" width="13.65" height="12.59" fill="#3a8c70"/>
<rect x="636.30" y="300.47" width="13.65" height="12.59" fill="#4d9472"/>
<rect x="648.95" y="300.47" width="13.65" height="12.59" fill="#699e76"/>
<rect x="661.60" y="300.47" width="13.65" height="12.59" fill="#73a078"/>
<rect x="674.25" y="300.47" width="13.65" height="12.59" fill="#6c9f76"/>
<rect x="686.90" y="300.47" width="11.10" height="12.59" fill="#669d75"/>
<rect x="375.80" y="312.06" width="8.50" height="12.59" fill="#ebeaf0"/>
<rect x="383.30" y="312.06" width="13.65" height="12.59" fill="#ebeaf0"/>
<rect x="395.95" y="312.06" width="13.65" height="12.59" fill="#ebeaf0"/>
<rect x="408.60" y="312.06" width="13.65" height="12.59" fill="#ebeaf0"/>
<rect x="421.25" y="312.06" width="13.65" height="12.59" fill="#ebeaf0"/>
<rect x="433.90" y="312.06" width="13.65" height="12.59" fill="#ebeaf0"/>
<rect x="446.55" y="312.06" width="13.65" height="12.59" fill="#eae9ee"/>
<rect x="459.20" y="312.06" width="13.65" height="12.59" fill="#e8e6e9"/>
<rect x="471.85" y="312.06" width="13.65" height="12.59" fill="#e7e3e4"/>
<rect x="484.50" y="312.06" width="13.65" height="12.59" fill="#e5e0df"/>
<rect x="497.15" y="312.06" width="13.65" height="12.59" fill="#e3ddda"/>
<rect x="509.80" y="312.06" width="13.65" height="12.59" fill="#e0d8d2"/>
<rect x="522.45" y="312.06" width="13.65" height="12.59" fill="#ddd1c8"/>
<rect x="535.10" y="312.06" width="13.65" height="12.59" fill="#d7c7b2"/>
<rect x="547.75" y="312.06" width="13.65" height="12.59" fill="#cfbe9e"/>
<rect x="560.40" y="312.06" width="13.65" height="12.59" fill="#c3b992"/>
<rect x="573.05" y="312.06" width="13.65" height="12.59" fill="#a9b086"/>
<rect x="585.70" y="312.06" width="13.65" height="12.59" fill="#87a57c"/>
<rect x="598.35" y="312.06" width="13.65" height="12.59" fill="#649d75"/>
<rect x="611.00" y="312.06" width="13.65" height="12.59" fill="#509572"/>
<rect x="623.65" y="312.06" width="13.65" height="12.59" fill="#559772"/>
<rect x="636.30" y="312.06" width="13.65" height="12.59" fill="#689e76"/>
<rect x="648.95" y="312.06" width="13.65" height="12.59" fill="#7aa279"/>
<rect x="661.60" y="312.06" width="13.65" height="12.59" fill="#7ca279"/>
<rect x="674.25" y="312.06" width="13.65" height="12.59" fill="#6f9f77"/>
<rect x="686.90" y="312.06" width="11.10" height="12.59" fill="#609c74"/>
<rect x="375.80" y="323.65" width="8.50" height="12.59" fill="#ebeaf0"/>
<rect x="383.30" y="323.65" width="13.65" height="12.59" fill="#ebeaf0"/>
<rect x="395.95" y="323.65" width="13.65" height="12.59" fill="#ebeaf0"/>
<rect x="408.60" y="323.65" width="13.65" height="12.59" fill="#ebeaf0"/>
<rect x="421.25" y="323.65" width="13.65" height="12.59" fill="#ebeaf0"/>
<rect x="433.90" y="323.65" width="13.65" height="12.59" fill="#ebeaf0"/>
<rect x="446.55" y="323.65" width="13.65" height="12.59" fill="#ebe9ef"/>
<rect x="459.20" y="323.65" width="13.65" height="12.59" fill="#e9e6ea"/>
<rect x="471.85" y="323.65" width="13.65" height="12.59" fill="#e7e3e4"/>
<rect x="484.50" y="323.65" width="13.65" height="12.59" fill="#e5e0df"/>
<rect x="497.15" y="323.65" width="13.65" height="12.59" fill="#e3dcd9"/>
<rect x="509.80" y="323.65" width="13.65" height="12.59" fill="#e0d7d2"/>
<rect x="522.45" y="323.65" width="13.65" height="12.59" fill="#dcd1c7"/>
<rect x="535.10" y="323.65" width="13.65" height="12.59" fill="#d8c8b4"/>
<rect x="547.75" y="323.65" width="13.65" height="12.59" fill="#d0bfa0"/>
<rect x="560.40" y="323.65" width="13.65" height="12.59" fill="#c6ba94"/>
<rect x="573.05" y="323.65" width="13.65" height="12.59" fill="#acb187"/>
<rect x="585.70" y="323.65" width="13.65" height="12.59" fill="#86a57c"/>
<rect x="598.35" y="323.65" width="13.65" height="12.59" fill="#699e76"/>
<rect x="611.00" y="323.65" width="13.65" height="12.59" fill="#659d75"/>
<rect x="623.65" y="323.65" width="13.65" height="12.59" fill="#74a178"/>
<rect x="636.30" y="323.65" width="13.65" height="12.59" fill="#83a47b"/>
<rect x="648.95" y="323.65" width="13.65" height="12.59" fill="#8fa77d"/>
<rect x="661.60" y="323.65" width="13.65" height="12.59" fill="#88a57c"/>
<rect x="674.25" y="323.65" width="13.65" height="12.59" fill="#73a077"/>
<rect x="686.90" y="323.65" width="11.10" height="12.59" fill="#5a9973"/>
<rect x="375.80" y="335.23" width="8.50" height="12.59" fill="#ebeaf0"/>
<rect x="383.30" y="335.23" width="13.65" height="12.59" fill="#ebeaf0"/>
<rect x="395.95" y="335.23" width="13.65" height="12.59" fill="#ebeaf0"/>
<rect x="408.60" y="335.23" width="13.65" height="12.59" fill="#ebeaf0"/>
<rect x="421.25" y="335.23" width="13.65" height="12.59" fill="#ebeaf0"/>
<rect x="433.90" y="335.23" width="13.65" height="12.59" fill="#ebeaf0"/>
<rect x="446.55" y="335.23" width="13.65" height="12.59" fill="#ebeaf0"/>
<rect x="459.20" y="335.23" width="13.65" height="12.59" fill="#e9e7eb"/>
<rect x="471.85" y="335.23" width="13.65" height="12.59" fill="#e7e4e5"/>
<rect x="484.50" y="335.23" width="13.65" height="12.59" fill="#e5e0e0"/>
<rect x="497.15" y="335.23" width="13.65" height="12.59" fill="#e3dcd9"/>
<rect x="509.80" y="335.23" width="13.65" height="12.59" fill="#e0d7d1"/>
<rect x="522.45" y="335.23" width="13.65" height="12.59" fill="#dcd1c7"/>
<rect x="535.10" y="335.23" width="13.65" height="12.59" fill="#d9cab9"/>
<rect x="547.75" y="335.23" width="13.65" height="12.59" fill="#d4c3a9"/>
<rect x="560.40" y="335.23" width="13.65" height="12.59" fill="#cabc99"/>
<rect x="573.05" y="335.23" width="13.65" height="12.59" fill="#b1b289"/>
<rect x="585.70" y="335.23" width="13.65" height="12.59" fill="#94a87e"/>
<rect x="598.35" y="335.23" width="13.65" height="12.59" fill="#8ca67d"/>
<rect x="611.00" y="335.23" width="13.65" height="12.59" fill="#95a97e"/>
<rect x="623.65" y="335.23" width="13.65" height="12.59" fill="#a1ad82"/>
<rect x="636.30" y="335.23" width="13.65" height="12.59" fill="#abb187"/>
<rect x="648.95" y="335.23" width="13.65" height="12.59" fill="#a8b085"/>
<rect x="661.60" y="335.23" width="13.65" height="12.59" fill="#96a97e"/>
<rect x="674.25" y="335.23" width="13.65" height="12.59" fill="#78a279"/>
<rect x="686.90" y="335.23" width="11.10" height="12.59" fill="#569873"/>
<rect x="375.80" y="346.82" width="8.50" height="12.59" fill="#ebeaf0"/>
<rect x="383.30" y="346.82" width="13.65" height="12.59" fill="#ebeaf0"/>
<rect x="395.95" y="346.82" width="13.65" height="12.59" fill="#ebeaf0"/>
<rect x="408.60" y="346.82" width="13.65" height="12.59" fill="#ebeaf0"/>
<rect x="421.25" y="346.82" width="13.65" height="12.59" fill="#ebeaf0"/>
<rect x="433.90" y="346.82" width="13.65" height="12.59" fill="#ebeaf0"/>
<rect x="446.55" y="346.82" width="13.65" height="12.59" fill="#ebeaf0"/>
<rect x="459.20" y="346.82" width="13.65" height="12.59" fill="#eae8ed"/>
<rect x="471.85" y="346.82" width="13.65" height="12.59" fill="#e8e5e7"/>
<rect x="484.50" y="346.82" width="13.65" height="12.59" fill="#e6e2e1"/>
<rect x="497.15" y="346.82" width="13.65" height="12.59" fill="#e4dedb"/>
<rect x="509.80" y="346.82" width="13.65" height="12.59" fill="#e1d9d4"/>
<rect x="522.45" y="346.82" width="13.65" height="12.59" fill="#ded3cb"/>
<rect x="535.10" y="346.82" width="13.65" height="12.59" fill="#dbcdc0"/>
<rect x="547.75" y="346.82" width="13.65" height="12.59" fill="#d8c8b3"/>
<rect x="560.40" y="346.82" width="13.65" height="12.59" fill="#d1bfa0"/>
<rect x="573.05" y="346.82" width="13.65" height="12.59" fill="#bdb78f"/>
<rect x="585.70" y="346.82" width="13.65" height="12.59" fill="#adb187"/>
<rect x="598.35" y="346.82" width="13.65" height="12.59" fill="#b7b48c"/>
<rect x="611.00" y="346.82" width="13.65" height="12.59" fill="#c5ba93"/>
<rect x="623.65" y="346.82" width="13.65" height="12.59" fill="#ccbd9b"/>
<rect x="636.30" y="346.82" width="13.65" height="12.59" fill="#cdbd9c"/>
<rect x="648.95" y="346.82" width="13.65" height="12.59" fill="#c4b993"/>
<rect x="661.60" y="346.82" width="13.65" height="12.59" fill="#a9b086"/>
<rect x="674.25" y="346.82" width="13.65" height="12.59" fill="#80a37a"/>
<rect x="686.90" y="346.82" width="11.10" height="12.59" fill="#5b9973"/>
<rect x="375.80" y="358.40" width="8.50" height="10.40" fill="#ebeaf0"/>
<rect x="383.30" y="358.40" width="13.65" height="10.40" fill="#ebeaf0"/>
<rect x="395.95" y="358.40" width="13.65" height="10.40" fill="#ebeaf0"/>
<rect x="408.60" y="358.40" width="13.65" height="10.40" fill="#ebeaf0"/>
<rect x="421.25" y="358.40" width="13.65" height="10.40" fill="#ebeaf0"/>
<rect x="433.90" y="358.40" width="13.65" height="10.40" fill="#ebeaf0"/>
<rect x="446.55" y="358.40" width="13.65" height="10.40" fill="#ebeaf0"/>
<rect x="459.20" y="358.40" width="13.65" height="10.40" fill="#ebe9ef"/>
<rect x="471.85" y="358.40" width="13.65" height="10.40" fill="#e9e7ea"/>
<rect x="484.50" y="358.40" width="13.65" height="10.40" fill="#e7e3e4"/>
<rect x="497.15" y="358.40" width="13.65" height="10.40" fill="#e5dfde"/>
<rect x="509.80" y="358.40" width="13.65" height="10.40" fill="#e2dbd7"/>
<rect x="522.45" y="358.40" width="13.65" height="10.40" fill="#dfd6cf"/>
<rect x="535.10" y="358.40" width="13.65" height="10.40" fill="#ddd1c8"/>
<rect x="547.75" y="358.40" width="13.65" height="10.40" fill="#daccbe"/>
<rect x="560.40" y="358.40" width="13.65" height="10.40" fill="#d7c7b2"/>
<rect x="573.05" y="358.40" width="13.65" height="10.40" fill="#d5c3aa"/>
<rect x="585.70" y="358.40" width="13.65" height="10.40" fill="#d9c9b7"/>
<rect x="598.35" y="358.40" width="13.65" height="10.40" fill="#dcd0c6"/>
<rect x="611.00" y="358.40" width="13.65" height="10.40" fill="#dfd5ce"/>
<rect x="623.65" y="358.40" width="13.65" height="10.40" fill="#ddd1c8"/>
<rect x="636.30" y="358.40" width="13.65" height="10.40" fill="#dbcec1"/>
<rect x="648.95" y="358.40" width="13.65" height="10.40" fill="#d5c4ac"/>
<rect x="661.60" y="358.40" width="13.65" height="10.40" fill="#c4b993"/>
<rect x="674.25" y="358.40" width="13.65" height="10.40" fill="#9fad82"/>
<rect x="686.90" y="358.40" width="11.10" height="10.40" fill="#7ba279"/>
</g>
<g clip-path="url(#cBR)"><g fill="none" stroke="#dd2f5c" stroke-width="1.2" stroke-linejoin="round" stroke-linecap="butt">
<path d="M467.5,190.4 C467.6,192.2 467.9,198.2 468.0,200.0 C468.1,201.8 468.2,207.5 468.4,210.2 C468.6,212.9 469.5,225.5 469.9,229.0 C470.3,232.5 472.5,245.1 473.2,248.9 C473.9,252.8 477.3,268.9 477.7,271.0 C478.1,273.1 477.8,271.5 477.8,271.7"/>
<path d="M481.1,296.4 C481.1,296.5 481.1,295.0 481.2,296.9 C481.3,298.8 482.2,312.8 482.5,316.8 C482.8,320.8 484.0,336.7 484.7,340.0 C485.4,343.3 488.8,351.0 489.8,353.2 C490.8,355.4 494.3,362.2 495.3,364.2"/>
<path d="M525.2,190.4 C525.4,193.8 526.0,205.4 526.3,209.1 C526.6,212.8 528.0,227.3 528.5,231.2 C529.0,235.0 531.4,248.5 531.8,251.1 C532.2,253.7 533.0,258.2 533.3,259.8"/>
<path d="M533.3,284.8 C533.3,285.0 533.5,284.1 533.3,285.8 C533.1,287.5 531.0,299.9 530.7,303.5 C530.4,307.1 529.7,322.2 529.6,325.6 C529.5,329.0 529.4,338.5 530.0,341.1 C530.6,343.7 534.7,352.2 536.0,354.3 C537.3,356.4 542.7,362.4 544.2,364.2"/>
<path d="M629.2,363.7 L636.8,364.2"/>
<path d="M561.4,190.4 C561.8,192.6 563.5,199.8 563.6,202.5 C563.7,205.2 562.7,216.7 562.5,220.1 C562.3,223.5 561.7,237.0 561.4,240.0 C561.1,243.0 559.7,250.9 559.2,253.3 C558.7,255.7 556.6,265.3 556.3,266.6 C556.0,267.9 556.1,267.6 556.0,267.8"/>
<path d="M551.0,292.3 C550.9,295.6 550.3,306.6 550.4,310.1 C550.5,313.6 551.7,327.0 552.6,330.0 C553.5,333.0 559.1,341.1 560.3,343.3 C561.5,345.5 564.5,352.3 566.0,354.0 C567.5,355.7 574.4,361.0 576.8,361.6 C579.2,362.2 589.6,360.9 592.6,360.5 C595.6,360.1 606.2,357.9 609.5,357.4 C612.8,356.9 625.4,355.0 628.4,354.8 C631.4,354.6 639.8,354.4 642.1,354.8 C644.4,355.2 652.1,358.6 653.7,359.5 C655.3,360.4 658.8,363.3 660.0,364.2"/>
<path d="M586.8,190.4 C586.0,193.8 583.3,205.4 582.4,209.1 C581.5,212.8 577.8,227.3 576.9,231.2 C576.0,235.0 573.2,247.5 572.5,251.1 C571.8,254.7 569.7,267.4 569.1,271.0"/>
<path d="M568.6,295.9 C568.6,296.1 568.3,295.2 568.7,296.9 C569.1,298.6 571.7,310.4 572.5,314.6 C573.3,318.8 575.8,338.7 576.9,342.2 C578.0,345.7 582.7,352.1 584.6,353.2 C586.5,354.3 595.3,354.6 597.9,354.3 C600.5,354.0 610.5,350.6 613.3,349.9 C616.1,349.2 626.2,347.1 628.8,346.6 C631.4,346.1 639.7,344.4 642.1,344.4 C644.5,344.4 653.3,345.7 655.3,346.6 C657.3,347.5 662.6,352.7 664.2,354.3 C665.8,355.9 671.4,362.4 673.0,364.2"/>
<path d="M612.2,190.4 C610.6,192.2 604.5,198.2 603.4,200.3 C602.3,202.4 600.6,210.7 600.1,213.5 C599.6,216.3 598.1,228.2 597.9,231.2 C597.7,234.2 597.4,244.2 597.4,246.7 C597.4,249.2 597.8,256.4 597.9,258.6"/>
<path d="M599.1,283.5 C599.1,283.9 599.1,283.4 599.0,285.8 C598.9,288.2 597.9,306.1 597.9,310.1 C597.9,314.1 598.4,326.9 598.9,329.0 C599.4,331.1 601.7,332.8 603.2,333.2 C604.7,333.6 613.5,333.7 615.8,333.5 C618.1,333.3 626.4,331.2 628.6,330.5 C630.8,329.8 637.3,326.8 639.4,325.7 C641.5,324.6 649.1,319.8 651.0,318.7 C652.9,317.6 658.5,314.1 660.0,313.3 C661.5,312.5 666.0,310.0 667.0,310.0 C668.0,310.0 669.6,312.0 670.5,313.2 C671.4,314.4 675.9,320.8 676.8,322.6 C677.7,324.4 679.5,331.3 680.0,333.2 C680.5,335.1 681.6,341.2 682.0,343.0 C682.4,344.8 683.6,351.9 684.2,353.2 C684.8,354.5 687.7,356.2 688.5,357.0 C689.3,357.8 692.3,361.4 693.2,362.4"/>
<path d="M628.8,190.4 C626.6,192.6 617.8,199.8 616.7,202.5 C615.6,205.2 616.5,216.7 616.7,220.1 C616.9,223.5 618.5,236.5 618.9,240.0 C619.3,243.5 620.9,257.0 621.1,258.8 C621.3,260.6 621.2,259.8 621.2,260.0"/>
<path d="M622.6,285.0 C623.1,286.9 624.6,294.1 625.2,295.4 C625.8,296.7 628.1,298.9 629.5,298.8 C630.9,298.7 638.4,295.8 640.7,294.5 C643.0,293.2 651.9,286.8 654.4,285.1 C656.9,283.4 665.8,276.9 668.2,275.6 C670.6,274.3 677.9,271.3 680.2,270.4 C682.5,269.5 690.8,266.8 693.2,266.0"/>
<path d="M644.3,190.4 C642.5,192.8 635.1,201.1 634.3,203.6 C633.5,206.1 634.9,215.5 635.4,218.0 C635.9,220.5 638.9,228.8 639.9,231.2 C640.9,233.6 645.2,242.6 645.8,243.8 C646.4,245.0 646.2,244.2 646.3,244.3"/>
<path d="M667.8,252.8 C670.1,252.0 677.9,249.9 680.2,248.9 C682.5,247.9 690.8,243.3 693.2,242.0"/>
<path d="M662.0,190.4 L662.2,192.6"/>
<path d="M680.3,202.5 C680.4,202.5 679.6,202.6 680.8,202.5 C682.0,202.4 690.9,201.6 693.2,201.4"/>
</g>
<text class="s" x="479.8" y="287.1" font-size="8.6" style="fill:#dd2f5c;stroke:#dd2f5c;stroke-width:0.2px" text-anchor="middle" transform="rotate(86 479.8 284.0)">0.95</text>
<text class="s" x="533.5" y="275.4" font-size="8.6" style="fill:#dd2f5c;stroke:#dd2f5c;stroke-width:0.2px" text-anchor="middle" transform="rotate(-90 533.5 272.3)">0.90</text>
<text class="s" x="616.8" y="365.4" font-size="8.6" style="fill:#dd2f5c;stroke:#dd2f5c;stroke-width:0.2px" text-anchor="middle" transform="rotate(0 616.8 362.3)">0.90</text>
<text class="s" x="553.3" y="283.1" font-size="8.6" style="fill:#dd2f5c;stroke:#dd2f5c;stroke-width:0.2px" text-anchor="middle" transform="rotate(-80 553.3 280.0)">0.85</text>
<text class="s" x="566.8" y="286.6" font-size="8.6" style="fill:#dd2f5c;stroke:#dd2f5c;stroke-width:0.2px" text-anchor="middle" transform="rotate(-86 566.8 283.5)">0.80</text>
<text class="s" x="599.6" y="274.1" font-size="8.6" style="fill:#dd2f5c;stroke:#dd2f5c;stroke-width:0.2px" text-anchor="middle" transform="rotate(88 599.6 271.0)">0.70</text>
<text class="s" x="621.8" y="275.6" font-size="8.6" style="fill:#dd2f5c;stroke:#dd2f5c;stroke-width:0.2px" text-anchor="middle" transform="rotate(88 621.8 272.5)">0.60</text>
<text class="s" x="655.3" y="256.0" font-size="8.6" style="fill:#dd2f5c;stroke:#dd2f5c;stroke-width:0.2px" text-anchor="middle" transform="rotate(15 655.3 252.9)">0.50</text>
<text class="s" x="667.8" y="206.7" font-size="8.6" style="fill:#dd2f5c;stroke:#dd2f5c;stroke-width:0.2px" text-anchor="middle" transform="rotate(15 667.8 203.6)">0.40</text>
<text class="s" x="685.0" y="194.0" font-size="8.6" style="fill:#dd2f5c;stroke:#dd2f5c;stroke-width:0.2px" text-anchor="middle" transform="rotate(5 685.0 190.9)">0.30</text>
</g>
<rect x="384.8" y="190.4" width="86.1" height="19.7" fill="#fff" fill-opacity="0.8"/>
<rect x="384.8" y="210.1" width="52.1" height="15.8" fill="#fff" fill-opacity="0.8"/>
<text class="s" x="0" y="0" font-size="16.6" style="stroke:#000;stroke-width:0.35px" transform="translate(386.10,205.30) scale(1.077,1)">TNG100-1</text>
<text class="t" x="386.4" y="222.5" font-size="14.6" font-style="italic">z</text>
<path d="M396.1,215.6H406.2M396.1,219.5H406.2" stroke="#000" stroke-width="0.95" fill="none"/>
<text class="t" x="409.3" y="222.5" font-size="15.3">0.00</text>
<rect x="375.8" y="187.0" width="321.20" height="180.80" fill="none" stroke="#000" stroke-width="1.25"/>
<path d="M385.90,367.80v-4.4M385.90,187.00v4.4M519.30,367.80v-4.4M519.30,187.00v4.4M652.70,367.80v-4.4M652.70,187.00v4.4M375.80,359.85h4.4M697.00,359.85h-4.4M375.80,310.80h4.4M697.00,310.80h-4.4M375.80,261.75h4.4M697.00,261.75h-4.4M375.80,212.70h4.4M697.00,212.70h-4.4M375.80,197.93h4.4M697.00,197.93h-4.4" stroke="#000" stroke-width="1.1" fill="none"/>
<path d="M379.80,367.80v-2.3M379.80,187.00v2.3M426.06,367.80v-2.3M426.06,187.00v2.3M449.55,367.80v-2.3M449.55,187.00v2.3M466.21,367.80v-2.3M466.21,187.00v2.3M479.14,367.80v-2.3M479.14,187.00v2.3M489.71,367.80v-2.3M489.71,187.00v2.3M498.64,367.80v-2.3M498.64,187.00v2.3M506.37,367.80v-2.3M506.37,187.00v2.3M513.20,367.80v-2.3M513.20,187.00v2.3M559.46,367.80v-2.3M559.46,187.00v2.3M582.95,367.80v-2.3M582.95,187.00v2.3M599.61,367.80v-2.3M599.61,187.00v2.3M612.54,367.80v-2.3M612.54,187.00v2.3M623.11,367.80v-2.3M623.11,187.00v2.3M632.04,367.80v-2.3M632.04,187.00v2.3M639.77,367.80v-2.3M639.77,187.00v2.3M646.60,367.80v-2.3M646.60,187.00v2.3M692.86,367.80v-2.3M692.86,187.00v2.3M375.80,367.45h2.3M697.00,367.45h-2.3M375.80,364.60h2.3M697.00,364.60h-2.3M375.80,362.09h2.3M697.00,362.09h-2.3M375.80,345.08h2.3M697.00,345.08h-2.3M375.80,336.45h2.3M697.00,336.45h-2.3M375.80,330.32h2.3M697.00,330.32h-2.3M375.80,325.57h2.3M697.00,325.57h-2.3M375.80,321.68h2.3M697.00,321.68h-2.3M375.80,318.40h2.3M697.00,318.40h-2.3M375.80,315.55h2.3M697.00,315.55h-2.3M375.80,313.04h2.3M697.00,313.04h-2.3M375.80,296.03h2.3M697.00,296.03h-2.3M375.80,287.40h2.3M697.00,287.40h-2.3M375.80,281.27h2.3M697.00,281.27h-2.3M375.80,276.52h2.3M697.00,276.52h-2.3M375.80,272.63h2.3M697.00,272.63h-2.3M375.80,269.35h2.3M697.00,269.35h-2.3M375.80,266.50h2.3M697.00,266.50h-2.3M375.80,263.99h2.3M697.00,263.99h-2.3M375.80,246.98h2.3M697.00,246.98h-2.3M375.80,238.35h2.3M697.00,238.35h-2.3M375.80,232.22h2.3M697.00,232.22h-2.3M375.80,227.47h2.3M697.00,227.47h-2.3M375.80,223.58h2.3M697.00,223.58h-2.3M375.80,220.30h2.3M697.00,220.30h-2.3M375.80,217.45h2.3M697.00,217.45h-2.3M375.80,214.94h2.3M697.00,214.94h-2.3M375.80,189.30h2.3M697.00,189.30h-2.3" stroke="#000" stroke-width="0.85" fill="none"/>
<text class="t" x="386.1" y="382.0" font-size="14" text-anchor="middle">10<tspan font-size="10" dy="-5.2">−1</tspan></text>
<text class="t" x="519.5" y="382.0" font-size="14" text-anchor="middle">10<tspan font-size="10" dy="-5.2">0</tspan></text>
<text class="t" x="652.9" y="382.0" font-size="14" text-anchor="middle">10<tspan font-size="10" dy="-5.2">1</tspan></text>
<text class="u" x="536.4" y="402.7" font-size="17.6" text-anchor="middle"><tspan font-style="italic">k</tspan> [<tspan font-style="italic">h</tspan>Mpc<tspan font-size="12.5" dy="-6.5">−1</tspan><tspan dy="6.5">]</tspan></text>
<text class="t" x="0" y="0" font-size="19.5" text-anchor="middle" transform="translate(12.6,91.6) rotate(-90) scale(1.17,1)">Δ</text>
<text class="t" x="0" y="0" font-size="19.5" text-anchor="middle" transform="translate(12.6,278.1) rotate(-90) scale(1.17,1)">Δ</text>
<defs><linearGradient id="cbg" x1="0" y1="0" x2="0" y2="1"><stop offset="0.0000" stop-color="#ebeaf0"/><stop offset="0.0167" stop-color="#e9e6e9"/><stop offset="0.0333" stop-color="#e6e2e2"/><stop offset="0.0500" stop-color="#e4dedc"/><stop offset="0.0667" stop-color="#e1dad5"/><stop offset="0.0833" stop-color="#dfd6cf"/><stop offset="0.1000" stop-color="#ddd1c8"/><stop offset="0.1167" stop-color="#dbcec1"/><stop offset="0.1333" stop-color="#d9cab8"/><stop offset="0.1500" stop-color="#d7c6b0"/><stop offset="0.1667" stop-color="#d4c2a7"/><stop offset="0.1833" stop-color="#d0bfa0"/><stop offset="0.2000" stop-color="#cbbc99"/><stop offset="0.2167" stop-color="#c5b993"/><stop offset="0.2333" stop-color="#beb790"/><stop offset="0.2500" stop-color="#b7b48c"/><stop offset="0.2667" stop-color="#aeb288"/><stop offset="0.2833" stop-color="#a6af84"/><stop offset="0.3000" stop-color="#9fad82"/><stop offset="0.3167" stop-color="#98aa7f"/><stop offset="0.3333" stop-color="#91a87d"/><stop offset="0.3500" stop-color="#8aa67c"/><stop offset="0.3667" stop-color="#83a47b"/><stop offset="0.3833" stop-color="#7ba279"/><stop offset="0.4000" stop-color="#73a077"/><stop offset="0.4167" stop-color="#6a9e76"/><stop offset="0.4333" stop-color="#629c75"/><stop offset="0.4500" stop-color="#599973"/><stop offset="0.4667" stop-color="#519672"/><stop offset="0.4833" stop-color="#489271"/><stop offset="0.5000" stop-color="#3e8e70"/><stop offset="0.5167" stop-color="#378b6f"/><stop offset="0.5333" stop-color="#2f886e"/><stop offset="0.5500" stop-color="#26856e"/><stop offset="0.5667" stop-color="#1d836e"/><stop offset="0.5833" stop-color="#167f6d"/><stop offset="0.6000" stop-color="#117a6c"/><stop offset="0.6167" stop-color="#0d766c"/><stop offset="0.6333" stop-color="#0c736c"/><stop offset="0.6500" stop-color="#0b6f6b"/><stop offset="0.6667" stop-color="#096c6b"/><stop offset="0.6833" stop-color="#08686b"/><stop offset="0.7000" stop-color="#0b656a"/><stop offset="0.7167" stop-color="#0d626a"/><stop offset="0.7333" stop-color="#115e69"/><stop offset="0.7500" stop-color="#155b68"/><stop offset="0.7667" stop-color="#195767"/><stop offset="0.7833" stop-color="#1c5365"/><stop offset="0.8000" stop-color="#1f4f63"/><stop offset="0.8167" stop-color="#224c62"/><stop offset="0.8333" stop-color="#23475f"/><stop offset="0.8500" stop-color="#24435b"/><stop offset="0.8667" stop-color="#243e57"/><stop offset="0.8833" stop-color="#253853"/><stop offset="0.9000" stop-color="#25334f"/><stop offset="0.9167" stop-color="#252f4c"/><stop offset="0.9333" stop-color="#242c49"/><stop offset="0.9500" stop-color="#242845"/><stop offset="0.9667" stop-color="#242442"/><stop offset="0.9833" stop-color="#23203f"/><stop offset="1.0000" stop-color="#221c3a"/></linearGradient></defs>
<rect x="703.9" y="0.6" width="16.30" height="366.90" fill="url(#cbg)" stroke="#000" stroke-width="1.25"/>
<path d="M703.90,355.72h3.6M720.20,355.72h-3.6M703.90,303.15h3.6M720.20,303.15h-3.6M703.90,250.58h3.6M720.20,250.58h-3.6M703.90,198.01h3.6M720.20,198.01h-3.6M703.90,145.44h3.6M720.20,145.44h-3.6M703.90,92.87h3.6M720.20,92.87h-3.6M703.90,40.30h3.6M720.20,40.30h-3.6" stroke="#000" stroke-width="1.1" fill="none"/>
<path d="M703.90,366.23h2.0M720.20,366.23h-2.0M703.90,345.21h2.0M720.20,345.21h-2.0M703.90,334.69h2.0M720.20,334.69h-2.0M703.90,324.18h2.0M720.20,324.18h-2.0M703.90,313.66h2.0M720.20,313.66h-2.0M703.90,292.64h2.0M720.20,292.64h-2.0M703.90,282.12h2.0M720.20,282.12h-2.0M703.90,271.61h2.0M720.20,271.61h-2.0M703.90,261.09h2.0M720.20,261.09h-2.0M703.90,240.07h2.0M720.20,240.07h-2.0M703.90,229.55h2.0M720.20,229.55h-2.0M703.90,219.04h2.0M720.20,219.04h-2.0M703.90,208.52h2.0M720.20,208.52h-2.0M703.90,187.50h2.0M720.20,187.50h-2.0M703.90,176.98h2.0M720.20,176.98h-2.0M703.90,166.47h2.0M720.20,166.47h-2.0M703.90,155.95h2.0M720.20,155.95h-2.0M703.90,134.93h2.0M720.20,134.93h-2.0M703.90,124.41h2.0M720.20,124.41h-2.0M703.90,113.90h2.0M720.20,113.90h-2.0M703.90,103.38h2.0M720.20,103.38h-2.0M703.90,82.36h2.0M720.20,82.36h-2.0M703.90,71.84h2.0M720.20,71.84h-2.0M703.90,61.33h2.0M720.20,61.33h-2.0M703.90,50.81h2.0M720.20,50.81h-2.0M703.90,29.79h2.0M720.20,29.79h-2.0M703.90,19.27h2.0M720.20,19.27h-2.0M703.90,8.76h2.0M720.20,8.76h-2.0" stroke="#000" stroke-width="0.8" fill="none"/>
<text class="t" x="724.0" y="359.6" font-size="11.8">0.3</text>
<text class="t" x="724.0" y="307.1" font-size="11.8">0.4</text>
<text class="t" x="724.0" y="254.5" font-size="11.8">0.5</text>
<text class="t" x="724.0" y="201.9" font-size="11.8">0.6</text>
<text class="t" x="724.0" y="149.3" font-size="11.8">0.7</text>
<text class="t" x="724.0" y="96.8" font-size="11.8">0.8</text>
<text class="t" x="724.0" y="44.2" font-size="11.8">0.9</text>
<text class="u" x="0" y="0" font-size="17" text-anchor="middle" transform="translate(756.5,186.3) rotate(-90)"><tspan font-style="italic">b</tspan><tspan font-size="12" dy="-6.5" font-style="italic">W</tspan><tspan dy="6.5">(</tspan><tspan font-style="italic">k</tspan>, <tspan font-style="italic">δ</tspan>)</text>
</svg></body></html>
